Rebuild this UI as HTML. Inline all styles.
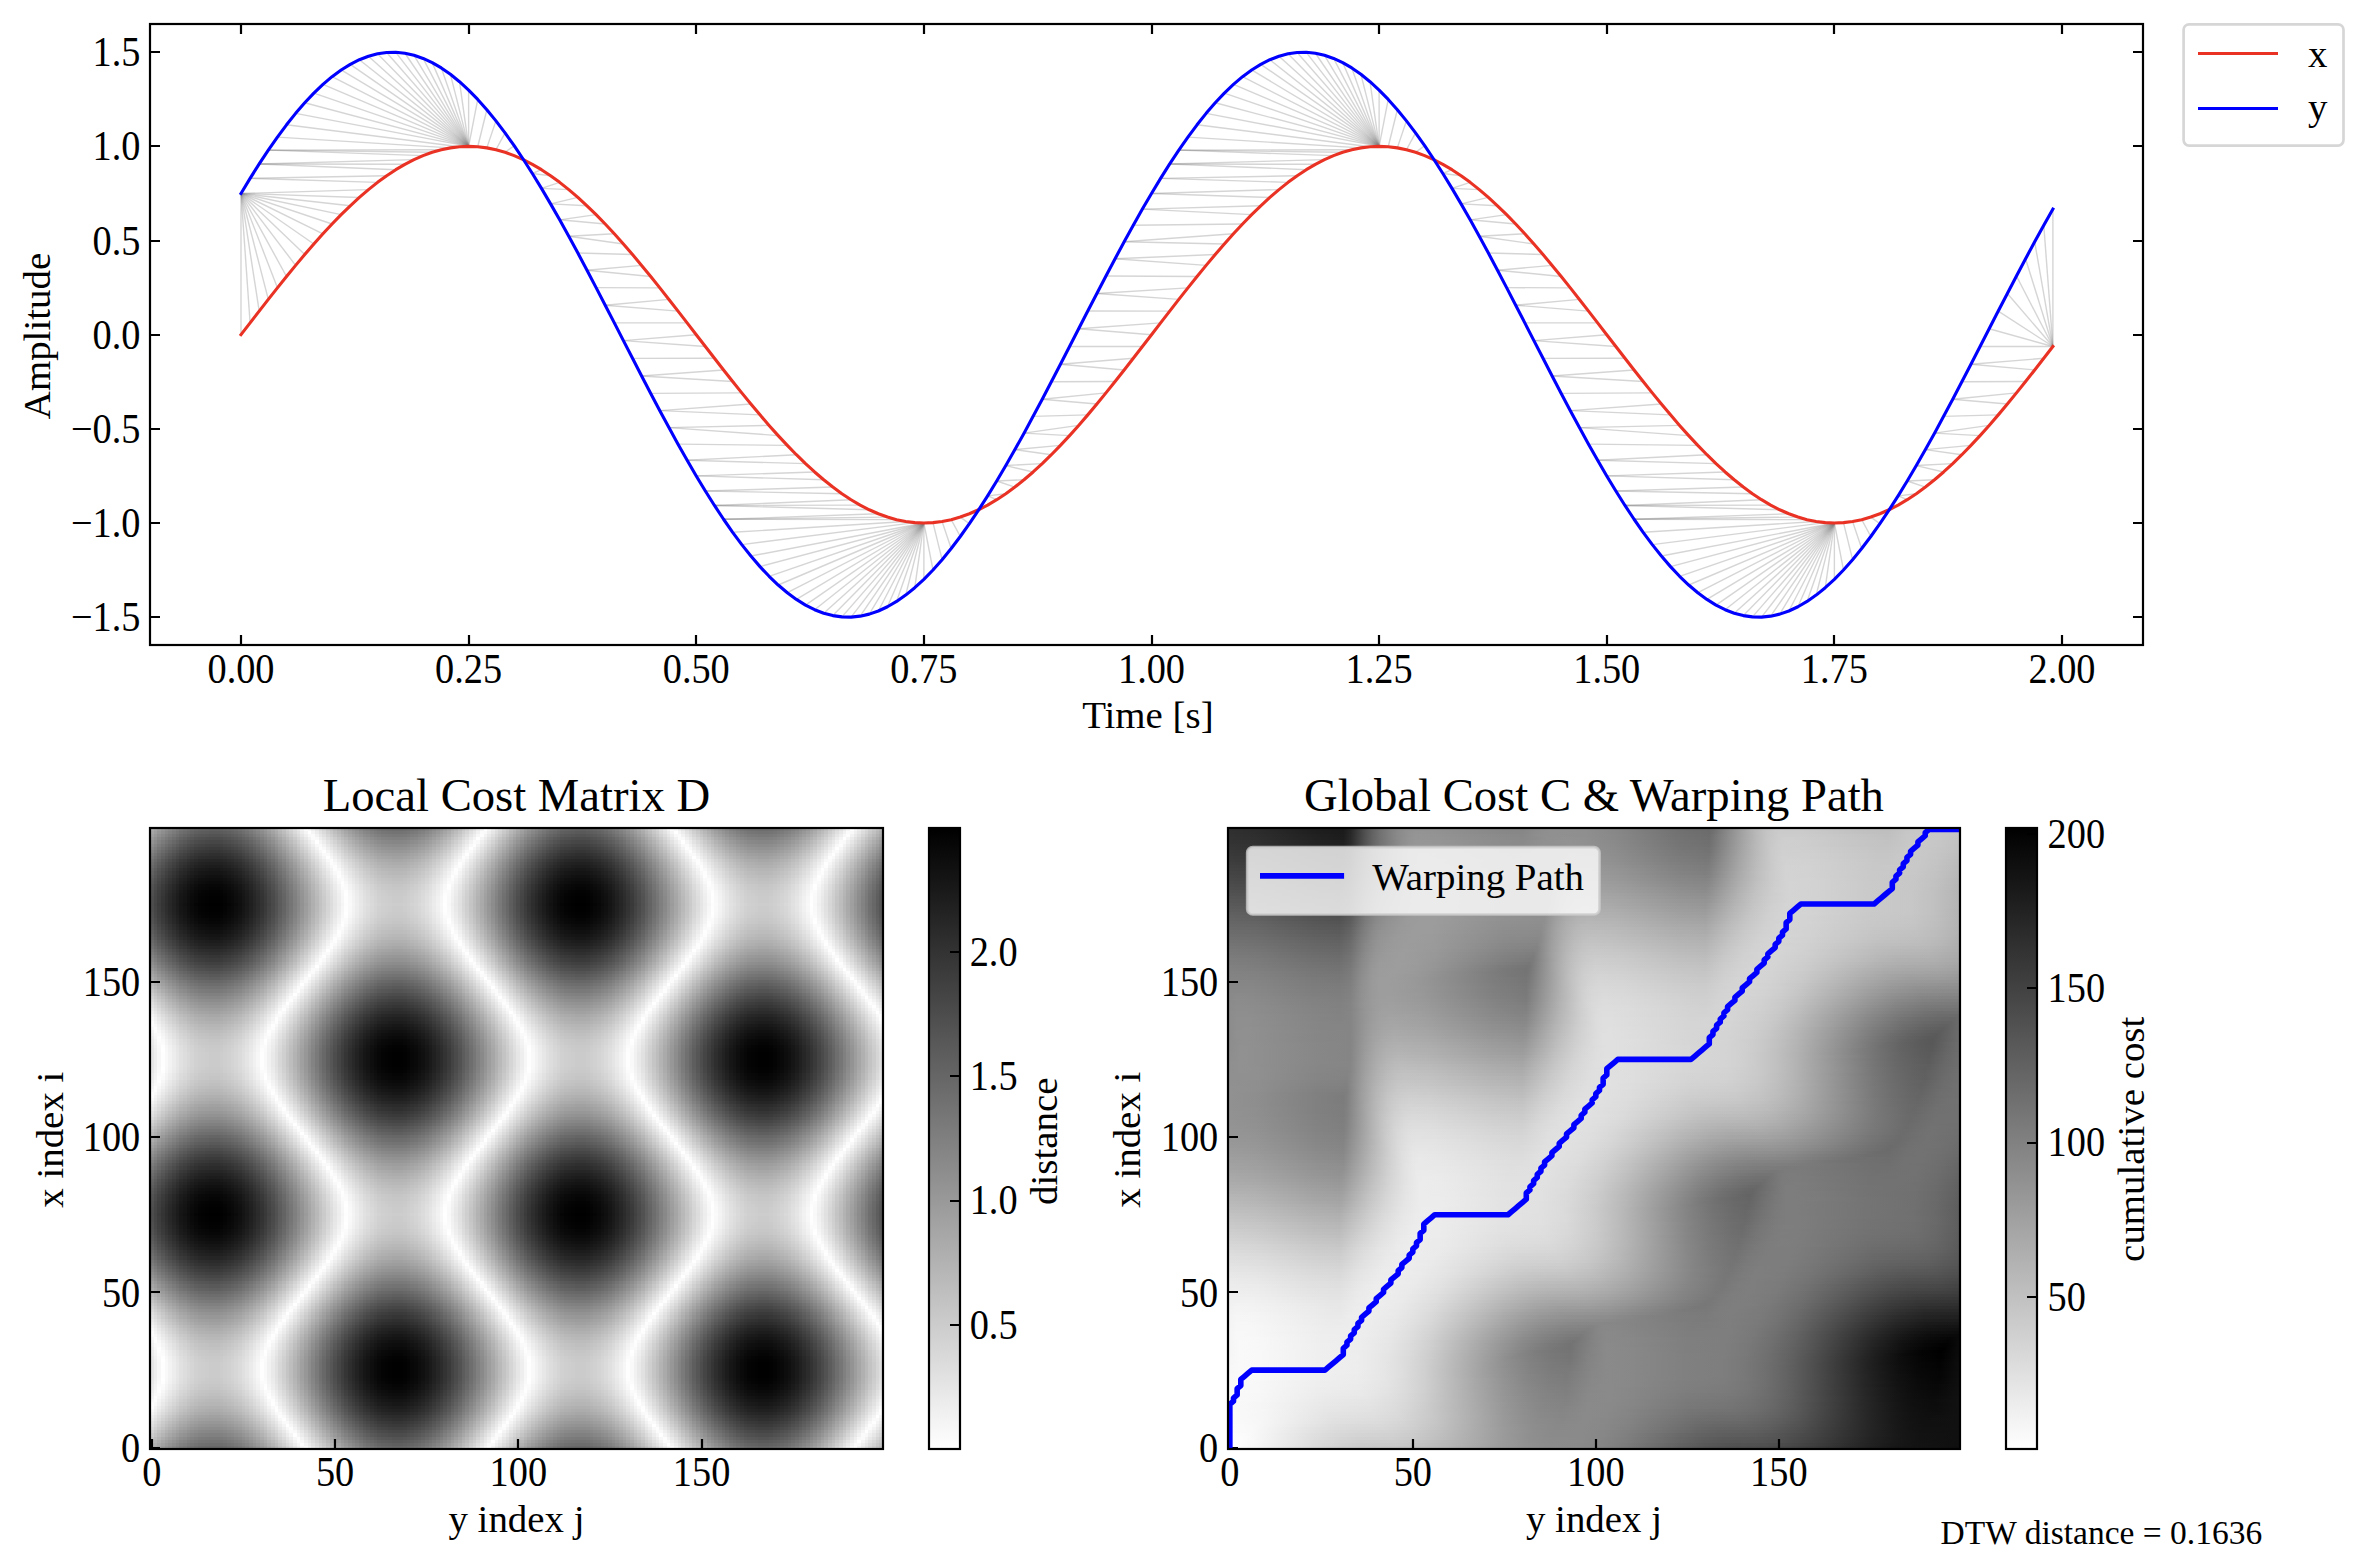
<!DOCTYPE html>
<html><head><meta charset="utf-8"><title>DTW</title>
<style>
html,body{margin:0;padding:0;background:#fff;overflow:hidden}
#fig{position:relative;width:2370px;height:1566px;overflow:hidden;background:#fff}
.h{position:absolute;overflow:hidden}
.h i{display:block;height:3px;width:100%}
.h i.b{height:4px}
.h i.c{height:2px}
.l{position:absolute;left:0;top:0;width:100%;height:100%}
svg text{white-space:pre}
</style></head><body><div id="fig">
<div class="h" style="left:150px;top:828px;width:733px;height:621px;isolation:isolate;filter:brightness(1.2002) invert(1)"><div class="l" style="background:linear-gradient(90deg,#bfbfbf 0% 0.5%,#c6c6c6 0.5% 1%,#cdcdcd 1% 1.5%,#d3d3d3 1.5% 2%,#d9d9d9 2% 2.5%,#dedede 2.5% 3%,#e3e3e3 3% 3.5%,#e8e8e8 3.5% 4%,#ededed 4% 4.5%,#f0f0f0 4.5% 5%,#f4f4f4 5% 5.5%,#f7f7f7 5.5% 6%,#fafafa 6% 6.5%,#fcfcfc 6.5% 7%,#fdfdfd 7% 7.5%,#fefefe 7.5% 8%,#fff 8% 8.5%,#fff 8.5% 9%,#fff 9% 9.5%,#fefefe 9.5% 10%,#fcfcfc 10% 10.5%,#fafafa 10.5% 11%,#f8f8f8 11% 11.5%,#f5f5f5 11.5% 12%,#f2f2f2 12% 12.5%,#eee 12.5% 13%,#eaeaea 13% 13.5%,#e5e5e5 13.5% 14%,#e0e0e0 14% 14.5%,#dbdbdb 14.5% 15%,#d5d5d5 15% 15.5%,#cfcfcf 15.5% 16%,#c8c8c8 16% 16.5%,#c2c2c2 16.5% 17%,#bbb 17% 17.5%,#b3b3b3 17.5% 18%,#acacac 18% 18.5%,#a4a4a4 18.5% 19%,#9d9d9d 19% 19.5%,#959595 19.5% 20%,#8d8d8d 20% 20.5%,#858585 20.5% 21%,#7d7d7d 21% 21.5%,#757575 21.5% 22%,#6d6d6d 22% 22.5%,#656565 22.5% 23%,#5d5d5d 23% 23.5%,#565656 23.5% 24%,#4e4e4e 24% 24.5%,#474747 24.5% 25%,#404040 25% 25.5%,#393939 25.5% 26%,#323232 26% 26.5%,#2c2c2c 26.5% 27%,#262626 27% 27.5%,#212121 27.5% 28%,#1c1c1c 28% 28.5%,#171717 28.5% 29%,#121212 29% 29.5%,#0f0f0f 29.5% 30%,#0b0b0b 30% 30.5%,#080808 30.5% 31%,#050505 31% 31.5%,#030303 31.5% 32%,#020202 32% 32.5%,#010101 32.5% 33%,#000 33% 33.5%,#000 33.5% 34%,#000 34% 34.5%,#010101 34.5% 35%,#030303 35% 35.5%,#050505 35.5% 36%,#070707 36% 36.5%,#0a0a0a 36.5% 37%,#0d0d0d 37% 37.5%,#111 37.5% 38%,#151515 38% 38.5%,#1a1a1a 38.5% 39%,#1f1f1f 39% 39.5%,#242424 39.5% 40%,#2a2a2a 40% 40.5%,#303030 40.5% 41%,#373737 41% 41.5%,#3d3d3d 41.5% 42%,#444 42% 42.5%,#4c4c4c 42.5% 43%,#535353 43% 43.5%,#5b5b5b 43.5% 44%,#626262 44% 44.5%,#6a6a6a 44.5% 45%,#727272 45% 45.5%,#7a7a7a 45.5% 46%,#828282 46% 46.5%,#8a8a8a 46.5% 47%,#929292 47% 47.5%,#9a9a9a 47.5% 48%,#a2a2a2 48% 48.5%,#a9a9a9 48.5% 49%,#b1b1b1 49% 49.5%,#b8b8b8 49.5% 50%,#bfbfbf 50% 50.5%,#c6c6c6 50.5% 51%,#cdcdcd 51% 51.5%,#d3d3d3 51.5% 52%,#d9d9d9 52% 52.5%,#dedede 52.5% 53%,#e3e3e3 53% 53.5%,#e8e8e8 53.5% 54%,#ededed 54% 54.5%,#f0f0f0 54.5% 55%,#f4f4f4 55% 55.5%,#f7f7f7 55.5% 56%,#fafafa 56% 56.5%,#fcfcfc 56.5% 57%,#fdfdfd 57% 57.5%,#fefefe 57.5% 58%,#fff 58% 58.5%,#fff 58.5% 59%,#fff 59% 59.5%,#fefefe 59.5% 60%,#fcfcfc 60% 60.5%,#fafafa 60.5% 61%,#f8f8f8 61% 61.5%,#f5f5f5 61.5% 62%,#f2f2f2 62% 62.5%,#eee 62.5% 63%,#eaeaea 63% 63.5%,#e5e5e5 63.5% 64%,#e0e0e0 64% 64.5%,#dbdbdb 64.5% 65%,#d5d5d5 65% 65.5%,#cfcfcf 65.5% 66%,#c8c8c8 66% 66.5%,#c2c2c2 66.5% 67%,#bbb 67% 67.5%,#b3b3b3 67.5% 68%,#acacac 68% 68.5%,#a4a4a4 68.5% 69%,#9d9d9d 69% 69.5%,#959595 69.5% 70%,#8d8d8d 70% 70.5%,#858585 70.5% 71%,#7d7d7d 71% 71.5%,#757575 71.5% 72%,#6d6d6d 72% 72.5%,#656565 72.5% 73%,#5d5d5d 73% 73.5%,#565656 73.5% 74%,#4e4e4e 74% 74.5%,#474747 74.5% 75%,#404040 75% 75.5%,#393939 75.5% 76%,#323232 76% 76.5%,#2c2c2c 76.5% 77%,#262626 77% 77.5%,#212121 77.5% 78%,#1c1c1c 78% 78.5%,#171717 78.5% 79%,#121212 79% 79.5%,#0f0f0f 79.5% 80%,#0b0b0b 80% 80.5%,#080808 80.5% 81%,#050505 81% 81.5%,#030303 81.5% 82%,#020202 82% 82.5%,#010101 82.5% 83%,#000 83% 83.5%,#000 83.5% 84%,#000 84% 84.5%,#010101 84.5% 85%,#030303 85% 85.5%,#050505 85.5% 86%,#070707 86% 86.5%,#0a0a0a 86.5% 87%,#0d0d0d 87% 87.5%,#111 87.5% 88%,#151515 88% 88.5%,#1a1a1a 88.5% 89%,#1f1f1f 89% 89.5%,#242424 89.5% 90%,#2a2a2a 90% 90.5%,#303030 90.5% 91%,#373737 91% 91.5%,#3d3d3d 91.5% 92%,#444 92% 92.5%,#4c4c4c 92.5% 93%,#535353 93% 93.5%,#5b5b5b 93.5% 94%,#626262 94% 94.5%,#6a6a6a 94.5% 95%,#727272 95% 95.5%,#7a7a7a 95.5% 96%,#828282 96% 96.5%,#8a8a8a 96.5% 97%,#929292 97% 97.5%,#9a9a9a 97.5% 98%,#a2a2a2 98% 98.5%,#a9a9a9 98.5% 99%,#b1b1b1 99% 99.5%,#b8b8b8 99.5% 100%)"></div><div class="l" style="mix-blend-mode:difference;background:linear-gradient(0deg,#808080 0% 0.5%,#858585 0.5% 1%,#8a8a8a 1% 1.5%,#8f8f8f 1.5% 2%,#959595 2% 2.5%,#9a9a9a 2.5% 3%,#9f9f9f 3% 3.5%,#a4a4a4 3.5% 4%,#a8a8a8 4% 4.5%,#adadad 4.5% 5%,#b1b1b1 5% 5.5%,#b6b6b6 5.5% 6%,#bababa 6% 6.5%,#bdbdbd 6.5% 7%,#c1c1c1 7% 7.5%,#c4c4c4 7.5% 8%,#c7c7c7 8% 8.5%,#cacaca 8.5% 9%,#ccc 9% 9.5%,#cfcfcf 9.5% 10%,#d0d0d0 10% 10.5%,#d2d2d2 10.5% 11%,#d3d3d3 11% 11.5%,#d4d4d4 11.5% 12%,#d4d4d4 12% 12.5%,#d4d4d4 12.5% 13%,#d4d4d4 13% 13.5%,#d4d4d4 13.5% 14%,#d3d3d3 14% 14.5%,#d2d2d2 14.5% 15%,#d0d0d0 15% 15.5%,#cfcfcf 15.5% 16%,#ccc 16% 16.5%,#cacaca 16.5% 17%,#c7c7c7 17% 17.5%,#c4c4c4 17.5% 18%,#c1c1c1 18% 18.5%,#bdbdbd 18.5% 19%,#bababa 19% 19.5%,#b6b6b6 19.5% 20%,#b1b1b1 20% 20.5%,#adadad 20.5% 21%,#a8a8a8 21% 21.5%,#a4a4a4 21.5% 22%,#9f9f9f 22% 22.5%,#9a9a9a 22.5% 23%,#959595 23% 23.5%,#8f8f8f 23.5% 24%,#8a8a8a 24% 24.5%,#858585 24.5% 25%,#808080 25% 25.5%,#7a7a7a 25.5% 26%,#757575 26% 26.5%,#707070 26.5% 27%,#6a6a6a 27% 27.5%,#656565 27.5% 28%,#606060 28% 28.5%,#5b5b5b 28.5% 29%,#575757 29% 29.5%,#525252 29.5% 30%,#4e4e4e 30% 30.5%,#494949 30.5% 31%,#454545 31% 31.5%,#424242 31.5% 32%,#3e3e3e 32% 32.5%,#3b3b3b 32.5% 33%,#383838 33% 33.5%,#353535 33.5% 34%,#333 34% 34.5%,#303030 34.5% 35%,#2f2f2f 35% 35.5%,#2d2d2d 35.5% 36%,#2c2c2c 36% 36.5%,#2b2b2b 36.5% 37%,#2b2b2b 37% 37.5%,#2a2a2a 37.5% 38%,#2b2b2b 38% 38.5%,#2b2b2b 38.5% 39%,#2c2c2c 39% 39.5%,#2d2d2d 39.5% 40%,#2f2f2f 40% 40.5%,#303030 40.5% 41%,#333 41% 41.5%,#353535 41.5% 42%,#383838 42% 42.5%,#3b3b3b 42.5% 43%,#3e3e3e 43% 43.5%,#424242 43.5% 44%,#454545 44% 44.5%,#494949 44.5% 45%,#4e4e4e 45% 45.5%,#525252 45.5% 46%,#575757 46% 46.5%,#5b5b5b 46.5% 47%,#606060 47% 47.5%,#656565 47.5% 48%,#6a6a6a 48% 48.5%,#707070 48.5% 49%,#757575 49% 49.5%,#7a7a7a 49.5% 50%,#7f7f7f 50% 50.5%,#858585 50.5% 51%,#8a8a8a 51% 51.5%,#8f8f8f 51.5% 52%,#959595 52% 52.5%,#9a9a9a 52.5% 53%,#9f9f9f 53% 53.5%,#a4a4a4 53.5% 54%,#a8a8a8 54% 54.5%,#adadad 54.5% 55%,#b1b1b1 55% 55.5%,#b6b6b6 55.5% 56%,#bababa 56% 56.5%,#bdbdbd 56.5% 57%,#c1c1c1 57% 57.5%,#c4c4c4 57.5% 58%,#c7c7c7 58% 58.5%,#cacaca 58.5% 59%,#ccc 59% 59.5%,#cfcfcf 59.5% 60%,#d0d0d0 60% 60.5%,#d2d2d2 60.5% 61%,#d3d3d3 61% 61.5%,#d4d4d4 61.5% 62%,#d4d4d4 62% 62.5%,#d4d4d4 62.5% 63%,#d4d4d4 63% 63.5%,#d4d4d4 63.5% 64%,#d3d3d3 64% 64.5%,#d2d2d2 64.5% 65%,#d0d0d0 65% 65.5%,#cfcfcf 65.5% 66%,#ccc 66% 66.5%,#cacaca 66.5% 67%,#c7c7c7 67% 67.5%,#c4c4c4 67.5% 68%,#c1c1c1 68% 68.5%,#bdbdbd 68.5% 69%,#bababa 69% 69.5%,#b6b6b6 69.5% 70%,#b1b1b1 70% 70.5%,#adadad 70.5% 71%,#a8a8a8 71% 71.5%,#a4a4a4 71.5% 72%,#9f9f9f 72% 72.5%,#9a9a9a 72.5% 73%,#959595 73% 73.5%,#8f8f8f 73.5% 74%,#8a8a8a 74% 74.5%,#858585 74.5% 75%,#808080 75% 75.5%,#7a7a7a 75.5% 76%,#757575 76% 76.5%,#707070 76.5% 77%,#6a6a6a 77% 77.5%,#656565 77.5% 78%,#606060 78% 78.5%,#5b5b5b 78.5% 79%,#575757 79% 79.5%,#525252 79.5% 80%,#4e4e4e 80% 80.5%,#494949 80.5% 81%,#454545 81% 81.5%,#424242 81.5% 82%,#3e3e3e 82% 82.5%,#3b3b3b 82.5% 83%,#383838 83% 83.5%,#353535 83.5% 84%,#333 84% 84.5%,#303030 84.5% 85%,#2f2f2f 85% 85.5%,#2d2d2d 85.5% 86%,#2c2c2c 86% 86.5%,#2b2b2b 86.5% 87%,#2b2b2b 87% 87.5%,#2a2a2a 87.5% 88%,#2b2b2b 88% 88.5%,#2b2b2b 88.5% 89%,#2c2c2c 89% 89.5%,#2d2d2d 89.5% 90%,#2f2f2f 90% 90.5%,#303030 90.5% 91%,#333 91% 91.5%,#353535 91.5% 92%,#383838 92% 92.5%,#3b3b3b 92.5% 93%,#3e3e3e 93% 93.5%,#424242 93.5% 94%,#454545 94% 94.5%,#494949 94.5% 95%,#4e4e4e 95% 95.5%,#525252 95.5% 96%,#575757 96% 96.5%,#5b5b5b 96.5% 97%,#606060 97% 97.5%,#656565 97.5% 98%,#6a6a6a 98% 98.5%,#707070 98.5% 99%,#757575 99% 99.5%,#7a7a7a 99.5% 100%)"></div></div>
<div class="h" style="left:1228px;top:828px;width:732px;height:621px"><i style="background:linear-gradient(90deg,#2f2f2f 0.25%,#2c2c2c 3.75%,#1d1d1d 12.25%,#1a1a1a 15.75%,#262626 16.75%,#505050 18.75%,#626262 19.75%,#707070 20.75%,#818181 22.25%,#898989 23.25%,#8f8f8f 24.25%,#929292 25.25%,#929292 28.25%,#888 36.75%,#868686 39.75%,#868686 40.25%,#8c8c8c 42.25%,#909090 44.25%,#909090 46.25%,#8f8f8f 48.75%,#888 52.75%,#6f6f6f 62.25%,#6b6b6b 65.75%,#6f6f6f 66.25%,#9c9c9c 69.75%,#b4b4b4 71.75%,#c1c1c1 73.25%,#c9c9c9 74.75%,#cbcbcb 75.75%,#cacaca 78.25%,#c0c0c0 86.25%,#bebebe 89.25%,#bebebe 90.25%,#c5c5c5 92.75%,#c8c8c8 94.75%,#c8c8c8 97.25%,#c4c4c4 99.75%)"></i><i style="background:linear-gradient(90deg,#303030 0.25%,#2d2d2d 3.75%,#1e1e1e 12.25%,#1b1b1b 15.75%,#272727 16.75%,#515151 18.75%,#626262 19.75%,#717171 20.75%,#818181 22.25%,#8a8a8a 23.25%,#929292 24.75%,#949494 25.75%,#929292 28.75%,#898989 36.25%,#878787 39.25%,#878787 40.25%,#8d8d8d 42.25%,#909090 44.25%,#8f8f8f 48.75%,#878787 53.25%,#717171 61.75%,#6c6c6c 65.75%,#707070 66.25%,#a3a3a3 70.25%,#b9b9b9 72.25%,#c5c5c5 73.75%,#cbcbcb 75.25%,#cbcbcb 78.25%,#c1c1c1 86.25%,#bfbfbf 89.25%,#bfbfbf 90.25%,#c6c6c6 92.75%,#c8c8c8 94.75%,#c7c7c7 97.25%,#c4c4c4 99.75%)"></i><i style="background:linear-gradient(90deg,#313131 0.25%,#2e2e2e 3.75%,#202020 12.25%,#1c1c1c 15.75%,#282828 16.75%,#515151 18.75%,#636363 19.75%,#717171 20.75%,#818181 22.25%,#8a8a8a 23.25%,#929292 24.75%,#959595 25.75%,#939393 28.75%,#8b8b8b 36.25%,#898989 39.25%,#888 40.25%,#8e8e8e 42.25%,#909090 44.25%,#8f8f8f 48.75%,#888 53.25%,#737373 61.25%,#6d6d6d 65.75%,#a3a3a3 70.25%,#b9b9b9 72.25%,#c5c5c5 73.75%,#ccc 75.25%,#ccc 78.25%,#c1c1c1 88.75%,#c0c0c0 90.25%,#c7c7c7 92.75%,#c8c8c8 94.75%,#c7c7c7 97.25%,#c3c3c3 99.75%)"></i><i style="background:linear-gradient(90deg,#323232 0.25%,#2f2f2f 3.75%,#212121 12.25%,#1d1d1d 15.75%,#292929 16.75%,#525252 18.75%,#636363 19.75%,#717171 20.75%,#818181 22.25%,#8a8a8a 23.25%,#939393 24.75%,#959595 25.75%,#949494 28.75%,#8c8c8c 36.25%,#8a8a8a 39.25%,#898989 40.25%,#909090 43.75%,#919191 46.25%,#909090 48.75%,#888 53.25%,#737373 61.75%,#6e6e6e 65.75%,#a4a4a4 70.25%,#b9b9b9 72.25%,#c6c6c6 73.75%,#ccc 75.25%,#cecece 76.25%,#cdcdcd 78.25%,#c2c2c2 88.75%,#c1c1c1 90.25%,#c7c7c7 92.75%,#c9c9c9 94.75%,#c7c7c7 97.25%,#c2c2c2 99.75%)"></i><i class="b" style="background:linear-gradient(90deg,#333 0.25%,#313131 3.75%,#222 12.25%,#1f1f1f 15.75%,#2a2a2a 16.75%,#535353 18.75%,#646464 19.75%,#727272 20.75%,#8a8a8a 23.25%,#939393 24.75%,#969696 25.75%,#959595 28.75%,#8d8d8d 36.25%,#8b8b8b 39.25%,#8a8a8a 40.25%,#8f8f8f 42.25%,#909090 43.75%,#929292 46.75%,#909090 48.75%,#8a8a8a 52.75%,#747474 61.75%,#6f6f6f 65.75%,#9e9e9e 69.75%,#b9b9b9 72.25%,#c6c6c6 73.75%,#cdcdcd 75.25%,#cfcfcf 76.25%,#cecece 78.25%,#c5c5c5 86.25%,#c3c3c3 89.25%,#c2c2c2 90.25%,#c8c8c8 93.25%,#c8c8c8 95.25%,#c6c6c6 97.25%,#c1c1c1 99.75%)"></i><i style="background:linear-gradient(90deg,#353535 0.25%,#323232 3.75%,#232323 12.25%,#202020 15.75%,#2c2c2c 16.75%,#545454 18.75%,#656565 19.75%,#727272 20.75%,#818181 22.25%,#8e8e8e 23.75%,#949494 24.75%,#979797 25.75%,#969696 29.25%,#8e8e8e 35.75%,#8b8b8b 39.25%,#8b8b8b 40.25%,#909090 42.75%,#909090 45.25%,#929292 46.25%,#909090 49.25%,#8b8b8b 52.75%,#757575 61.75%,#707070 65.75%,#9f9f9f 69.75%,#b5b5b5 71.75%,#c6c6c6 73.75%,#cecece 75.25%,#cfcfcf 76.25%,#cecece 78.25%,#c5c5c5 86.25%,#c3c3c3 89.25%,#c3c3c3 90.25%,#c8c8c8 93.25%,#c8c8c8 95.25%,#c6c6c6 97.25%,#c0c0c0 99.75%)"></i><i style="background:linear-gradient(90deg,#363636 0.25%,#333 3.75%,#252525 12.25%,#222 15.75%,#2d2d2d 16.75%,#555 18.75%,#656565 19.75%,#737373 20.75%,#828282 22.25%,#8e8e8e 23.75%,#949494 24.75%,#979797 25.75%,#969696 29.25%,#8f8f8f 35.75%,#8c8c8c 39.25%,#8c8c8c 40.25%,#909090 42.75%,#909090 45.25%,#939393 46.75%,#919191 49.25%,#8c8c8c 52.75%,#757575 62.25%,#727272 65.75%,#a0a0a0 69.75%,#bababa 72.25%,#cacaca 74.25%,#cfcfcf 75.75%,#cecece 79.25%,#c4c4c4 88.75%,#c4c4c4 90.25%,#c8c8c8 92.75%,#c8c8c8 94.75%,#c5c5c5 97.25%,#c0c0c0 99.75%)"></i><i style="background:linear-gradient(90deg,#383838 0.25%,#353535 3.75%,#262626 12.25%,#232323 15.75%,#2f2f2f 16.75%,#565656 18.75%,#666 19.75%,#737373 20.75%,#828282 22.25%,#8e8e8e 23.75%,#949494 24.75%,#989898 25.75%,#979797 29.25%,#8f8f8f 35.75%,#8d8d8d 39.25%,#8d8d8d 40.25%,#909090 42.75%,#919191 45.25%,#939393 46.75%,#939393 48.75%,#8d8d8d 52.75%,#787878 61.75%,#737373 65.75%,#a1a1a1 69.75%,#bababa 72.25%,#cacaca 74.25%,#d0d0d0 75.75%,#cfcfcf 79.25%,#c5c5c5 88.75%,#c5c5c5 90.25%,#c8c8c8 92.75%,#c8c8c8 94.75%,#c5c5c5 97.25%,#bfbfbf 99.75%)"></i><i style="background:linear-gradient(90deg,#393939 0.25%,#363636 3.75%,#282828 12.25%,#252525 15.75%,#303030 16.75%,#575757 18.75%,#676767 19.75%,#747474 20.75%,#878787 22.75%,#929292 24.25%,#979797 25.25%,#999 26.25%,#989898 29.25%,#909090 36.25%,#8e8e8e 39.25%,#919191 42.75%,#909090 44.75%,#949494 46.75%,#939393 49.25%,#8d8d8d 53.25%,#7a7a7a 61.25%,#757575 65.25%,#757575 65.75%,#a2a2a2 69.75%,#bababa 72.25%,#cacaca 74.25%,#d0d0d0 75.75%,#d0d0d0 79.25%,#c6c6c6 88.75%,#c6c6c6 90.25%,#c9c9c9 92.75%,#c8c8c8 94.75%,#c4c4c4 97.25%,#bebebe 99.75%)"></i><i style="background:linear-gradient(90deg,#3b3b3b 0.25%,#373737 4.25%,#292929 12.75%,#272727 15.75%,#323232 16.75%,#585858 18.75%,#686868 19.75%,#757575 20.75%,#878787 22.75%,#929292 24.25%,#979797 25.25%,#9a9a9a 26.25%,#989898 29.25%,#8e8e8e 39.25%,#919191 42.75%,#909090 44.75%,#959595 46.75%,#949494 49.75%,#8e8e8e 53.25%,#7c7c7c 61.25%,#767676 65.25%,#777 65.75%,#a3a3a3 69.75%,#bbb 72.25%,#cacaca 74.25%,#d1d1d1 75.75%,#d0d0d0 79.25%,#c6c6c6 88.75%,#c6c6c6 90.25%,#c9c9c9 92.25%,#c8c8c8 94.25%,#c5c5c5 96.75%,#bdbdbd 99.75%)"></i><i style="background:linear-gradient(90deg,#3c3c3c 0.25%,#393939 4.25%,#2a2a2a 13.25%,#282828 15.25%,#292929 15.75%,#343434 16.75%,#5a5a5a 18.75%,#696969 19.75%,#757575 20.75%,#878787 22.75%,#929292 24.25%,#979797 25.25%,#9a9a9a 26.25%,#999 29.25%,#8f8f8f 39.25%,#919191 42.25%,#909090 44.75%,#949494 45.75%,#969696 46.75%,#959595 49.25%,#8f8f8f 53.25%,#7d7d7d 61.25%,#787878 65.25%,#797979 65.75%,#a4a4a4 69.75%,#bbb 72.25%,#cacaca 74.25%,#d1d1d1 75.75%,#d2d2d2 76.75%,#d1d1d1 79.25%,#c7c7c7 88.75%,#c7c7c7 90.25%,#c9c9c9 92.25%,#c8c8c8 94.25%,#c4c4c4 96.75%,#bcbcbc 99.75%)"></i><i style="background:linear-gradient(90deg,#3e3e3e 0.25%,#3b3b3b 4.25%,#2c2c2c 13.25%,#2a2a2a 15.25%,#2b2b2b 15.75%,#363636 16.75%,#5b5b5b 18.75%,#6a6a6a 19.75%,#767676 20.75%,#848484 22.25%,#8f8f8f 23.75%,#979797 25.25%,#9a9a9a 26.25%,#999 29.25%,#919191 36.75%,#8f8f8f 39.75%,#919191 42.25%,#909090 44.75%,#959595 45.75%,#979797 46.75%,#969696 49.25%,#919191 52.75%,#7e7e7e 61.75%,#7a7a7a 65.25%,#7b7b7b 65.75%,#a5a5a5 69.75%,#bcbcbc 72.25%,#cdcdcd 74.75%,#d2d2d2 76.25%,#d1d1d1 79.75%,#c8c8c8 88.25%,#c7c7c7 90.25%,#c9c9c9 92.25%,#c8c8c8 94.25%,#c4c4c4 96.75%,#bbb 99.75%)"></i><i style="background:linear-gradient(90deg,#404040 0.25%,#3d3d3d 4.25%,#2d2d2d 13.25%,#2c2c2c 15.25%,#2d2d2d 15.75%,#373737 16.75%,#5c5c5c 18.75%,#6c6c6c 19.75%,#777 20.75%,#848484 22.25%,#8f8f8f 23.75%,#989898 25.25%,#9b9b9b 26.25%,#9a9a9a 29.25%,#919191 36.75%,#8f8f8f 39.75%,#919191 42.25%,#909090 44.25%,#989898 46.75%,#989898 49.25%,#939393 52.75%,#808080 61.75%,#7c7c7c 65.25%,#7d7d7d 65.75%,#a6a6a6 69.75%,#bcbcbc 72.25%,#cdcdcd 74.75%,#d3d3d3 76.25%,#d2d2d2 79.25%,#c8c8c8 88.25%,#c9c9c9 92.25%,#c8c8c8 94.25%,#c3c3c3 96.75%,#bababa 99.75%)"></i><i style="background:linear-gradient(90deg,#424242 0.25%,#3f3f3f 4.25%,#2f2f2f 13.25%,#2e2e2e 15.25%,#2f2f2f 15.75%,#393939 16.75%,#5e5e5e 18.75%,#6d6d6d 19.75%,#787878 20.75%,#858585 22.25%,#8f8f8f 23.75%,#989898 25.25%,#9b9b9b 26.25%,#9a9a9a 29.25%,#919191 37.75%,#919191 42.25%,#8f8f8f 44.25%,#969696 45.75%,#999 46.75%,#999 49.25%,#939393 53.75%,#818181 61.75%,#7d7d7d 65.25%,#7f7f7f 65.75%,#a7a7a7 69.75%,#bdbdbd 72.25%,#cdcdcd 74.75%,#d3d3d3 76.25%,#d2d2d2 79.25%,#c8c8c8 88.25%,#c8c8c8 93.75%,#c3c3c3 96.75%,#bababa 99.75%)"></i><i class="b" style="background:linear-gradient(90deg,#444 0.25%,#414141 4.25%,#333 11.75%,#303030 15.25%,#313131 15.75%,#3b3b3b 16.75%,#5f5f5f 18.75%,#6e6e6e 19.75%,#797979 20.75%,#909090 23.75%,#989898 25.25%,#9b9b9b 26.25%,#9a9a9a 29.25%,#919191 37.75%,#919191 42.25%,#8f8f8f 44.25%,#979797 45.75%,#9a9a9a 46.75%,#9a9a9a 49.25%,#959595 53.25%,#838383 61.75%,#7f7f7f 65.25%,#818181 65.75%,#a9a9a9 69.75%,#bebebe 72.25%,#cbcbcb 74.25%,#d3d3d3 76.25%,#d2d2d2 79.25%,#c9c9c9 87.75%,#c8c8c8 93.75%,#c2c2c2 96.75%,#b9b9b9 99.75%)"></i><i style="background:linear-gradient(90deg,#464646 0.25%,#434343 3.75%,#353535 11.75%,#323232 15.25%,#333 15.75%,#3d3d3d 16.75%,#616161 18.75%,#6f6f6f 19.75%,#7a7a7a 20.75%,#909090 23.75%,#9b9b9b 26.25%,#9a9a9a 29.25%,#919191 37.75%,#8f8f8f 44.25%,#989898 45.75%,#9b9b9b 46.75%,#9c9c9c 49.25%,#979797 53.25%,#868686 61.25%,#828282 65.25%,#838383 65.75%,#aaa 69.75%,#bebebe 72.25%,#cbcbcb 74.25%,#d3d3d3 76.25%,#d2d2d2 79.25%,#c9c9c9 87.75%,#c7c7c7 93.75%,#c2c2c2 96.75%,#b8b8b8 99.75%)"></i><i style="background:linear-gradient(90deg,#484848 0.25%,#454545 3.75%,#373737 11.75%,#343434 15.25%,#363636 15.75%,#3f3f3f 16.75%,#636363 18.75%,#717171 19.75%,#7c7c7c 20.75%,#919191 23.75%,#9a9a9a 25.75%,#9c9c9c 26.75%,#9a9a9a 30.25%,#919191 37.75%,#8f8f8f 43.75%,#909090 44.25%,#999 45.75%,#9d9d9d 46.75%,#9d9d9d 49.25%,#989898 53.25%,#888 61.25%,#848484 65.25%,#868686 65.75%,#a7a7a7 69.25%,#bbb 71.75%,#cbcbcb 74.25%,#d3d3d3 76.25%,#d3d3d3 79.25%,#c9c9c9 87.75%,#c7c7c7 93.75%,#c1c1c1 96.75%,#b7b7b7 99.75%)"></i><i style="background:linear-gradient(90deg,#4a4a4a 0.25%,#474747 3.75%,#393939 11.75%,#363636 15.25%,#383838 15.75%,#414141 16.75%,#646464 18.75%,#727272 19.75%,#7d7d7d 20.75%,#919191 23.75%,#989898 25.25%,#9c9c9c 26.75%,#9a9a9a 30.25%,#929292 37.25%,#8f8f8f 43.75%,#909090 44.25%,#9a9a9a 45.75%,#9e9e9e 46.75%,#9f9f9f 47.75%,#9f9f9f 49.25%,#9a9a9a 53.25%,#898989 61.75%,#868686 65.25%,#888 65.75%,#adadad 69.75%,#c0c0c0 72.25%,#cecece 74.75%,#d4d4d4 76.75%,#d2d2d2 80.25%,#cacaca 87.25%,#c7c7c7 93.75%,#c1c1c1 96.75%,#b7b7b7 99.75%)"></i><i style="background:linear-gradient(90deg,#4c4c4c 0.25%,#494949 3.75%,#3b3b3b 12.25%,#383838 15.25%,#3a3a3a 15.75%,#444 16.75%,#666 18.75%,#747474 19.75%,#7e7e7e 20.75%,#929292 23.75%,#989898 25.25%,#9c9c9c 26.75%,#9a9a9a 30.25%,#929292 37.25%,#8f8f8f 43.75%,#9b9b9b 45.75%,#9f9f9f 46.75%,#a1a1a1 47.75%,#a1a1a1 49.25%,#9b9b9b 53.75%,#8b8b8b 61.75%,#888 65.25%,#8a8a8a 65.75%,#aeaeae 69.75%,#c1c1c1 72.25%,#cecece 74.75%,#d4d4d4 76.75%,#d2d2d2 80.25%,#cacaca 87.25%,#c7c7c7 93.75%,#c1c1c1 96.75%,#b6b6b6 99.75%)"></i><i style="background:linear-gradient(90deg,#4e4e4e 0.25%,#4b4b4b 3.75%,#3d3d3d 12.25%,#3a3a3a 15.25%,#3d3d3d 15.75%,#464646 16.75%,#686868 18.75%,#757575 19.75%,#7f7f7f 20.75%,#929292 23.75%,#989898 25.25%,#9c9c9c 26.75%,#9a9a9a 30.25%,#929292 37.25%,#8f8f8f 43.75%,#999 45.25%,#a0a0a0 46.75%,#a2a2a2 47.75%,#a2a2a2 49.25%,#9d9d9d 53.75%,#8d8d8d 62.25%,#8a8a8a 65.25%,#8d8d8d 65.75%,#b0b0b0 69.75%,#c2c2c2 72.25%,#cfcfcf 74.75%,#d4d4d4 76.75%,#d2d2d2 80.25%,#cacaca 87.25%,#c7c7c7 93.75%,#c0c0c0 96.75%,#b6b6b6 99.75%)"></i><i style="background:linear-gradient(90deg,#505050 0.25%,#4e4e4e 3.75%,#404040 11.75%,#3d3d3d 15.25%,#3f3f3f 15.75%,#484848 16.75%,#696969 18.75%,#777 19.75%,#818181 20.75%,#939393 23.75%,#999 25.25%,#9c9c9c 26.75%,#9a9a9a 30.25%,#929292 37.25%,#8f8f8f 43.75%,#9a9a9a 45.25%,#a0a0a0 46.25%,#a3a3a3 47.25%,#a4a4a4 48.75%,#a0a0a0 52.75%,#909090 61.75%,#8c8c8c 65.25%,#8f8f8f 65.75%,#b1b1b1 69.75%,#c3c3c3 72.25%,#cfcfcf 74.75%,#d4d4d4 76.75%,#d2d2d2 80.25%,#cacaca 87.25%,#c7c7c7 93.25%,#c1c1c1 96.25%,#b5b5b5 99.75%)"></i><i style="background:linear-gradient(90deg,#525252 0.25%,#505050 3.75%,#424242 11.75%,#3f3f3f 15.25%,#414141 15.75%,#4a4a4a 16.75%,#6b6b6b 18.75%,#787878 19.75%,#828282 20.75%,#939393 23.75%,#999 25.25%,#9c9c9c 26.75%,#9a9a9a 30.25%,#929292 37.25%,#8f8f8f 43.75%,#9b9b9b 45.25%,#a3a3a3 46.75%,#a6a6a6 47.75%,#a6a6a6 49.25%,#a2a2a2 53.25%,#929292 61.75%,#8f8f8f 65.25%,#919191 65.75%,#b3b3b3 69.75%,#c1c1c1 71.75%,#cdcdcd 74.25%,#d4d4d4 76.75%,#d2d2d2 80.25%,#cacaca 87.25%,#c7c7c7 93.25%,#c1c1c1 96.25%,#b5b5b5 99.75%)"></i><i style="background:linear-gradient(90deg,#555 0.25%,#525252 3.75%,#454545 11.25%,#414141 15.25%,#444 15.75%,#4c4c4c 16.75%,#6d6d6d 18.75%,#7a7a7a 19.75%,#838383 20.75%,#949494 23.75%,#999 25.25%,#9c9c9c 26.75%,#9a9a9a 30.25%,#929292 37.25%,#8f8f8f 43.25%,#909090 43.75%,#9c9c9c 45.25%,#a5a5a5 46.75%,#a7a7a7 47.75%,#a8a8a8 49.25%,#a4a4a4 53.25%,#959595 61.25%,#919191 65.25%,#949494 65.75%,#b4b4b4 69.75%,#c2c2c2 71.75%,#cecece 74.25%,#d4d4d4 76.75%,#d2d2d2 80.25%,#cacaca 87.25%,#c7c7c7 93.25%,#c1c1c1 96.25%,#b5b5b5 99.75%)"></i><i class="b" style="background:linear-gradient(90deg,#575757 0.25%,#545454 3.75%,#474747 11.25%,#444 15.25%,#4f4f4f 16.75%,#6f6f6f 18.75%,#7b7b7b 19.75%,#858585 20.75%,#959595 23.75%,#9a9a9a 25.25%,#9c9c9c 26.75%,#9a9a9a 30.25%,#929292 37.25%,#8f8f8f 43.25%,#909090 43.75%,#9d9d9d 45.25%,#a6a6a6 46.75%,#a9a9a9 47.75%,#aaa 49.25%,#a6a6a6 53.25%,#979797 61.75%,#949494 65.25%,#969696 65.75%,#b2b2b2 69.25%,#c3c3c3 71.75%,#cecece 74.25%,#d4d4d4 76.75%,#d2d2d2 80.25%,#cacaca 87.25%,#c7c7c7 93.25%,#c1c1c1 96.25%,#b5b5b5 99.75%)"></i><i style="background:linear-gradient(90deg,#595959 0.25%,#565656 3.75%,#4a4a4a 11.25%,#464646 15.25%,#515151 16.75%,#717171 18.75%,#7d7d7d 19.75%,#868686 20.75%,#959595 23.75%,#9c9c9c 26.25%,#9b9b9b 29.25%,#929292 37.25%,#8f8f8f 43.25%,#919191 43.75%,#9a9a9a 44.75%,#a5a5a5 46.25%,#ababab 47.75%,#acacac 48.75%,#a9a9a9 52.25%,#9a9a9a 61.25%,#969696 65.25%,#b4b4b4 69.25%,#c4c4c4 71.75%,#cfcfcf 74.25%,#d4d4d4 76.25%,#d3d3d3 79.25%,#cacaca 87.25%,#c7c7c7 93.25%,#c1c1c1 96.25%,#b5b5b5 99.75%)"></i><i style="background:linear-gradient(90deg,#5b5b5b 0.25%,#595959 3.75%,#4c4c4c 11.25%,#484848 15.25%,#535353 16.75%,#727272 18.75%,#838383 20.25%,#8a8a8a 21.25%,#929292 22.75%,#9a9a9a 25.25%,#9c9c9c 26.75%,#9b9b9b 28.75%,#929292 37.25%,#8f8f8f 43.25%,#929292 43.75%,#9b9b9b 44.75%,#a6a6a6 46.25%,#acacac 47.75%,#adadad 48.75%,#ababab 52.25%,#9c9c9c 61.25%,#989898 65.25%,#b6b6b6 69.25%,#c5c5c5 71.75%,#d0d0d0 74.25%,#d4d4d4 76.25%,#d3d3d3 79.25%,#cacaca 87.25%,#c7c7c7 93.25%,#c1c1c1 96.25%,#b5b5b5 99.75%)"></i><i style="background:linear-gradient(90deg,#5d5d5d 0.25%,#5b5b5b 3.75%,#4e4e4e 11.75%,#4b4b4b 15.25%,#555 16.75%,#747474 18.75%,#858585 20.25%,#909090 22.25%,#999 24.75%,#9c9c9c 26.25%,#9c9c9c 28.25%,#929292 37.25%,#8f8f8f 43.25%,#a1a1a1 45.25%,#a8a8a8 46.25%,#aeaeae 47.75%,#afafaf 48.75%,#adadad 52.75%,#9e9e9e 61.25%,#9b9b9b 65.25%,#b7b7b7 69.25%,#c6c6c6 71.75%,#d0d0d0 74.25%,#d4d4d4 76.25%,#d3d3d3 79.25%,#cacaca 87.25%,#c7c7c7 93.25%,#c1c1c1 96.25%,#b4b4b4 99.75%)"></i><i style="background:linear-gradient(90deg,#606060 0.25%,#5c5c5c 4.25%,#4f4f4f 12.25%,#4d4d4d 15.25%,#585858 16.75%,#767676 18.75%,#868686 20.25%,#919191 22.25%,#9a9a9a 24.75%,#9c9c9c 26.25%,#9c9c9c 28.25%,#929292 37.25%,#8f8f8f 43.25%,#9d9d9d 44.75%,#a9a9a9 46.25%,#b0b0b0 47.75%,#b1b1b1 48.75%,#afafaf 52.75%,#a0a0a0 61.75%,#9d9d9d 65.25%,#b9b9b9 69.25%,#c7c7c7 71.75%,#d1d1d1 74.25%,#d4d4d4 76.25%,#d3d3d3 79.75%,#c9c9c9 87.75%,#c7c7c7 93.25%,#c1c1c1 96.25%,#b4b4b4 99.75%)"></i><i style="background:linear-gradient(90deg,#626262 0.25%,#5f5f5f 4.25%,#525252 11.75%,#505050 15.25%,#5a5a5a 16.75%,#787878 18.75%,#888 20.25%,#929292 22.25%,#9a9a9a 24.75%,#9c9c9c 26.25%,#9c9c9c 28.25%,#919191 37.25%,#8e8e8e 43.25%,#9e9e9e 44.75%,#aaa 46.25%,#b1b1b1 47.75%,#b3b3b3 49.25%,#b0b0b0 53.25%,#a2a2a2 61.75%,#a0a0a0 65.25%,#b7b7b7 68.75%,#c6c6c6 71.25%,#d0d0d0 73.75%,#d4d4d4 75.75%,#d3d3d3 78.75%,#c9c9c9 87.25%,#c6c6c6 93.25%,#c0c0c0 96.25%,#b4b4b4 99.75%)"></i><i style="background:linear-gradient(90deg,#646464 0.25%,#616161 3.75%,#545454 11.75%,#525252 15.25%,#5c5c5c 16.75%,#7a7a7a 18.75%,#898989 20.25%,#919191 21.75%,#9a9a9a 24.25%,#9c9c9c 26.25%,#9c9c9c 28.25%,#919191 37.75%,#8f8f8f 43.25%,#9f9f9f 44.75%,#ababab 46.25%,#b3b3b3 47.75%,#b5b5b5 49.25%,#b3b3b3 52.75%,#a5a5a5 61.25%,#a2a2a2 65.25%,#b9b9b9 68.75%,#c7c7c7 71.25%,#d0d0d0 73.75%,#d4d4d4 75.75%,#d3d3d3 78.75%,#c9c9c9 87.25%,#c5c5c5 93.75%,#bfbfbf 96.75%,#b4b4b4 99.75%)"></i><i style="background:linear-gradient(90deg,#666 0.25%,#646464 3.75%,#575757 11.75%,#545454 15.25%,#5e5e5e 16.75%,#7b7b7b 18.75%,#8a8a8a 20.25%,#929292 21.75%,#9a9a9a 24.25%,#9c9c9c 26.25%,#9c9c9c 28.25%,#909090 37.25%,#8e8e8e 42.75%,#8f8f8f 43.25%,#a0a0a0 44.75%,#adadad 46.25%,#b4b4b4 47.75%,#b7b7b7 49.25%,#b5b5b5 52.75%,#a7a7a7 61.25%,#a4a4a4 65.25%,#bbb 68.75%,#c8c8c8 71.25%,#d1d1d1 73.75%,#d4d4d4 75.75%,#d3d3d3 79.25%,#c8c8c8 87.75%,#c5c5c5 93.75%,#bebebe 96.75%,#b4b4b4 99.75%)"></i><i style="background:linear-gradient(90deg,#686868 0.25%,#666 3.75%,#595959 11.75%,#575757 15.25%,#606060 16.75%,#7d7d7d 18.75%,#8c8c8c 20.25%,#939393 21.75%,#999 23.75%,#9c9c9c 25.75%,#9c9c9c 27.75%,#8f8f8f 37.75%,#8d8d8d 42.75%,#909090 43.25%,#a1a1a1 44.75%,#aaa 45.75%,#b1b1b1 46.75%,#b8b8b8 48.25%,#b9b9b9 49.25%,#b7b7b7 52.25%,#aaa 60.75%,#a7a7a7 65.25%,#bababa 68.25%,#c7c7c7 70.75%,#d0d0d0 73.25%,#d4d4d4 75.25%,#d3d3d3 78.75%,#c8c8c8 87.25%,#c4c4c4 93.75%,#bebebe 96.75%,#b4b4b4 99.75%)"></i><i style="background:linear-gradient(90deg,#6a6a6a 0.25%,#686868 3.75%,#5b5b5b 11.75%,#595959 15.25%,#636363 16.75%,#7f7f7f 18.75%,#8d8d8d 20.25%,#949494 21.75%,#9a9a9a 23.75%,#9c9c9c 25.75%,#9c9c9c 27.75%,#8e8e8e 37.75%,#8c8c8c 42.75%,#909090 43.25%,#a2a2a2 44.75%,#afafaf 46.25%,#b8b8b8 47.75%,#bababa 48.75%,#b9b9b9 52.75%,#acacac 61.25%,#a9a9a9 65.25%,#bcbcbc 68.25%,#c8c8c8 70.75%,#d1d1d1 73.25%,#d4d4d4 75.25%,#d2d2d2 79.25%,#c6c6c6 88.25%,#c3c3c3 93.75%,#bdbdbd 96.75%,#b3b3b3 99.75%)"></i><i class="b" style="background:linear-gradient(90deg,#6c6c6c 0.25%,#6a6a6a 3.75%,#5e5e5e 11.75%,#5b5b5b 15.25%,#656565 16.75%,#7a7a7a 18.25%,#8b8b8b 19.75%,#929292 20.75%,#999 23.25%,#9c9c9c 25.25%,#9c9c9c 27.75%,#8d8d8d 37.75%,#8b8b8b 42.75%,#a3a3a3 44.75%,#acacac 45.75%,#b7b7b7 47.25%,#bcbcbc 48.75%,#bdbdbd 50.25%,#bbb 52.75%,#aeaeae 61.25%,#ababab 65.25%,#bdbdbd 68.25%,#cacaca 70.75%,#d1d1d1 73.25%,#d4d4d4 75.25%,#d2d2d2 79.25%,#c5c5c5 88.25%,#c1c1c1 94.25%,#bcbcbc 96.75%,#b3b3b3 99.75%)"></i><i style="background:linear-gradient(90deg,#6e6e6e 0.25%,#6c6c6c 3.75%,#606060 11.75%,#5e5e5e 15.25%,#676767 16.75%,#7c7c7c 18.25%,#8c8c8c 19.75%,#939393 20.75%,#9a9a9a 23.25%,#9c9c9c 25.25%,#9b9b9b 27.75%,#8c8c8c 37.75%,#8a8a8a 42.75%,#9e9e9e 44.25%,#adadad 45.75%,#b8b8b8 47.25%,#bebebe 48.75%,#bfbfbf 50.25%,#bdbdbd 52.75%,#b0b0b0 61.25%,#aeaeae 65.25%,#bfbfbf 68.25%,#cbcbcb 70.75%,#d1d1d1 72.75%,#d4d4d4 74.75%,#d4d4d4 76.75%,#d2d2d2 79.25%,#c4c4c4 88.25%,#c0c0c0 94.25%,#bcbcbc 96.75%,#b2b2b2 99.75%)"></i><i style="background:linear-gradient(90deg,#707070 0.25%,#6e6e6e 3.75%,#626262 12.25%,#606060 15.25%,#696969 16.75%,#7e7e7e 18.25%,#8d8d8d 19.75%,#949494 20.75%,#9a9a9a 22.75%,#9c9c9c 25.25%,#9b9b9b 27.75%,#8b8b8b 37.75%,#888 42.25%,#8a8a8a 42.75%,#a4a4a4 44.75%,#b2b2b2 46.25%,#bcbcbc 47.75%,#bfbfbf 48.75%,#c1c1c1 49.75%,#bfbfbf 52.75%,#b2b2b2 61.75%,#b0b0b0 65.25%,#c1c1c1 68.25%,#cacaca 70.25%,#d2d2d2 72.75%,#d4d4d4 74.75%,#d1d1d1 79.25%,#c3c3c3 88.25%,#bebebe 94.75%,#b9b9b9 97.25%,#b1b1b1 99.75%)"></i><i style="background:linear-gradient(90deg,#727272 0.25%,#707070 3.75%,#646464 12.25%,#626262 15.25%,#6b6b6b 16.75%,#7f7f7f 18.25%,#8f8f8f 19.75%,#959595 20.75%,#9a9a9a 22.75%,#9c9c9c 24.75%,#9b9b9b 27.75%,#8a8a8a 37.75%,#878787 42.25%,#8a8a8a 42.75%,#9f9f9f 44.25%,#afafaf 45.75%,#bbb 47.25%,#c1c1c1 48.75%,#c2c2c2 49.75%,#c1c1c1 52.25%,#b4b4b4 61.75%,#b2b2b2 65.25%,#c2c2c2 68.25%,#cbcbcb 70.25%,#d1d1d1 72.25%,#d4d4d4 74.25%,#d4d4d4 76.25%,#d2d2d2 78.75%,#c1c1c1 88.75%,#bdbdbd 94.75%,#b8b8b8 97.25%,#b0b0b0 99.75%)"></i><i style="background:linear-gradient(90deg,#747474 0.25%,#717171 4.25%,#666 12.25%,#646464 15.25%,#6d6d6d 16.75%,#878787 18.75%,#939393 20.25%,#999 21.75%,#9c9c9c 24.25%,#9a9a9a 28.25%,#888 37.75%,#858585 42.25%,#9f9f9f 44.25%,#b0b0b0 45.75%,#bcbcbc 47.25%,#c3c3c3 48.75%,#c4c4c4 49.75%,#c3c3c3 52.25%,#b6b6b6 61.75%,#b4b4b4 65.25%,#c4c4c4 68.25%,#ccc 70.25%,#d2d2d2 72.25%,#d4d4d4 74.25%,#d1d1d1 78.75%,#bfbfbf 88.75%,#bbb 95.25%,#b7b7b7 97.25%,#afafaf 99.75%)"></i><i style="background:linear-gradient(90deg,#767676 0.25%,#737373 4.25%,#686868 11.75%,#666 15.25%,#6e6e6e 16.75%,#888 18.75%,#949494 20.25%,#999 21.75%,#9c9c9c 24.25%,#9a9a9a 28.25%,#878787 37.75%,#838383 42.25%,#a0a0a0 44.25%,#b1b1b1 45.75%,#bdbdbd 47.25%,#c4c4c4 48.75%,#c6c6c6 49.75%,#c5c5c5 52.25%,#b8b8b8 61.75%,#b6b6b6 65.25%,#c3c3c3 67.75%,#ccc 69.75%,#d1d1d1 71.75%,#d4d4d4 73.75%,#d4d4d4 76.25%,#d1d1d1 78.75%,#bdbdbd 88.75%,#b8b8b8 95.75%,#aeaeae 99.75%)"></i><i style="background:linear-gradient(90deg,#787878 0.25%,#757575 4.25%,#6a6a6a 11.75%,#686868 15.25%,#707070 16.75%,#898989 18.75%,#959595 20.25%,#9a9a9a 21.75%,#9d9d9d 24.25%,#999 28.25%,#858585 37.75%,#818181 41.75%,#838383 42.25%,#a0a0a0 44.25%,#b6b6b6 46.25%,#c1c1c1 47.75%,#c7c7c7 49.25%,#c8c8c8 50.75%,#c6c6c6 53.25%,#bababa 61.75%,#b8b8b8 65.25%,#c5c5c5 67.75%,#cdcdcd 69.75%,#d2d2d2 71.75%,#d4d4d4 73.75%,#d4d4d4 75.75%,#d1d1d1 78.25%,#bdbdbd 87.75%,#b9b9b9 90.75%,#b6b6b6 95.75%,#adadad 99.75%)"></i><i style="background:linear-gradient(90deg,#797979 0.25%,#777 4.25%,#6c6c6c 11.75%,#6a6a6a 15.25%,#727272 16.75%,#8b8b8b 18.75%,#969696 20.25%,#9b9b9b 21.75%,#9d9d9d 23.75%,#989898 28.25%,#838383 37.75%,#7e7e7e 41.75%,#838383 42.25%,#9a9a9a 43.75%,#a7a7a7 44.75%,#b7b7b7 46.25%,#bfbfbf 47.25%,#c5c5c5 48.25%,#c8c8c8 49.25%,#c9c9c9 50.25%,#c7c7c7 54.25%,#bcbcbc 61.75%,#bababa 65.25%,#c8c8c8 68.25%,#d1d1d1 70.75%,#d4d4d4 72.75%,#d4d4d4 75.25%,#cfcfcf 79.25%,#bababa 88.75%,#b7b7b7 91.25%,#b4b4b4 95.75%,#ababab 99.75%)"></i><i style="background:linear-gradient(90deg,#7b7b7b 0.25%,#797979 3.75%,#6e6e6e 11.75%,#6c6c6c 15.25%,#747474 16.75%,#8c8c8c 18.75%,#979797 20.25%,#9b9b9b 21.75%,#9d9d9d 23.75%,#989898 28.25%,#818181 37.75%,#7c7c7c 41.75%,#a1a1a1 44.25%,#b8b8b8 46.25%,#c0c0c0 47.25%,#c6c6c6 48.25%,#cacaca 49.25%,#cbcbcb 50.25%,#c9c9c9 53.75%,#bebebe 61.75%,#bcbcbc 65.25%,#c8c8c8 67.75%,#d0d0d0 70.25%,#d4d4d4 72.75%,#d4d4d4 74.75%,#cecece 79.25%,#b8b8b8 88.75%,#b4b4b4 91.25%,#b2b2b2 95.75%,#aaa 99.75%)"></i><i class="b" style="background:linear-gradient(90deg,#7d7d7d 0.25%,#7b7b7b 3.75%,#707070 11.75%,#6e6e6e 15.25%,#757575 16.75%,#888 18.25%,#959595 19.75%,#9a9a9a 20.75%,#9d9d9d 23.25%,#9b9b9b 25.75%,#979797 28.25%,#818181 37.25%,#7a7a7a 41.25%,#7c7c7c 41.75%,#a7a7a7 44.75%,#b3b3b3 45.75%,#bdbdbd 46.75%,#c4c4c4 47.75%,#c9c9c9 48.75%,#cdcdcd 50.25%,#cbcbcb 53.75%,#c0c0c0 61.75%,#bebebe 65.25%,#c9c9c9 67.75%,#d1d1d1 70.25%,#d4d4d4 72.75%,#d4d4d4 74.75%,#cecece 78.75%,#b5b5b5 89.25%,#b1b1b1 91.75%,#afafaf 96.25%,#a8a8a8 99.75%)"></i><i style="background:linear-gradient(90deg,#7e7e7e 0.25%,#7c7c7c 3.75%,#727272 11.75%,#707070 15.25%,#777 16.75%,#898989 18.25%,#969696 19.75%,#9b9b9b 20.75%,#9d9d9d 23.25%,#9b9b9b 25.75%,#969696 28.25%,#7f7f7f 37.25%,#777 41.25%,#7d7d7d 41.75%,#a8a8a8 44.75%,#b9b9b9 46.25%,#c2c2c2 47.25%,#c8c8c8 48.25%,#ccc 49.25%,#cecece 50.25%,#ccc 53.75%,#c2c2c2 61.75%,#c0c0c0 65.25%,#cbcbcb 67.75%,#d2d2d2 70.25%,#d4d4d4 72.25%,#d4d4d4 74.75%,#cdcdcd 78.75%,#b2b2b2 89.25%,#afafaf 91.75%,#acacac 96.25%,#a6a6a6 99.75%)"></i><i style="background:linear-gradient(90deg,#808080 0.25%,#7e7e7e 3.25%,#747474 11.25%,#727272 15.25%,#787878 16.75%,#8a8a8a 18.25%,#979797 19.75%,#9b9b9b 20.75%,#9d9d9d 23.25%,#9a9a9a 25.75%,#969696 28.25%,#7c7c7c 37.25%,#757575 40.75%,#767676 41.25%,#a8a8a8 44.75%,#b4b4b4 45.75%,#bebebe 46.75%,#c6c6c6 47.75%,#ccc 48.75%,#d0d0d0 50.25%,#cecece 53.25%,#c4c4c4 61.25%,#c2c2c2 65.25%,#ccc 67.75%,#d1d1d1 69.75%,#d4d4d4 71.75%,#d4d4d4 74.25%,#ccc 78.75%,#b6b6b6 86.75%,#afafaf 89.75%,#ababab 92.25%,#a9a9a9 96.75%,#a3a3a3 99.75%)"></i><i style="background:linear-gradient(90deg,#818181 0.25%,#7f7f7f 3.75%,#767676 11.25%,#737373 15.25%,#7a7a7a 16.75%,#8b8b8b 18.25%,#989898 19.75%,#9c9c9c 20.75%,#9d9d9d 22.75%,#9b9b9b 25.25%,#969696 27.75%,#797979 37.75%,#747474 40.75%,#777 41.25%,#a8a8a8 44.75%,#b4b4b4 45.75%,#bfbfbf 46.75%,#c7c7c7 47.75%,#cdcdcd 48.75%,#d1d1d1 50.25%,#cfcfcf 53.75%,#c6c6c6 61.25%,#c3c3c3 65.25%,#cdcdcd 67.75%,#d2d2d2 69.75%,#d5d5d5 71.75%,#d4d4d4 74.25%,#ccc 78.75%,#b3b3b3 86.75%,#acacac 89.75%,#a8a8a8 92.75%,#a6a6a6 96.75%,#a1a1a1 99.75%)"></i><i style="background:linear-gradient(90deg,#828282 0.25%,#818181 3.75%,#777 11.75%,#757575 15.25%,#7b7b7b 16.75%,#8c8c8c 18.25%,#989898 19.75%,#9c9c9c 20.75%,#9d9d9d 22.75%,#9b9b9b 24.75%,#969696 27.25%,#7c7c7c 36.25%,#747474 40.75%,#787878 41.25%,#aeaeae 45.25%,#bfbfbf 46.75%,#c8c8c8 47.75%,#cecece 48.75%,#d1d1d1 49.75%,#d2d2d2 50.75%,#d0d0d0 54.25%,#c7c7c7 61.25%,#c5c5c5 64.75%,#c5c5c5 65.25%,#cecece 67.75%,#d3d3d3 69.75%,#d5d5d5 71.75%,#d3d3d3 74.25%,#cacaca 78.75%,#b1b1b1 86.75%,#a9a9a9 89.75%,#a5a5a5 92.75%,#a2a2a2 97.25%,#9e9e9e 99.75%)"></i><i style="background:linear-gradient(90deg,#838383 0.25%,#828282 3.75%,#787878 11.75%,#777 15.25%,#7c7c7c 16.75%,#8d8d8d 18.25%,#999 19.75%,#9c9c9c 20.75%,#9d9d9d 22.25%,#989898 26.25%,#7e7e7e 35.75%,#777 38.75%,#757575 40.75%,#797979 41.25%,#aeaeae 45.25%,#c0c0c0 46.75%,#c8c8c8 47.75%,#cfcfcf 48.75%,#d2d2d2 49.75%,#d4d4d4 50.75%,#d2d2d2 53.75%,#c9c9c9 61.25%,#c6c6c6 64.75%,#c6c6c6 65.25%,#cfcfcf 67.75%,#d3d3d3 69.75%,#d5d5d5 71.75%,#d3d3d3 74.25%,#c9c9c9 78.75%,#afafaf 86.75%,#a5a5a5 90.25%,#a1a1a1 92.75%,#9f9f9f 97.25%,#9b9b9b 99.75%)"></i><i style="background:linear-gradient(90deg,#848484 0.25%,#838383 3.75%,#7a7a7a 11.75%,#787878 15.25%,#7d7d7d 16.75%,#8e8e8e 18.25%,#999 19.75%,#9d9d9d 20.75%,#9d9d9d 21.75%,#9b9b9b 23.75%,#979797 26.25%,#7d7d7d 36.25%,#767676 40.75%,#7a7a7a 41.25%,#aeaeae 45.25%,#c0c0c0 46.75%,#c9c9c9 47.75%,#cfcfcf 48.75%,#d3d3d3 49.75%,#d5d5d5 50.75%,#d3d3d3 53.75%,#cacaca 61.25%,#c8c8c8 64.75%,#c8c8c8 65.25%,#d0d0d0 67.75%,#d4d4d4 69.75%,#d5d5d5 71.75%,#d3d3d3 73.75%,#cacaca 78.25%,#acacac 86.75%,#a3a3a3 90.25%,#9d9d9d 93.25%,#9c9c9c 97.25%,#989898 99.75%)"></i><i style="background:linear-gradient(90deg,#868686 0.25%,#858585 3.25%,#7b7b7b 11.75%,#797979 15.25%,#7e7e7e 16.75%,#8f8f8f 18.25%,#9a9a9a 19.75%,#9d9d9d 20.75%,#9d9d9d 21.75%,#9b9b9b 24.25%,#969696 26.75%,#7d7d7d 36.25%,#767676 40.75%,#7b7b7b 41.25%,#b5b5b5 45.75%,#c5c5c5 47.25%,#cdcdcd 48.25%,#d2d2d2 49.25%,#d6d6d6 50.75%,#d5d5d5 53.75%,#cbcbcb 61.25%,#c9c9c9 64.25%,#c9c9c9 65.25%,#d1d1d1 67.75%,#d4d4d4 69.75%,#d5d5d5 71.75%,#d3d3d3 73.75%,#c9c9c9 78.25%,#aaa 86.75%,#9f9f9f 90.25%,#9a9a9a 93.25%,#979797 97.75%,#959595 99.75%)"></i><i style="background:linear-gradient(90deg,#868686 0.25%,#868686 3.25%,#7c7c7c 11.75%,#7b7b7b 15.25%,#7f7f7f 16.75%,#8f8f8f 18.25%,#9a9a9a 19.75%,#9d9d9d 20.75%,#9d9d9d 21.75%,#9b9b9b 24.25%,#969696 26.75%,#7d7d7d 36.75%,#777 40.75%,#7c7c7c 41.25%,#b5b5b5 45.75%,#c5c5c5 47.25%,#cdcdcd 48.25%,#d3d3d3 49.25%,#d7d7d7 50.75%,#d6d6d6 53.75%,#cdcdcd 61.25%,#cbcbcb 64.25%,#cbcbcb 65.25%,#d2d2d2 67.75%,#d4d4d4 69.75%,#d4d4d4 71.75%,#d2d2d2 73.75%,#c7c7c7 78.25%,#a6a6a6 87.25%,#9b9b9b 90.75%,#969696 93.75%,#919191 99.75%)"></i><i style="background:linear-gradient(90deg,#878787 0.25%,#878787 3.25%,#7d7d7d 11.75%,#7c7c7c 15.25%,#808080 16.75%,#909090 18.25%,#9a9a9a 19.75%,#9d9d9d 20.75%,#9d9d9d 21.75%,#9b9b9b 24.25%,#979797 26.75%,#7e7e7e 36.75%,#787878 40.75%,#7d7d7d 41.25%,#afafaf 45.25%,#c5c5c5 47.25%,#cecece 48.25%,#d4d4d4 49.25%,#d7d7d7 50.25%,#d8d8d8 51.25%,#d7d7d7 53.75%,#cecece 61.25%,#ccc 64.25%,#ccc 65.25%,#d1d1d1 67.25%,#d4d4d4 69.25%,#d5d5d5 71.25%,#d3d3d3 73.25%,#cecece 75.75%,#c6c6c6 78.25%,#a3a3a3 87.25%,#989898 90.75%,#919191 94.25%,#8e8e8e 99.75%)"></i><i class="b" style="background:linear-gradient(90deg,#888 0.25%,#888 3.25%,#7e7e7e 11.75%,#7d7d7d 15.25%,#818181 16.75%,#909090 18.25%,#9a9a9a 19.75%,#9d9d9d 20.75%,#9d9d9d 22.25%,#979797 26.75%,#7f7f7f 36.25%,#797979 40.75%,#b5b5b5 45.75%,#cacaca 47.75%,#d2d2d2 48.75%,#d7d7d7 49.75%,#d9d9d9 51.25%,#d8d8d8 53.75%,#cfcfcf 61.25%,#cdcdcd 64.25%,#cdcdcd 65.25%,#d2d2d2 67.25%,#d5d5d5 69.25%,#d4d4d4 71.25%,#d2d2d2 73.25%,#cdcdcd 75.75%,#c5c5c5 78.25%,#a0a0a0 87.25%,#959595 90.75%,#8e8e8e 94.25%,#8a8a8a 99.75%)"></i><i style="background:linear-gradient(90deg,#898989 0.25%,#8a8a8a 1.25%,#898989 3.25%,#7f7f7f 11.75%,#7e7e7e 15.25%,#828282 16.75%,#919191 18.25%,#9a9a9a 19.75%,#9d9d9d 20.75%,#9d9d9d 22.25%,#999 26.25%,#808080 36.25%,#7a7a7a 40.75%,#b0b0b0 45.25%,#cacaca 47.75%,#d2d2d2 48.75%,#d7d7d7 49.75%,#dadada 51.25%,#d9d9d9 53.75%,#cecece 63.75%,#cecece 65.25%,#d3d3d3 67.25%,#d5d5d5 69.25%,#d4d4d4 71.25%,#d2d2d2 73.25%,#ccc 75.75%,#c4c4c4 78.25%,#9e9e9e 87.25%,#919191 90.75%,#898989 94.75%,#868686 99.75%)"></i><i style="background:linear-gradient(90deg,#898989 0.25%,#8b8b8b 1.25%,#8a8a8a 3.25%,#818181 11.25%,#7f7f7f 15.25%,#828282 16.75%,#919191 18.25%,#9a9a9a 19.75%,#9d9d9d 20.75%,#9e9e9e 22.25%,#989898 26.75%,#818181 36.25%,#7b7b7b 40.75%,#b0b0b0 45.25%,#cacaca 47.75%,#d2d2d2 48.75%,#d8d8d8 49.75%,#dbdbdb 51.25%,#d9d9d9 54.75%,#cfcfcf 63.75%,#cfcfcf 65.25%,#d3d3d3 67.25%,#d5d5d5 69.25%,#d1d1d1 73.25%,#cbcbcb 75.75%,#c2c2c2 78.25%,#9b9b9b 87.25%,#8e8e8e 90.75%,#858585 94.75%,#828282 99.75%)"></i><i style="background:linear-gradient(90deg,#8a8a8a 0.25%,#8c8c8c 1.25%,#8b8b8b 3.25%,#828282 11.25%,#808080 15.25%,#838383 16.75%,#919191 18.25%,#9b9b9b 19.75%,#9e9e9e 20.75%,#9e9e9e 22.25%,#999 26.75%,#838383 36.25%,#7c7c7c 40.75%,#b1b1b1 45.25%,#cacaca 47.75%,#d3d3d3 48.75%,#d8d8d8 49.75%,#dcdcdc 51.25%,#dadada 54.75%,#d0d0d0 63.75%,#d0d0d0 65.25%,#d3d3d3 66.75%,#d5d5d5 68.75%,#d1d1d1 72.75%,#cbcbcb 75.25%,#c3c3c3 77.75%,#989898 87.25%,#898989 91.25%,#818181 95.25%,#7e7e7e 99.75%)"></i><i style="background:linear-gradient(90deg,#8b8b8b 0.25%,#8c8c8c 1.25%,#8b8b8b 3.75%,#828282 11.75%,#818181 15.25%,#848484 16.75%,#929292 18.25%,#9b9b9b 19.75%,#9e9e9e 20.75%,#9f9f9f 22.25%,#9a9a9a 26.75%,#838383 36.75%,#7e7e7e 40.75%,#b2b2b2 45.25%,#cbcbcb 47.75%,#d3d3d3 48.75%,#d9d9d9 49.75%,#dcdcdc 51.25%,#dadada 54.75%,#d1d1d1 63.25%,#d0d0d0 65.25%,#d3d3d3 66.75%,#d5d5d5 68.75%,#d1d1d1 72.75%,#cacaca 75.25%,#c2c2c2 77.75%,#969696 87.25%,#868686 91.25%,#7d7d7d 95.25%,#7a7a7a 99.75%)"></i><i style="background:linear-gradient(90deg,#8b8b8b 0.25%,#8d8d8d 1.25%,#8c8c8c 3.75%,#838383 11.75%,#818181 15.25%,#848484 16.75%,#929292 18.25%,#9b9b9b 19.75%,#9e9e9e 20.75%,#a0a0a0 22.25%,#9b9b9b 26.75%,#848484 36.75%,#808080 40.75%,#b2b2b2 45.25%,#cbcbcb 47.75%,#d3d3d3 48.75%,#d9d9d9 49.75%,#dcdcdc 50.75%,#ddd 51.75%,#dbdbdb 54.75%,#d2d2d2 63.25%,#d1d1d1 65.25%,#d4d4d4 66.75%,#d5d5d5 68.75%,#d0d0d0 72.75%,#cacaca 75.25%,#c0c0c0 77.75%,#939393 87.25%,#838383 91.25%,#797979 95.25%,#777 99.75%)"></i><i style="background:linear-gradient(90deg,#8b8b8b 0.25%,#8d8d8d 1.25%,#8d8d8d 3.25%,#848484 11.75%,#828282 15.25%,#848484 16.75%,#959595 18.75%,#9d9d9d 20.25%,#a0a0a0 21.25%,#a0a0a0 22.75%,#9b9b9b 27.25%,#868686 36.75%,#828282 39.25%,#818181 40.75%,#aeaeae 44.75%,#cbcbcb 47.75%,#d9d9d9 49.75%,#ddd 50.75%,#ddd 51.75%,#dcdcdc 54.75%,#d3d3d3 62.75%,#d2d2d2 65.25%,#d4d4d4 66.75%,#d5d5d5 68.75%,#d0d0d0 72.75%,#c9c9c9 75.25%,#bfbfbf 77.75%,#909090 87.25%,#808080 91.25%,#767676 95.25%,#737373 99.75%)"></i><i style="background:linear-gradient(90deg,#8c8c8c 0.25%,#8e8e8e 1.25%,#8d8d8d 3.25%,#848484 11.75%,#828282 15.25%,#858585 16.75%,#969696 18.75%,#9e9e9e 20.25%,#a1a1a1 21.25%,#a1a1a1 22.25%,#9e9e9e 26.25%,#888 36.25%,#838383 39.25%,#838383 40.75%,#b4b4b4 45.25%,#cfcfcf 48.25%,#d6d6d6 49.25%,#dbdbdb 50.25%,#dedede 51.25%,#dedede 52.25%,#d3d3d3 63.25%,#d2d2d2 65.25%,#d5d5d5 67.25%,#d4d4d4 69.25%,#cfcfcf 72.75%,#c8c8c8 75.25%,#bebebe 77.75%,#8e8e8e 87.25%,#7d7d7d 91.25%,#727272 95.25%,#6f6f6f 97.25%,#6f6f6f 99.75%)"></i><i style="background:linear-gradient(90deg,#8c8c8c 0.25%,#8e8e8e 1.25%,#8e8e8e 3.25%,#858585 11.75%,#838383 15.25%,#858585 16.75%,#929292 18.25%,#9c9c9c 19.75%,#a0a0a0 20.75%,#a2a2a2 22.25%,#a1a1a1 24.75%,#9d9d9d 27.25%,#8a8a8a 35.75%,#848484 40.25%,#858585 40.75%,#b5b5b5 45.25%,#cfcfcf 48.25%,#dcdcdc 50.25%,#dedede 51.25%,#dedede 52.25%,#d3d3d3 63.25%,#d3d3d3 65.25%,#d5d5d5 67.25%,#d4d4d4 69.25%,#cecece 72.75%,#c7c7c7 75.25%,#bcbcbc 77.75%,#8b8b8b 87.25%,#7a7a7a 91.25%,#6f6f6f 95.25%,#6c6c6c 97.25%,#6b6b6b 99.75%)"></i><i class="b" style="background:linear-gradient(90deg,#8c8c8c 0.25%,#8f8f8f 1.25%,#8f8f8f 2.75%,#848484 12.75%,#838383 15.25%,#858585 16.75%,#969696 18.75%,#9c9c9c 19.75%,#a1a1a1 20.75%,#a4a4a4 22.25%,#a0a0a0 26.75%,#8b8b8b 36.25%,#868686 40.25%,#878787 40.75%,#b6b6b6 45.25%,#d0d0d0 48.25%,#dcdcdc 50.25%,#dfdfdf 51.25%,#dfdfdf 52.25%,#d4d4d4 63.25%,#d5d5d5 68.75%,#cfcfcf 72.25%,#c8c8c8 74.75%,#bbb 77.75%,#868686 87.75%,#757575 91.75%,#6d6d6d 94.25%,#696969 96.75%,#676767 99.25%,#6a6a6a 99.75%)"></i><i style="background:linear-gradient(90deg,#8c8c8c 0.25%,#8f8f8f 1.25%,#8f8f8f 2.75%,#858585 12.75%,#848484 15.25%,#858585 16.75%,#969696 18.75%,#9d9d9d 19.75%,#a2a2a2 20.75%,#a5a5a5 22.25%,#a1a1a1 26.75%,#8d8d8d 36.25%,#888 40.25%,#898989 40.75%,#b2b2b2 44.75%,#ccc 47.75%,#dcdcdc 50.25%,#dfdfdf 51.25%,#dfdfdf 52.25%,#d5d5d5 62.75%,#d4d4d4 68.75%,#cecece 72.25%,#c7c7c7 74.75%,#bababa 77.75%,#848484 87.75%,#727272 91.75%,#696969 94.75%,#646464 97.75%,#646464 98.75%,#6a6a6a 99.75%)"></i><i style="background:linear-gradient(90deg,#8c8c8c 0.25%,#8f8f8f 1.25%,#8f8f8f 2.75%,#858585 12.75%,#858585 16.75%,#979797 18.75%,#9e9e9e 19.75%,#a4a4a4 21.25%,#a6a6a6 22.75%,#a2a2a2 26.75%,#8f8f8f 36.25%,#8a8a8a 40.25%,#8b8b8b 40.75%,#b4b4b4 44.75%,#cdcdcd 47.75%,#dcdcdc 50.25%,#dfdfdf 51.25%,#dfdfdf 52.25%,#d5d5d5 62.75%,#d5d5d5 68.25%,#cfcfcf 71.75%,#c8c8c8 74.25%,#bbb 77.25%,#acacac 80.25%,#828282 87.75%,#6e6e6e 92.25%,#656565 95.25%,#616161 97.75%,#616161 98.25%,#6a6a6a 99.75%)"></i><i style="background:linear-gradient(90deg,#8c8c8c 0.25%,#8f8f8f 1.25%,#909090 2.75%,#858585 12.75%,#858585 16.75%,#979797 18.75%,#9e9e9e 19.75%,#a5a5a5 21.25%,#a7a7a7 22.75%,#a4a4a4 26.75%,#909090 36.25%,#8c8c8c 40.25%,#8e8e8e 40.75%,#b5b5b5 44.75%,#cecece 47.75%,#d7d7d7 49.25%,#dedede 50.75%,#e0e0e0 52.25%,#d5d5d5 62.75%,#d4d4d4 68.25%,#cfcfcf 71.75%,#c7c7c7 74.25%,#bababa 77.25%,#7d7d7d 88.25%,#6a6a6a 92.75%,#626262 95.25%,#5e5e5e 97.75%,#6a6a6a 99.75%)"></i><i style="background:linear-gradient(90deg,#8c8c8c 0.25%,#909090 1.25%,#909090 2.75%,#868686 12.75%,#858585 16.75%,#989898 18.75%,#9f9f9f 19.75%,#a6a6a6 21.25%,#a9a9a9 22.75%,#a5a5a5 27.25%,#929292 36.25%,#8e8e8e 40.25%,#909090 40.75%,#b6b6b6 44.75%,#cecece 47.75%,#d7d7d7 49.25%,#dedede 50.75%,#e0e0e0 52.25%,#d6d6d6 62.75%,#d4d4d4 68.25%,#cecece 71.75%,#c6c6c6 74.25%,#b9b9b9 77.25%,#7b7b7b 88.25%,#676767 92.75%,#606060 95.25%,#5c5c5c 97.25%,#6b6b6b 99.75%)"></i><i style="background:linear-gradient(90deg,#8c8c8c 0.25%,#909090 1.25%,#909090 2.75%,#868686 12.25%,#858585 16.75%,#989898 18.75%,#a0a0a0 19.75%,#a7a7a7 21.25%,#aaa 22.75%,#a6a6a6 27.25%,#959595 35.75%,#909090 40.25%,#929292 40.75%,#b8b8b8 44.75%,#cfcfcf 47.75%,#dcdcdc 50.25%,#e0e0e0 51.25%,#e0e0e0 52.25%,#d6d6d6 62.75%,#d4d4d4 68.25%,#cfcfcf 71.25%,#c6c6c6 74.25%,#b8b8b8 77.25%,#7a7a7a 88.25%,#6d6d6d 90.75%,#636363 93.25%,#5a5a5a 96.75%,#6b6b6b 99.75%)"></i><i style="background:linear-gradient(90deg,#8c8c8c 0.25%,#909090 1.25%,#909090 2.75%,#868686 12.25%,#858585 16.75%,#999 18.75%,#a1a1a1 19.75%,#a8a8a8 21.25%,#acacac 22.75%,#a8a8a8 27.25%,#979797 35.75%,#929292 40.25%,#949494 40.75%,#bdbdbd 45.25%,#d0d0d0 47.75%,#dcdcdc 50.25%,#e0e0e0 51.25%,#e0e0e0 52.25%,#d6d6d6 62.75%,#d4d4d4 67.75%,#cfcfcf 71.25%,#c5c5c5 74.25%,#b8b8b8 77.25%,#787878 88.25%,#6b6b6b 90.75%,#616161 93.25%,#5a5a5a 95.75%,#5a5a5a 96.75%,#636363 98.25%,#6b6b6b 99.75%)"></i><i style="background:linear-gradient(90deg,#8d8d8d 0.25%,#909090 1.75%,#909090 2.75%,#868686 12.25%,#858585 16.75%,#999 18.75%,#a1a1a1 19.75%,#aaa 21.25%,#adadad 22.75%,#aaa 27.25%,#999 36.25%,#949494 40.25%,#979797 40.75%,#bfbfbf 45.25%,#d0d0d0 47.75%,#ddd 50.25%,#e0e0e0 51.25%,#e0e0e0 52.25%,#dedede 55.75%,#d6d6d6 62.25%,#d4d4d4 68.25%,#cbcbcb 72.25%,#c2c2c2 74.75%,#b4b4b4 77.75%,#7f7f7f 86.75%,#6f6f6f 89.75%,#636363 92.25%,#5b5b5b 94.75%,#585858 96.25%,#6b6b6b 99.75%)"></i><i style="background:linear-gradient(90deg,#8d8d8d 0.25%,#909090 1.75%,#909090 2.75%,#878787 12.25%,#858585 16.75%,#9a9a9a 18.75%,#a6a6a6 20.25%,#adadad 21.75%,#afafaf 23.25%,#acacac 27.25%,#9b9b9b 36.25%,#979797 40.25%,#999 40.75%,#bcbcbc 44.75%,#cecece 47.25%,#d6d6d6 48.75%,#ddd 50.25%,#e0e0e0 51.25%,#e0e0e0 52.25%,#dedede 55.25%,#d6d6d6 62.25%,#d4d4d4 67.75%,#d0d0d0 70.25%,#cbcbcb 72.25%,#c2c2c2 74.75%,#b4b4b4 77.75%,#7e7e7e 86.75%,#6d6d6d 89.75%,#626262 92.25%,#5c5c5c 94.25%,#585858 96.25%,#656565 98.25%,#6c6c6c 99.75%)"></i><i style="background:linear-gradient(90deg,#8d8d8d 0.25%,#919191 1.75%,#909090 3.25%,#878787 12.25%,#858585 16.75%,#9b9b9b 18.75%,#a7a7a7 20.25%,#aeaeae 21.75%,#b1b1b1 23.25%,#adadad 27.75%,#9c9c9c 36.75%,#999 40.25%,#9b9b9b 40.75%,#c1c1c1 45.25%,#d2d2d2 47.75%,#d9d9d9 49.25%,#dedede 50.75%,#e0e0e0 51.75%,#e0e0e0 52.75%,#d7d7d7 62.25%,#d4d4d4 67.75%,#d0d0d0 70.25%,#cbcbcb 72.25%,#c2c2c2 74.75%,#b3b3b3 77.75%,#6f6f6f 89.25%,#646464 91.75%,#5c5c5c 94.25%,#595959 96.25%,#656565 98.25%,#6c6c6c 99.75%)"></i><i class="b" style="background:linear-gradient(90deg,#8d8d8d 0.25%,#919191 1.75%,#909090 3.25%,#878787 12.25%,#858585 16.75%,#9b9b9b 18.75%,#a8a8a8 20.25%,#b0b0b0 21.75%,#b2b2b2 23.25%,#afafaf 27.75%,#9f9f9f 36.25%,#9b9b9b 40.25%,#9e9e9e 40.75%,#bfbfbf 44.75%,#d3d3d3 47.75%,#dadada 49.25%,#dfdfdf 50.75%,#e0e0e0 51.75%,#e0e0e0 52.75%,#d7d7d7 62.25%,#d4d4d4 67.75%,#d0d0d0 70.25%,#cbcbcb 72.25%,#c1c1c1 74.75%,#b3b3b3 77.75%,#7f7f7f 86.25%,#727272 88.75%,#646464 91.75%,#5d5d5d 94.25%,#5a5a5a 95.75%,#5a5a5a 96.25%,#666 98.25%,#6c6c6c 99.75%)"></i><i style="background:linear-gradient(90deg,#8e8e8e 0.25%,#919191 1.75%,#909090 3.25%,#878787 12.25%,#858585 16.75%,#9c9c9c 18.75%,#a9a9a9 20.25%,#b1b1b1 21.75%,#b4b4b4 23.25%,#b1b1b1 27.25%,#a1a1a1 36.25%,#9d9d9d 40.25%,#a0a0a0 40.75%,#c1c1c1 44.75%,#d4d4d4 47.75%,#dedede 50.25%,#e0e0e0 51.75%,#e0e0e0 52.75%,#d7d7d7 62.25%,#d4d4d4 67.75%,#d0d0d0 70.25%,#cacaca 72.25%,#c1c1c1 74.75%,#b2b2b2 77.75%,#828282 85.75%,#727272 88.75%,#656565 91.75%,#5d5d5d 94.25%,#5b5b5b 95.75%,#5c5c5c 96.25%,#676767 98.25%,#6d6d6d 99.75%)"></i><i style="background:linear-gradient(90deg,#8e8e8e 0.25%,#919191 1.75%,#909090 3.25%,#878787 12.25%,#858585 16.75%,#9d9d9d 18.75%,#aaa 20.25%,#b2b2b2 21.75%,#b6b6b6 23.25%,#b3b3b3 27.25%,#a4a4a4 35.75%,#a0a0a0 40.25%,#a3a3a3 40.75%,#c2c2c2 44.75%,#d2d2d2 47.25%,#d9d9d9 48.75%,#dedede 50.25%,#e0e0e0 51.75%,#e0e0e0 52.75%,#d7d7d7 62.25%,#d4d4d4 67.75%,#d0d0d0 70.25%,#cacaca 72.25%,#c1c1c1 74.75%,#b2b2b2 77.75%,#757575 88.25%,#676767 91.25%,#5f5f5f 93.75%,#5b5b5b 95.75%,#686868 98.25%,#6d6d6d 99.75%)"></i><i style="background:linear-gradient(90deg,#8e8e8e 0.25%,#919191 1.75%,#909090 3.25%,#878787 12.25%,#858585 16.75%,#9d9d9d 18.75%,#ababab 20.25%,#b4b4b4 21.75%,#b8b8b8 23.25%,#b5b5b5 27.25%,#a6a6a6 36.25%,#a2a2a2 40.25%,#c4c4c4 44.75%,#d3d3d3 47.25%,#dadada 48.75%,#dedede 50.25%,#e1e1e1 51.75%,#e0e0e0 52.75%,#d7d7d7 62.25%,#d4d4d4 67.75%,#d0d0d0 70.25%,#cacaca 72.25%,#c1c1c1 74.75%,#b5b5b5 77.25%,#828282 85.75%,#727272 88.75%,#676767 91.25%,#606060 93.75%,#5c5c5c 95.75%,#666 97.75%,#6e6e6e 99.75%)"></i><i style="background:linear-gradient(90deg,#8f8f8f 0.25%,#919191 1.75%,#909090 3.25%,#878787 12.25%,#868686 16.75%,#9e9e9e 18.75%,#acacac 20.25%,#b5b5b5 21.75%,#b9b9b9 22.75%,#bababa 23.75%,#b7b7b7 27.25%,#a8a8a8 36.25%,#a5a5a5 40.25%,#c5c5c5 44.75%,#d4d4d4 47.25%,#dadada 48.75%,#dfdfdf 50.25%,#e0e0e0 52.75%,#d7d7d7 62.25%,#d4d4d4 67.75%,#d0d0d0 70.25%,#cacaca 72.25%,#c1c1c1 74.75%,#b5b5b5 77.25%,#838383 85.75%,#737373 88.75%,#686868 91.25%,#606060 93.75%,#5c5c5c 95.75%,#676767 97.75%,#6e6e6e 99.75%)"></i><i style="background:linear-gradient(90deg,#8f8f8f 0.25%,#919191 1.75%,#909090 3.25%,#868686 12.75%,#868686 16.75%,#9f9f9f 18.75%,#adadad 20.25%,#b7b7b7 21.75%,#bababa 22.75%,#bcbcbc 23.75%,#b9b9b9 27.75%,#ababab 36.25%,#a7a7a7 40.25%,#c7c7c7 44.75%,#d5d5d5 47.25%,#dbdbdb 48.75%,#dfdfdf 50.25%,#e0e0e0 52.75%,#d6d6d6 62.25%,#d4d4d4 67.75%,#d0d0d0 70.25%,#cacaca 72.25%,#c1c1c1 74.75%,#b5b5b5 77.25%,#757575 88.25%,#686868 91.25%,#616161 93.75%,#5e5e5e 95.75%,#686868 97.75%,#6e6e6e 99.75%)"></i><i style="background:linear-gradient(90deg,#8f8f8f 0.25%,#919191 1.75%,#909090 3.75%,#868686 12.25%,#858585 16.25%,#868686 16.75%,#9f9f9f 18.75%,#b2b2b2 20.75%,#bababa 22.25%,#bebebe 23.75%,#bbb 27.75%,#acacac 36.75%,#aaa 40.25%,#c5c5c5 44.25%,#d6d6d6 47.25%,#dedede 49.75%,#e0e0e0 52.25%,#dedede 55.25%,#d6d6d6 62.25%,#d3d3d3 67.75%,#cfcfcf 70.25%,#cacaca 72.25%,#c1c1c1 74.75%,#b5b5b5 77.25%,#767676 88.25%,#696969 91.25%,#616161 93.75%,#5e5e5e 95.25%,#5f5f5f 95.75%,#696969 97.75%,#6f6f6f 99.75%)"></i><i style="background:linear-gradient(90deg,#8f8f8f 0.25%,#919191 1.75%,#909090 3.75%,#868686 12.25%,#848484 16.25%,#868686 16.75%,#a0a0a0 18.75%,#afafaf 20.25%,#b9b9b9 21.75%,#bebebe 22.75%,#c0c0c0 24.25%,#bebebe 27.25%,#aeaeae 36.75%,#acacac 40.25%,#c7c7c7 44.25%,#d5d5d5 46.75%,#dfdfdf 49.75%,#e0e0e0 52.25%,#dedede 55.25%,#d6d6d6 62.25%,#d3d3d3 68.25%,#cacaca 72.25%,#c1c1c1 74.75%,#b5b5b5 77.25%,#767676 88.25%,#696969 91.25%,#626262 93.75%,#5f5f5f 95.25%,#696969 97.75%,#6f6f6f 99.75%)"></i><i style="background:linear-gradient(90deg,#909090 0.25%,#909090 3.75%,#858585 12.25%,#848484 16.25%,#878787 16.75%,#a1a1a1 18.75%,#b0b0b0 20.25%,#bbb 21.75%,#c1c1c1 23.25%,#c2c2c2 24.25%,#c0c0c0 27.25%,#b1b1b1 36.25%,#aeaeae 40.25%,#c9c9c9 44.25%,#d6d6d6 46.75%,#dfdfdf 49.75%,#e0e0e0 52.25%,#dedede 55.25%,#d5d5d5 62.25%,#d2d2d2 68.25%,#cacaca 72.25%,#c0c0c0 74.75%,#b5b5b5 77.25%,#868686 85.25%,#767676 88.25%,#6a6a6a 91.25%,#626262 93.75%,#606060 95.25%,#6a6a6a 97.75%,#707070 99.75%)"></i><i class="b" style="background:linear-gradient(90deg,#909090 0.25%,#909090 3.75%,#858585 12.25%,#838383 16.25%,#878787 16.75%,#a2a2a2 18.75%,#b1b1b1 20.25%,#bcbcbc 21.75%,#c2c2c2 23.25%,#c3c3c3 24.25%,#c2c2c2 27.25%,#b4b4b4 36.25%,#b1b1b1 40.25%,#cacaca 44.25%,#d7d7d7 46.75%,#dfdfdf 49.75%,#e0e0e0 52.25%,#dedede 55.25%,#d4d4d4 62.75%,#d2d2d2 68.25%,#c9c9c9 72.25%,#c0c0c0 74.75%,#b5b5b5 77.25%,#878787 85.25%,#777 88.25%,#6c6c6c 90.75%,#646464 93.25%,#606060 95.25%,#6b6b6b 97.75%,#707070 99.75%)"></i><i style="background:linear-gradient(90deg,#909090 0.25%,#8f8f8f 3.75%,#848484 12.25%,#828282 16.25%,#878787 16.75%,#a2a2a2 18.75%,#b2b2b2 20.25%,#bebebe 21.75%,#c4c4c4 23.25%,#c5c5c5 24.25%,#c4c4c4 27.25%,#b7b7b7 35.75%,#b3b3b3 40.25%,#c9c9c9 43.75%,#d8d8d8 46.75%,#dfdfdf 49.25%,#e1e1e1 51.75%,#dedede 55.25%,#d4d4d4 62.75%,#d1d1d1 68.25%,#c9c9c9 72.25%,#c0c0c0 74.75%,#b4b4b4 77.25%,#848484 85.75%,#777 88.25%,#6c6c6c 90.75%,#656565 93.25%,#626262 95.25%,#6c6c6c 97.75%,#707070 99.75%)"></i><i style="background:linear-gradient(90deg,#909090 0.25%,#8f8f8f 3.75%,#838383 12.25%,#818181 16.25%,#a3a3a3 18.75%,#b3b3b3 20.25%,#bfbfbf 21.75%,#c6c6c6 23.25%,#c7c7c7 24.25%,#c6c6c6 26.75%,#b8b8b8 36.25%,#b5b5b5 40.25%,#cbcbcb 43.75%,#d9d9d9 46.75%,#dfdfdf 49.25%,#e1e1e1 51.75%,#ddd 55.25%,#d3d3d3 62.75%,#cfcfcf 68.75%,#c8c8c8 72.25%,#bfbfbf 74.75%,#b2b2b2 77.75%,#878787 85.25%,#777 88.25%,#6d6d6d 90.75%,#656565 93.25%,#626262 94.75%,#636363 95.25%,#6d6d6d 97.75%,#717171 99.75%)"></i><i style="background:linear-gradient(90deg,#919191 0.25%,#8f8f8f 3.75%,#828282 12.25%,#808080 16.25%,#9d9d9d 18.25%,#afafaf 19.75%,#b9b9b9 20.75%,#c0c0c0 21.75%,#c7c7c7 23.25%,#c9c9c9 24.75%,#c8c8c8 27.25%,#bbb 36.25%,#b8b8b8 40.25%,#ccc 43.75%,#d8d8d8 46.25%,#dfdfdf 48.75%,#e1e1e1 51.25%,#dedede 54.75%,#d2d2d2 62.75%,#cecece 68.75%,#c7c7c7 72.25%,#bfbfbf 74.75%,#b1b1b1 77.75%,#848484 85.75%,#787878 88.25%,#6d6d6d 90.75%,#666 93.25%,#636363 94.75%,#6d6d6d 97.75%,#717171 99.75%)"></i><i style="background:linear-gradient(90deg,#919191 0.25%,#8f8f8f 3.75%,#818181 12.25%,#7f7f7f 15.75%,#7f7f7f 16.25%,#9d9d9d 18.25%,#b5b5b5 20.25%,#c1c1c1 21.75%,#c9c9c9 23.25%,#cbcbcb 24.75%,#cacaca 27.25%,#bdbdbd 36.25%,#bababa 40.25%,#cecece 43.75%,#d9d9d9 46.25%,#dfdfdf 48.75%,#e1e1e1 51.25%,#ddd 54.75%,#d0d0d0 63.25%,#cdcdcd 69.25%,#c5c5c5 72.75%,#bcbcbc 75.25%,#b1b1b1 77.75%,#787878 88.25%,#6e6e6e 90.75%,#666 93.25%,#646464 94.75%,#6d6d6d 97.25%,#717171 99.75%)"></i><i style="background:linear-gradient(90deg,#919191 0.25%,#8e8e8e 3.75%,#808080 12.25%,#7d7d7d 15.75%,#7f7f7f 16.25%,#9e9e9e 18.25%,#b6b6b6 20.25%,#c3c3c3 21.75%,#c8c8c8 22.75%,#ccc 23.75%,#cdcdcd 24.75%,#cbcbcb 27.75%,#bebebe 36.75%,#bcbcbc 40.25%,#cdcdcd 43.25%,#d8d8d8 45.75%,#dfdfdf 48.25%,#e1e1e1 50.75%,#ddd 54.75%,#cfcfcf 63.25%,#cbcbcb 69.25%,#c4c4c4 72.75%,#bcbcbc 75.25%,#b1b1b1 77.75%,#787878 88.25%,#6e6e6e 90.75%,#676767 93.25%,#656565 94.75%,#6e6e6e 97.25%,#717171 99.75%)"></i><i style="background:linear-gradient(90deg,#919191 0.25%,#8e8e8e 3.75%,#808080 12.25%,#7c7c7c 15.75%,#808080 16.25%,#9e9e9e 18.25%,#b6b6b6 20.25%,#c4c4c4 21.75%,#cacaca 22.75%,#cdcdcd 23.75%,#cfcfcf 24.75%,#cecece 27.25%,#c1c1c1 36.75%,#bebebe 40.25%,#cfcfcf 43.25%,#d9d9d9 45.75%,#dfdfdf 48.25%,#e1e1e1 50.75%,#ddd 54.75%,#cecece 62.75%,#cacaca 69.25%,#c3c3c3 72.75%,#bbb 75.25%,#b0b0b0 77.75%,#787878 88.25%,#6e6e6e 90.75%,#686868 92.75%,#656565 94.25%,#6e6e6e 97.25%,#717171 99.75%)"></i><i style="background:linear-gradient(90deg,#919191 0.25%,#8e8e8e 3.75%,#808080 12.25%,#7c7c7c 15.75%,#808080 16.25%,#9e9e9e 18.25%,#b7b7b7 20.25%,#c5c5c5 21.75%,#cbcbcb 22.75%,#cfcfcf 23.75%,#d1d1d1 24.75%,#d0d0d0 27.25%,#c3c3c3 36.75%,#c1c1c1 40.25%,#d0d0d0 43.25%,#dadada 45.75%,#e0e0e0 48.25%,#e1e1e1 50.25%,#ddd 54.25%,#ccc 63.25%,#c8c8c8 69.75%,#c1c1c1 73.25%,#b8b8b8 75.75%,#adadad 78.25%,#797979 88.25%,#6f6f6f 90.75%,#686868 93.25%,#666 94.25%,#6f6f6f 97.25%,#727272 99.75%)"></i><i style="background:linear-gradient(90deg,#919191 0.25%,#8e8e8e 3.75%,#808080 12.25%,#7c7c7c 15.75%,#808080 16.25%,#a5a5a5 18.75%,#b8b8b8 20.25%,#c6c6c6 21.75%,#ccc 22.75%,#d0d0d0 23.75%,#d2d2d2 24.75%,#d1d1d1 27.25%,#c5c5c5 36.75%,#c3c3c3 40.25%,#d2d2d2 43.25%,#dbdbdb 45.75%,#e0e0e0 47.75%,#e1e1e1 50.25%,#dcdcdc 54.25%,#cacaca 63.25%,#c6c6c6 69.75%,#bfbfbf 73.25%,#b7b7b7 75.75%,#acacac 78.25%,#828282 86.25%,#777 88.75%,#6d6d6d 91.25%,#686868 93.25%,#676767 94.25%,#6f6f6f 97.25%,#727272 99.75%)"></i><i style="background:linear-gradient(90deg,#919191 0.25%,#8e8e8e 3.75%,#808080 12.25%,#7d7d7d 15.75%,#808080 16.25%,#a6a6a6 18.75%,#b8b8b8 20.25%,#c7c7c7 21.75%,#cdcdcd 22.75%,#d2d2d2 23.75%,#d4d4d4 24.75%,#d3d3d3 27.25%,#c7c7c7 36.75%,#c5c5c5 40.25%,#d1d1d1 42.75%,#dbdbdb 45.25%,#e0e0e0 47.75%,#e1e1e1 49.75%,#dcdcdc 54.25%,#c8c8c8 63.75%,#c3c3c3 70.25%,#bcbcbc 73.75%,#b4b4b4 76.25%,#a9a9a9 78.75%,#797979 88.25%,#6f6f6f 90.75%,#6a6a6a 92.75%,#686868 94.25%,#707070 97.25%,#717171 99.75%)"></i><i class="b" style="background:linear-gradient(90deg,#919191 0.25%,#8f8f8f 3.75%,#808080 12.25%,#7d7d7d 15.75%,#818181 16.25%,#a6a6a6 18.75%,#bebebe 20.75%,#cbcbcb 22.25%,#d3d3d3 23.75%,#d6d6d6 25.25%,#d5d5d5 27.75%,#c9c9c9 36.25%,#c7c7c7 40.25%,#d3d3d3 42.75%,#dcdcdc 45.25%,#e0e0e0 47.25%,#e1e1e1 49.25%,#dcdcdc 53.75%,#c6c6c6 63.75%,#c3c3c3 66.25%,#c1c1c1 70.25%,#bbb 73.75%,#b2b2b2 76.25%,#a8a8a8 78.75%,#777 88.75%,#6a6a6a 92.75%,#686868 93.75%,#707070 96.75%,#717171 99.75%)"></i><i style="background:linear-gradient(90deg,#929292 0.25%,#8f8f8f 3.75%,#808080 12.25%,#7d7d7d 15.75%,#818181 16.25%,#adadad 19.25%,#bfbfbf 20.75%,#c8c8c8 21.75%,#d0d0d0 22.75%,#d6d6d6 24.25%,#d7d7d7 25.25%,#d6d6d6 27.75%,#cbcbcb 36.25%,#c9c9c9 40.25%,#d4d4d4 42.75%,#dcdcdc 45.25%,#e0e0e0 47.25%,#e1e1e1 49.25%,#dbdbdb 53.75%,#c4c4c4 63.75%,#c1c1c1 66.25%,#bebebe 70.75%,#b7b7b7 74.25%,#a7a7a7 78.75%,#777 88.75%,#6a6a6a 92.75%,#696969 93.75%,#707070 96.75%,#717171 99.75%)"></i><i style="background:linear-gradient(90deg,#929292 0.25%,#8f8f8f 3.75%,#818181 12.25%,#7d7d7d 15.75%,#818181 16.25%,#adadad 19.25%,#c0c0c0 20.75%,#c9c9c9 21.75%,#d1d1d1 22.75%,#d7d7d7 24.25%,#d9d9d9 25.25%,#d8d8d8 27.75%,#cdcdcd 36.25%,#cbcbcb 40.25%,#d6d6d6 42.75%,#dcdcdc 44.75%,#e0e0e0 46.75%,#e1e1e1 48.75%,#dfdfdf 51.25%,#dbdbdb 53.75%,#c1c1c1 64.25%,#bebebe 66.75%,#bcbcbc 70.75%,#b5b5b5 74.25%,#a5a5a5 78.75%,#777 88.75%,#6b6b6b 92.75%,#6a6a6a 93.75%,#6f6f6f 95.75%,#717171 97.25%,#717171 99.75%)"></i><i style="background:linear-gradient(90deg,#929292 0.25%,#909090 3.75%,#818181 12.25%,#7e7e7e 15.75%,#828282 16.25%,#adadad 19.25%,#c0c0c0 20.75%,#cacaca 21.75%,#d2d2d2 22.75%,#d9d9d9 24.25%,#dadada 25.25%,#d9d9d9 27.75%,#cfcfcf 36.25%,#ccc 40.25%,#d7d7d7 42.75%,#ddd 44.75%,#e0e0e0 46.75%,#e1e1e1 48.75%,#dedede 51.25%,#dadada 53.75%,#bfbfbf 64.25%,#bbb 66.75%,#b9b9b9 71.25%,#b2b2b2 74.75%,#a2a2a2 79.25%,#797979 88.25%,#6c6c6c 92.25%,#6a6a6a 93.25%,#717171 96.75%,#717171 99.75%)"></i><i style="background:linear-gradient(90deg,#939393 0.25%,#909090 3.75%,#828282 12.25%,#7e7e7e 15.75%,#838383 16.25%,#b4b4b4 19.75%,#c0c0c0 20.75%,#cbcbcb 21.75%,#d2d2d2 22.75%,#dadada 24.25%,#dcdcdc 25.25%,#dbdbdb 27.75%,#d0d0d0 36.25%,#cecece 40.25%,#d6d6d6 42.25%,#ddd 44.25%,#e0e0e0 46.25%,#e1e1e1 48.25%,#dfdfdf 50.75%,#dadada 53.25%,#c2c2c2 61.75%,#bbb 64.75%,#b8b8b8 67.25%,#b5b5b5 71.75%,#b0b0b0 74.75%,#a0a0a0 79.25%,#797979 88.25%,#6c6c6c 92.25%,#6a6a6a 93.25%,#6f6f6f 95.25%,#717171 96.75%,#717171 99.75%)"></i><i style="background:linear-gradient(90deg,#939393 0.25%,#919191 3.75%,#828282 12.25%,#7f7f7f 15.75%,#838383 16.25%,#b4b4b4 19.75%,#c6c6c6 21.25%,#d3d3d3 22.75%,#dbdbdb 24.25%,#ddd 25.25%,#ddd 27.25%,#d1d1d1 36.75%,#d0d0d0 40.25%,#d8d8d8 42.25%,#ddd 44.25%,#e0e0e0 45.75%,#e1e1e1 47.75%,#dfdfdf 50.25%,#d9d9d9 53.25%,#c0c0c0 61.75%,#b8b8b8 64.75%,#b4b4b4 67.75%,#b2b2b2 72.25%,#acacac 75.25%,#9e9e9e 79.25%,#787878 88.25%,#6b6b6b 92.75%,#717171 96.25%,#707070 99.75%)"></i><i style="background:linear-gradient(90deg,#949494 0.25%,#919191 3.75%,#838383 12.25%,#7f7f7f 15.75%,#848484 16.25%,#b4b4b4 19.75%,#c6c6c6 21.25%,#d4d4d4 22.75%,#dcdcdc 24.25%,#dedede 25.25%,#dedede 27.25%,#d3d3d3 36.75%,#d1d1d1 40.25%,#d9d9d9 42.25%,#dedede 44.25%,#e0e0e0 45.75%,#e1e1e1 47.75%,#dedede 50.25%,#d8d8d8 53.25%,#bebebe 61.75%,#b5b5b5 65.25%,#b1b1b1 67.75%,#afafaf 72.25%,#a8a8a8 75.75%,#9a9a9a 79.75%,#787878 88.25%,#6c6c6c 92.25%,#6b6b6b 92.75%,#727272 96.25%,#707070 99.75%)"></i><i style="background:linear-gradient(90deg,#959595 0.25%,#929292 3.75%,#838383 12.25%,#808080 15.75%,#858585 16.25%,#b4b4b4 19.75%,#c7c7c7 21.25%,#d5d5d5 22.75%,#dbdbdb 23.75%,#dfdfdf 24.75%,#e0e0e0 25.75%,#dfdfdf 28.25%,#d5d5d5 36.25%,#d3d3d3 39.75%,#d3d3d3 40.25%,#dadada 42.25%,#dfdfdf 44.25%,#e1e1e1 47.25%,#dfdfdf 49.75%,#d8d8d8 52.75%,#bbb 61.75%,#b2b2b2 65.25%,#adadad 68.25%,#ababab 72.75%,#a5a5a5 75.75%,#989898 79.75%,#797979 87.75%,#6d6d6d 91.75%,#6c6c6c 92.75%,#707070 94.75%,#727272 96.25%,#6f6f6f 99.75%)"></i><i style="background:linear-gradient(90deg,#959595 0.25%,#939393 3.75%,#848484 12.25%,#818181 15.75%,#868686 16.25%,#c1c1c1 20.75%,#ccc 21.75%,#d9d9d9 23.25%,#e0e0e0 24.75%,#e1e1e1 25.75%,#e0e0e0 28.25%,#d6d6d6 36.25%,#d4d4d4 39.75%,#d4d4d4 40.25%,#dfdfdf 43.75%,#e1e1e1 46.75%,#dedede 49.75%,#d7d7d7 52.75%,#b7b7b7 62.25%,#aeaeae 65.75%,#a9a9a9 68.75%,#a7a7a7 73.25%,#a1a1a1 76.25%,#969696 79.75%,#787878 87.75%,#6e6e6e 91.25%,#6c6c6c 92.25%,#707070 94.25%,#727272 96.25%,#6f6f6f 99.75%)"></i><i class="b" style="background:linear-gradient(90deg,#969696 0.25%,#949494 3.75%,#858585 12.25%,#828282 15.75%,#878787 16.25%,#b5b5b5 19.75%,#cdcdcd 21.75%,#d9d9d9 23.25%,#e1e1e1 24.75%,#e2e2e2 25.75%,#e1e1e1 28.25%,#d8d8d8 36.25%,#d6d6d6 39.75%,#d6d6d6 40.25%,#dfdfdf 43.75%,#e1e1e1 46.75%,#dedede 49.75%,#d6d6d6 52.75%,#b5b5b5 62.25%,#ababab 65.75%,#a6a6a6 68.75%,#a3a3a3 73.75%,#9d9d9d 76.75%,#929292 80.25%,#767676 87.75%,#6d6d6d 91.25%,#6c6c6c 91.75%,#727272 95.75%,#6e6e6e 99.75%)"></i><i style="background:linear-gradient(90deg,#979797 0.25%,#959595 3.75%,#868686 12.25%,#838383 15.75%,#cdcdcd 21.75%,#dadada 23.25%,#e1e1e1 24.75%,#e3e3e3 25.75%,#e3e3e3 28.25%,#d8d8d8 36.75%,#d7d7d7 39.75%,#d7d7d7 40.25%,#e0e0e0 43.75%,#e1e1e1 46.25%,#dedede 49.25%,#d7d7d7 52.25%,#cdcdcd 55.25%,#b2b2b2 62.25%,#a7a7a7 65.75%,#a2a2a2 68.75%,#9e9e9e 74.25%,#989898 77.25%,#8f8f8f 80.25%,#777 87.25%,#6d6d6d 90.75%,#6c6c6c 91.75%,#707070 93.75%,#727272 95.75%,#6e6e6e 99.75%)"></i><i style="background:linear-gradient(90deg,#989898 0.25%,#969696 3.75%,#878787 12.25%,#848484 15.75%,#cdcdcd 21.75%,#dadada 23.25%,#e2e2e2 24.75%,#e4e4e4 25.75%,#e4e4e4 27.75%,#dadada 36.75%,#d8d8d8 39.75%,#d8d8d8 40.25%,#dfdfdf 43.25%,#e1e1e1 46.25%,#ddd 49.25%,#d6d6d6 52.25%,#cbcbcb 55.25%,#afafaf 62.25%,#a4a4a4 65.75%,#9e9e9e 68.75%,#9b9b9b 73.75%,#969696 76.75%,#8d8d8d 80.25%,#757575 87.25%,#6d6d6d 90.25%,#6c6c6c 91.25%,#707070 93.25%,#727272 95.25%,#717171 97.25%,#6d6d6d 99.75%)"></i><i style="background:linear-gradient(90deg,#999 0.25%,#979797 3.75%,#888 12.25%,#858585 15.75%,#b6b6b6 19.75%,#cdcdcd 21.75%,#dbdbdb 23.25%,#e3e3e3 24.75%,#e5e5e5 25.75%,#e5e5e5 27.75%,#dbdbdb 36.75%,#d9d9d9 39.75%,#e0e0e0 43.25%,#e1e1e1 45.75%,#dedede 48.75%,#d5d5d5 52.25%,#cacaca 55.25%,#ababab 62.75%,#9d9d9d 67.25%,#999 69.75%,#979797 74.25%,#939393 76.75%,#8a8a8a 80.25%,#737373 87.25%,#6c6c6c 90.25%,#6b6b6b 90.75%,#717171 93.25%,#727272 95.25%,#717171 97.25%,#6c6c6c 99.75%)"></i><i style="background:linear-gradient(90deg,#9b9b9b 0.25%,#989898 3.75%,#898989 12.25%,#868686 15.75%,#b6b6b6 19.75%,#d2d2d2 22.25%,#dedede 23.75%,#e5e5e5 25.25%,#e6e6e6 26.25%,#e5e5e5 28.25%,#dcdcdc 36.25%,#dadada 39.25%,#dadada 40.25%,#e0e0e0 43.25%,#e1e1e1 45.75%,#ddd 48.75%,#d5d5d5 51.75%,#cacaca 54.75%,#a6a6a6 63.25%,#999 67.75%,#959595 70.25%,#939393 74.75%,#8f8f8f 77.25%,#878787 80.25%,#737373 86.75%,#6c6c6c 89.75%,#6b6b6b 90.25%,#717171 92.75%,#727272 94.75%,#707070 97.25%,#6c6c6c 99.75%)"></i><i style="background:linear-gradient(90deg,#9c9c9c 0.25%,#999 3.75%,#8b8b8b 12.25%,#878787 15.75%,#b7b7b7 19.75%,#d2d2d2 22.25%,#dfdfdf 23.75%,#e6e6e6 25.25%,#e7e7e7 26.25%,#e6e6e6 28.25%,#ddd 36.25%,#dbdbdb 39.25%,#dbdbdb 40.25%,#e1e1e1 43.25%,#e1e1e1 45.25%,#ddd 48.25%,#d4d4d4 51.75%,#c9c9c9 54.75%,#a3a3a3 63.25%,#959595 67.75%,#919191 70.25%,#8f8f8f 74.25%,#8b8b8b 77.25%,#6c6c6c 88.75%,#6c6c6c 90.25%,#717171 92.75%,#727272 94.75%,#707070 97.25%,#6b6b6b 99.75%)"></i><i style="background:linear-gradient(90deg,#9d9d9d 0.25%,#9b9b9b 3.75%,#8c8c8c 12.25%,#898989 15.75%,#b8b8b8 19.75%,#cdcdcd 21.75%,#dfdfdf 23.75%,#e6e6e6 25.25%,#e8e8e8 26.25%,#e7e7e7 28.25%,#dedede 36.25%,#dcdcdc 39.25%,#dcdcdc 40.25%,#e1e1e1 42.75%,#e1e1e1 44.75%,#ddd 48.25%,#d3d3d3 51.75%,#c7c7c7 54.75%,#a0a0a0 63.25%,#979797 65.75%,#919191 68.25%,#8d8d8d 70.75%,#8b8b8b 74.75%,#878787 77.25%,#6e6e6e 87.25%,#6d6d6d 90.25%,#717171 92.75%,#727272 94.75%,#6f6f6f 97.25%,#6a6a6a 99.75%)"></i><i style="background:linear-gradient(90deg,#9f9f9f 0.25%,#9c9c9c 3.75%,#8d8d8d 12.25%,#8a8a8a 15.75%,#b9b9b9 19.75%,#cecece 21.75%,#dfdfdf 23.75%,#e7e7e7 25.25%,#e9e9e9 26.25%,#e7e7e7 28.75%,#dfdfdf 35.75%,#ddd 39.25%,#ddd 40.25%,#e1e1e1 42.75%,#e1e1e1 44.75%,#dcdcdc 48.25%,#d2d2d2 51.75%,#c5c5c5 54.75%,#9e9e9e 63.25%,#949494 65.75%,#8d8d8d 68.25%,#898989 70.75%,#878787 74.75%,#848484 77.25%,#717171 85.25%,#6e6e6e 90.25%,#727272 92.75%,#727272 94.75%,#6f6f6f 97.25%,#696969 99.75%)"></i><i style="background:linear-gradient(90deg,#a0a0a0 0.25%,#9e9e9e 3.75%,#8f8f8f 12.25%,#8c8c8c 15.75%,#b9b9b9 19.75%,#cecece 21.75%,#dfdfdf 23.75%,#e7e7e7 25.25%,#e9e9e9 26.25%,#e8e8e8 28.75%,#dedede 39.25%,#dedede 40.25%,#e1e1e1 42.75%,#e1e1e1 44.25%,#ddd 47.75%,#d2d2d2 51.25%,#c4c4c4 54.75%,#999 63.75%,#8f8f8f 66.25%,#888 68.75%,#848484 71.25%,#818181 76.75%,#757575 82.25%,#717171 85.75%,#6e6e6e 90.25%,#727272 92.25%,#727272 94.75%,#6e6e6e 97.25%,#686868 99.75%)"></i><i style="background:linear-gradient(90deg,#a2a2a2 0.25%,#9f9f9f 3.75%,#919191 12.25%,#8e8e8e 15.75%,#bababa 19.75%,#cecece 21.75%,#e3e3e3 24.25%,#e9e9e9 25.75%,#e8e8e8 29.25%,#dedede 38.75%,#e1e1e1 44.25%,#dcdcdc 47.75%,#d1d1d1 51.25%,#c2c2c2 54.75%,#969696 63.75%,#8a8a8a 66.75%,#848484 69.25%,#808080 71.75%,#7e7e7e 76.25%,#707070 87.75%,#6f6f6f 90.25%,#727272 92.25%,#717171 94.75%,#6e6e6e 97.25%,#676767 99.75%)"></i><i class="b" style="background:linear-gradient(90deg,#a3a3a3 0.25%,#a0a0a0 4.25%,#919191 12.75%,#909090 15.75%,#b6b6b6 19.25%,#cfcfcf 21.75%,#e3e3e3 24.25%,#e9e9e9 25.75%,#e9e9e9 29.25%,#dfdfdf 38.75%,#e1e1e1 43.75%,#dcdcdc 47.25%,#d0d0d0 51.25%,#c1c1c1 54.75%,#939393 63.75%,#878787 66.75%,#808080 69.25%,#7c7c7c 72.25%,#7a7a7a 78.75%,#707070 88.25%,#707070 90.25%,#727272 92.25%,#727272 94.25%,#6e6e6e 96.75%,#666 99.75%)"></i><i style="background:linear-gradient(90deg,#a5a5a5 0.25%,#a2a2a2 4.25%,#959595 11.75%,#919191 15.25%,#929292 15.75%,#bcbcbc 19.75%,#d4d4d4 22.25%,#e3e3e3 24.25%,#eaeaea 25.75%,#ebebeb 26.75%,#e9e9e9 29.25%,#e0e0e0 38.75%,#e1e1e1 43.75%,#dcdcdc 47.25%,#d1d1d1 50.75%,#c2c2c2 54.25%,#8e8e8e 64.25%,#838383 67.25%,#7c7c7c 69.75%,#797979 71.75%,#777 74.25%,#777 74.75%,#7b7b7b 76.25%,#7b7b7b 78.25%,#707070 88.75%,#727272 93.75%,#6e6e6e 96.75%,#666 99.75%)"></i><i style="background:linear-gradient(90deg,#a7a7a7 0.25%,#a4a4a4 4.25%,#969696 11.75%,#929292 15.25%,#949494 15.75%,#bdbdbd 19.75%,#d4d4d4 22.25%,#e3e3e3 24.25%,#eaeaea 25.75%,#ebebeb 26.75%,#eaeaea 29.25%,#e0e0e0 38.25%,#e1e1e1 43.75%,#dbdbdb 47.25%,#d0d0d0 50.75%,#c0c0c0 54.25%,#8c8c8c 64.25%,#808080 67.25%,#797979 69.75%,#747474 72.25%,#747474 74.25%,#7b7b7b 75.75%,#7c7c7c 77.25%,#717171 88.25%,#727272 93.75%,#6d6d6d 96.75%,#656565 99.75%)"></i><i style="background:linear-gradient(90deg,#a9a9a9 0.25%,#a5a5a5 4.25%,#989898 11.75%,#949494 15.25%,#969696 15.75%,#bababa 19.25%,#d1d1d1 21.75%,#e0e0e0 23.75%,#eaeaea 25.75%,#ececec 26.75%,#ebebeb 28.75%,#e1e1e1 38.25%,#e1e1e1 43.25%,#dcdcdc 46.75%,#cfcfcf 50.75%,#bfbfbf 54.25%,#898989 64.25%,#7d7d7d 67.25%,#747474 70.25%,#717171 72.25%,#717171 73.75%,#7b7b7b 75.75%,#7c7c7c 76.75%,#7c7c7c 78.25%,#727272 87.75%,#717171 90.25%,#727272 92.25%,#717171 94.25%,#6d6d6d 96.75%,#646464 99.75%)"></i><i style="background:linear-gradient(90deg,#aaa 0.25%,#a7a7a7 4.25%,#9a9a9a 11.75%,#969696 15.25%,#989898 15.75%,#bbb 19.25%,#d2d2d2 21.75%,#e0e0e0 23.75%,#eaeaea 25.75%,#ececec 26.75%,#ebebeb 28.75%,#e1e1e1 38.25%,#e1e1e1 43.25%,#dbdbdb 46.75%,#cecece 50.75%,#bebebe 54.25%,#878787 64.25%,#7a7a7a 67.25%,#717171 70.25%,#6e6e6e 73.25%,#7b7b7b 75.75%,#7c7c7c 77.75%,#727272 87.75%,#727272 92.25%,#717171 94.25%,#6c6c6c 96.75%,#636363 99.75%)"></i><i style="background:linear-gradient(90deg,#acacac 0.25%,#a9a9a9 4.25%,#9c9c9c 11.75%,#989898 15.25%,#9a9a9a 15.75%,#c1c1c1 19.75%,#d6d6d6 22.25%,#e3e3e3 24.25%,#ececec 26.25%,#ebebeb 29.25%,#e2e2e2 37.75%,#e1e1e1 43.25%,#dbdbdb 46.75%,#cdcdcd 50.75%,#bcbcbc 54.25%,#858585 64.25%,#787878 67.25%,#6f6f6f 70.25%,#6b6b6b 72.75%,#747474 74.25%,#7b7b7b 75.75%,#7d7d7d 77.75%,#727272 87.75%,#727272 92.25%,#707070 94.25%,#6c6c6c 96.75%,#626262 99.75%)"></i><i style="background:linear-gradient(90deg,#aeaeae 0.25%,#acacac 3.75%,#9e9e9e 11.75%,#9a9a9a 15.25%,#9c9c9c 15.75%,#c3c3c3 19.75%,#d7d7d7 22.25%,#e4e4e4 24.25%,#ececec 26.25%,#ebebeb 29.25%,#e2e2e2 37.75%,#e1e1e1 42.75%,#dcdcdc 46.25%,#cfcfcf 50.25%,#bbb 54.25%,#838383 64.25%,#747474 67.75%,#6b6b6b 70.75%,#686868 72.25%,#797979 75.25%,#7d7d7d 76.25%,#7d7d7d 77.25%,#737373 87.75%,#717171 93.75%,#6b6b6b 96.75%,#616161 99.75%)"></i><i style="background:linear-gradient(90deg,#b0b0b0 0.25%,#aeaeae 3.75%,#a0a0a0 11.75%,#9c9c9c 15.25%,#9e9e9e 15.75%,#bfbfbf 19.25%,#d4d4d4 21.75%,#e4e4e4 24.25%,#ececec 26.25%,#ebebeb 29.25%,#e2e2e2 37.75%,#e1e1e1 42.75%,#dbdbdb 46.25%,#cecece 50.25%,#bababa 54.25%,#818181 64.25%,#717171 67.75%,#686868 70.75%,#666 71.75%,#797979 75.25%,#7d7d7d 76.25%,#7d7d7d 77.25%,#737373 87.25%,#717171 93.75%,#6b6b6b 96.75%,#616161 99.75%)"></i><i style="background:linear-gradient(90deg,#b2b2b2 0.25%,#b0b0b0 3.75%,#a2a2a2 11.75%,#9f9f9f 15.25%,#a1a1a1 15.75%,#c1c1c1 19.25%,#d5d5d5 21.75%,#e4e4e4 24.25%,#ececec 26.25%,#ebebeb 29.75%,#e2e2e2 37.75%,#e1e1e1 42.75%,#dbdbdb 46.25%,#cdcdcd 50.25%,#b9b9b9 54.25%,#7f7f7f 64.25%,#6f6f6f 67.75%,#666 70.75%,#666 71.75%,#707070 73.25%,#777 74.75%,#7d7d7d 76.25%,#7d7d7d 77.25%,#7b7b7b 80.75%,#737373 87.25%,#707070 93.75%,#6a6a6a 96.75%,#606060 99.75%)"></i><i style="background:linear-gradient(90deg,#b5b5b5 0.25%,#b2b2b2 3.75%,#a3a3a3 12.25%,#a1a1a1 15.25%,#a3a3a3 15.75%,#c3c3c3 19.25%,#d6d6d6 21.75%,#e5e5e5 24.25%,#ececec 26.25%,#ebebeb 29.75%,#e2e2e2 37.75%,#e1e1e1 42.75%,#d9d9d9 46.75%,#cacaca 50.75%,#b8b8b8 54.25%,#7e7e7e 64.25%,#707070 67.25%,#666 70.25%,#646464 71.25%,#787878 74.75%,#7d7d7d 76.25%,#7d7d7d 77.25%,#7b7b7b 80.75%,#737373 87.25%,#707070 93.75%,#6a6a6a 96.75%,#606060 99.75%)"></i><i class="b" style="background:linear-gradient(90deg,#b7b7b7 0.25%,#b4b4b4 3.75%,#a5a5a5 12.25%,#a3a3a3 15.25%,#a5a5a5 15.75%,#c4c4c4 19.25%,#d7d7d7 21.75%,#e5e5e5 24.25%,#ececec 26.25%,#ececec 29.25%,#e3e3e3 37.25%,#e1e1e1 42.75%,#d9d9d9 46.75%,#cacaca 50.75%,#b8b8b8 54.25%,#7c7c7c 64.25%,#6e6e6e 67.25%,#686868 69.25%,#656565 71.25%,#717171 73.25%,#787878 74.75%,#7d7d7d 76.25%,#7d7d7d 77.25%,#7c7c7c 80.25%,#747474 87.25%,#707070 93.75%,#6a6a6a 96.75%,#5f5f5f 99.75%)"></i><i style="background:linear-gradient(90deg,#b9b9b9 0.25%,#b6b6b6 3.75%,#a8a8a8 11.75%,#a5a5a5 15.25%,#a8a8a8 15.75%,#c6c6c6 19.25%,#d8d8d8 21.75%,#e6e6e6 24.25%,#ececec 26.25%,#ececec 29.25%,#e3e3e3 37.25%,#e1e1e1 42.25%,#dadada 46.25%,#ccc 50.25%,#b7b7b7 54.25%,#7b7b7b 64.25%,#707070 66.75%,#696969 69.25%,#666 71.25%,#727272 73.25%,#787878 74.75%,#7d7d7d 76.25%,#7d7d7d 77.75%,#747474 87.25%,#707070 93.75%,#696969 96.75%,#5f5f5f 99.75%)"></i><i style="background:linear-gradient(90deg,#bbb 0.25%,#b8b8b8 3.75%,#ababab 11.75%,#a7a7a7 15.25%,#aaa 15.75%,#cbcbcb 19.75%,#d9d9d9 21.75%,#e6e6e6 24.25%,#ececec 26.25%,#ececec 29.25%,#e3e3e3 37.25%,#e1e1e1 42.25%,#dadada 46.25%,#cbcbcb 50.25%,#b7b7b7 54.25%,#808080 63.25%,#737373 66.25%,#696969 69.25%,#666 70.75%,#676767 71.25%,#727272 73.25%,#797979 74.75%,#7d7d7d 76.25%,#7d7d7d 77.75%,#747474 87.25%,#707070 93.75%,#696969 96.75%,#5e5e5e 99.75%)"></i><i style="background:linear-gradient(90deg,#bdbdbd 0.25%,#bbb 3.75%,#aeaeae 11.25%,#aaa 15.25%,#adadad 15.75%,#c9c9c9 19.25%,#d7d7d7 21.25%,#e5e5e5 23.75%,#ebebeb 25.75%,#ededed 26.75%,#ececec 28.75%,#e3e3e3 37.25%,#e1e1e1 42.25%,#dbdbdb 45.75%,#cdcdcd 49.75%,#b9b9b9 53.75%,#919191 60.25%,#818181 63.25%,#737373 66.25%,#6a6a6a 69.25%,#676767 70.75%,#686868 71.25%,#737373 73.25%,#797979 74.75%,#7d7d7d 76.25%,#7d7d7d 77.75%,#747474 87.25%,#707070 93.75%,#696969 96.75%,#5e5e5e 99.75%)"></i><i style="background:linear-gradient(90deg,#bfbfbf 0.25%,#bdbdbd 3.75%,#b0b0b0 11.25%,#acacac 15.25%,#afafaf 15.75%,#cbcbcb 19.25%,#d8d8d8 21.25%,#e5e5e5 23.75%,#ebebeb 25.75%,#ededed 26.75%,#ececec 28.75%,#e3e3e3 37.25%,#e1e1e1 42.25%,#dbdbdb 45.75%,#cdcdcd 49.75%,#b9b9b9 53.75%,#929292 60.25%,#818181 63.25%,#737373 66.25%,#6a6a6a 69.25%,#686868 70.75%,#747474 73.25%,#7a7a7a 74.75%,#7d7d7d 76.25%,#7d7d7d 77.75%,#747474 87.25%,#707070 93.25%,#6a6a6a 96.25%,#5e5e5e 99.75%)"></i><i style="background:linear-gradient(90deg,#c2c2c2 0.25%,#bfbfbf 3.75%,#b2b2b2 11.25%,#afafaf 15.25%,#cdcdcd 19.25%,#dadada 21.25%,#e6e6e6 23.75%,#ececec 25.75%,#ededed 26.75%,#ececec 28.75%,#e3e3e3 37.25%,#e0e0e0 42.75%,#dadada 46.25%,#cbcbcb 50.25%,#b9b9b9 53.75%,#929292 60.25%,#818181 63.25%,#747474 66.25%,#6b6b6b 69.25%,#686868 70.75%,#727272 72.75%,#7a7a7a 74.75%,#7d7d7d 76.25%,#7d7d7d 77.75%,#747474 87.25%,#707070 93.25%,#6a6a6a 96.25%,#5e5e5e 99.75%)"></i><i style="background:linear-gradient(90deg,#c4c4c4 0.25%,#c1c1c1 3.75%,#b5b5b5 11.25%,#b1b1b1 15.25%,#cecece 19.25%,#dbdbdb 21.25%,#e7e7e7 23.75%,#ececec 25.75%,#ececec 28.75%,#e3e3e3 37.25%,#e0e0e0 42.75%,#dadada 46.25%,#cbcbcb 50.25%,#b9b9b9 53.75%,#929292 60.25%,#818181 63.25%,#747474 66.25%,#6c6c6c 68.75%,#696969 70.75%,#737373 72.75%,#7a7a7a 74.75%,#7d7d7d 76.25%,#7d7d7d 78.25%,#747474 87.25%,#707070 93.75%,#696969 96.75%,#5e5e5e 99.75%)"></i><i style="background:linear-gradient(90deg,#c6c6c6 0.25%,#c3c3c3 3.75%,#b6b6b6 11.75%,#b3b3b3 15.25%,#d0d0d0 19.25%,#dcdcdc 21.25%,#e7e7e7 23.75%,#ececec 25.75%,#ececec 28.75%,#e3e3e3 37.25%,#e0e0e0 42.75%,#dadada 46.25%,#cbcbcb 50.25%,#bcbcbc 53.25%,#8f8f8f 60.75%,#828282 63.25%,#757575 66.25%,#6d6d6d 68.75%,#6a6a6a 70.75%,#747474 72.75%,#7b7b7b 74.75%,#7d7d7d 76.25%,#7d7d7d 78.25%,#737373 87.25%,#707070 93.75%,#696969 96.75%,#5e5e5e 99.75%)"></i><i style="background:linear-gradient(90deg,#c8c8c8 0.25%,#c5c5c5 4.25%,#b8b8b8 12.25%,#b6b6b6 15.25%,#cecece 18.75%,#dbdbdb 20.75%,#e6e6e6 23.25%,#ebebeb 25.25%,#ededed 26.75%,#ececec 28.75%,#e3e3e3 37.25%,#e0e0e0 42.75%,#d9d9d9 46.25%,#cbcbcb 50.25%,#b9b9b9 53.75%,#858585 62.75%,#777 65.75%,#6e6e6e 68.75%,#6b6b6b 70.25%,#6b6b6b 70.75%,#757575 72.75%,#7b7b7b 74.75%,#7d7d7d 76.25%,#7d7d7d 78.25%,#737373 87.25%,#6f6f6f 93.75%,#696969 96.75%,#5e5e5e 99.75%)"></i><i class="b" style="background:linear-gradient(90deg,#cacaca 0.25%,#c7c7c7 4.25%,#bbb 11.75%,#b8b8b8 15.25%,#d0d0d0 18.75%,#dcdcdc 20.75%,#e7e7e7 23.25%,#ececec 25.25%,#ededed 26.75%,#ececec 28.75%,#e2e2e2 37.25%,#dfdfdf 42.75%,#d9d9d9 46.25%,#cbcbcb 50.25%,#bcbcbc 53.25%,#939393 60.25%,#828282 63.25%,#767676 66.25%,#6e6e6e 68.75%,#6b6b6b 70.25%,#767676 72.75%,#7c7c7c 74.75%,#7e7e7e 76.25%,#7d7d7d 78.25%,#737373 87.25%,#6f6f6f 93.75%,#686868 96.75%,#5e5e5e 99.75%)"></i><i style="background:linear-gradient(90deg,#cdcdcd 0.25%,#cacaca 3.75%,#bdbdbd 11.75%,#bbb 15.25%,#d2d2d2 18.75%,#ddd 20.75%,#e8e8e8 23.25%,#ececec 25.25%,#ececec 28.75%,#e2e2e2 37.25%,#dedede 43.25%,#d7d7d7 46.75%,#cbcbcb 50.25%,#b9b9b9 53.75%,#858585 62.75%,#787878 65.75%,#6f6f6f 68.75%,#6c6c6c 70.25%,#777 72.75%,#7b7b7b 74.25%,#7d7d7d 75.75%,#7d7d7d 77.75%,#727272 87.25%,#6f6f6f 93.75%,#686868 96.75%,#5e5e5e 99.75%)"></i><i style="background:linear-gradient(90deg,#cfcfcf 0.25%,#ccc 3.75%,#bfbfbf 11.75%,#bdbdbd 15.25%,#d1d1d1 18.25%,#dfdfdf 20.75%,#e8e8e8 23.25%,#ececec 25.25%,#ececec 28.75%,#e1e1e1 37.25%,#dedede 43.25%,#d7d7d7 46.75%,#cacaca 50.25%,#b9b9b9 53.75%,#868686 62.75%,#787878 65.75%,#6f6f6f 68.75%,#6d6d6d 70.25%,#767676 72.25%,#7b7b7b 74.25%,#7e7e7e 75.75%,#7d7d7d 77.75%,#727272 87.25%,#6e6e6e 93.75%,#686868 96.75%,#5d5d5d 99.75%)"></i><i style="background:linear-gradient(90deg,#d1d1d1 0.25%,#cecece 3.75%,#c2c2c2 11.75%,#bfbfbf 15.25%,#d3d3d3 18.25%,#e0e0e0 20.75%,#e9e9e9 23.25%,#ededed 25.25%,#ececec 28.75%,#e0e0e0 37.25%,#ddd 43.25%,#d6d6d6 46.75%,#cacaca 50.25%,#b9b9b9 53.75%,#939393 60.25%,#838383 63.25%,#797979 65.75%,#707070 68.75%,#6e6e6e 70.25%,#787878 72.75%,#7d7d7d 74.75%,#7d7d7d 77.75%,#717171 87.25%,#6d6d6d 94.25%,#676767 96.75%,#5d5d5d 99.75%)"></i><i style="background:linear-gradient(90deg,#d3d3d3 0.25%,#d0d0d0 3.75%,#c4c4c4 11.75%,#c2c2c2 15.25%,#d7d7d7 18.75%,#e3e3e3 21.25%,#ebebeb 23.75%,#ededed 25.75%,#eaeaea 29.75%,#dfdfdf 37.75%,#dcdcdc 43.75%,#d4d4d4 47.25%,#c8c8c8 50.75%,#b9b9b9 53.75%,#868686 62.75%,#7b7b7b 65.25%,#727272 68.25%,#6f6f6f 69.75%,#7b7b7b 73.75%,#7e7e7e 75.75%,#7d7d7d 77.75%,#707070 87.75%,#6c6c6c 94.25%,#676767 96.75%,#5d5d5d 99.75%)"></i><i style="background:linear-gradient(90deg,#d5d5d5 0.25%,#d2d2d2 3.75%,#c6c6c6 11.75%,#c4c4c4 15.25%,#d6d6d6 18.25%,#e2e2e2 20.75%,#eaeaea 23.25%,#ededed 25.75%,#eaeaea 29.75%,#dedede 38.25%,#dbdbdb 43.75%,#d4d4d4 47.25%,#c7c7c7 50.75%,#b6b6b6 54.25%,#868686 62.75%,#7a7a7a 65.75%,#727272 68.25%,#6f6f6f 69.75%,#787878 72.25%,#7c7c7c 73.75%,#7e7e7e 75.75%,#7d7d7d 77.75%,#6f6f6f 87.75%,#6b6b6b 94.25%,#666 96.75%,#5c5c5c 99.75%)"></i><i style="background:linear-gradient(90deg,#d7d7d7 0.25%,#d5d5d5 3.75%,#c9c9c9 11.75%,#c6c6c6 15.25%,#d8d8d8 18.25%,#e3e3e3 20.75%,#ebebeb 23.25%,#ededed 25.75%,#eaeaea 29.75%,#ddd 38.25%,#d9d9d9 44.25%,#d3d3d3 47.25%,#c7c7c7 50.75%,#b6b6b6 54.25%,#878787 62.75%,#7a7a7a 65.75%,#737373 68.25%,#707070 69.75%,#787878 71.75%,#7c7c7c 73.75%,#7e7e7e 75.25%,#7d7d7d 77.25%,#7a7a7a 80.25%,#6e6e6e 87.75%,#696969 94.75%,#646464 97.25%,#5b5b5b 99.75%)"></i><i style="background:linear-gradient(90deg,#d9d9d9 0.25%,#d6d6d6 3.75%,#cacaca 12.25%,#c9c9c9 15.25%,#dadada 18.25%,#e5e5e5 20.75%,#ebebeb 23.25%,#ededed 25.25%,#eaeaea 29.25%,#dbdbdb 38.25%,#d8d8d8 44.25%,#d2d2d2 47.25%,#c6c6c6 50.75%,#b5b5b5 54.25%,#878787 62.75%,#7a7a7a 65.75%,#737373 68.25%,#717171 69.75%,#7a7a7a 72.25%,#7d7d7d 74.25%,#7d7d7d 77.25%,#6c6c6c 88.25%,#686868 94.75%,#636363 97.25%,#5b5b5b 99.75%)"></i><i style="background:linear-gradient(90deg,#dbdbdb 0.25%,#d8d8d8 3.75%,#ccc 12.25%,#cbcbcb 15.25%,#dbdbdb 18.25%,#e6e6e6 20.75%,#ececec 23.25%,#ededed 25.25%,#eaeaea 29.25%,#dadada 38.25%,#d6d6d6 44.75%,#cfcfcf 47.75%,#c3c3c3 51.25%,#b2b2b2 54.75%,#878787 62.75%,#7b7b7b 65.75%,#747474 68.25%,#727272 69.25%,#737373 69.75%,#797979 71.75%,#7d7d7d 73.75%,#7d7d7d 77.25%,#6b6b6b 88.25%,#666 95.25%,#626262 97.25%,#5a5a5a 99.75%)"></i><i style="background:linear-gradient(90deg,#ddd 0.25%,#dadada 4.25%,#cecece 12.25%,#cdcdcd 15.25%,#dfdfdf 18.75%,#e9e9e9 21.75%,#ededed 24.75%,#ebebeb 28.25%,#d9d9d9 37.75%,#d6d6d6 40.25%,#d4d4d4 44.75%,#cdcdcd 48.25%,#c4c4c4 50.75%,#b9b9b9 53.25%,#858585 63.25%,#7b7b7b 65.75%,#747474 68.25%,#727272 69.25%,#7a7a7a 71.75%,#7d7d7d 73.75%,#7d7d7d 76.75%,#797979 79.75%,#696969 88.25%,#646464 95.25%,#606060 97.25%,#595959 99.75%)"></i><i class="b" style="background:linear-gradient(90deg,#dfdfdf 0.25%,#dcdcdc 4.25%,#d1d1d1 11.75%,#cfcfcf 15.25%,#e0e0e0 18.75%,#eaeaea 21.75%,#ededed 24.25%,#ebebeb 27.75%,#d8d8d8 37.75%,#d4d4d4 40.25%,#d2d2d2 45.25%,#cacaca 48.75%,#b9b9b9 53.25%,#8f8f8f 61.25%,#838383 63.75%,#7a7a7a 66.25%,#757575 68.25%,#737373 69.25%,#7a7a7a 71.25%,#7d7d7d 73.25%,#7d7d7d 76.75%,#787878 79.75%,#686868 88.25%,#626262 95.75%,#585858 99.75%)"></i><i style="background:linear-gradient(90deg,#e0e0e0 0.25%,#dedede 4.25%,#d3d3d3 11.75%,#d1d1d1 15.25%,#e2e2e2 18.75%,#ebebeb 21.75%,#ededed 24.25%,#eaeaea 27.75%,#d5d5d5 38.25%,#d2d2d2 40.75%,#d0d0d0 45.25%,#c9c9c9 48.75%,#c0c0c0 51.25%,#b5b5b5 53.75%,#838383 63.75%,#7a7a7a 66.25%,#757575 68.25%,#747474 69.25%,#7a7a7a 71.25%,#7d7d7d 72.75%,#7d7d7d 76.25%,#787878 79.75%,#666 88.25%,#636363 90.75%,#606060 95.75%,#565656 99.75%)"></i><i style="background:linear-gradient(90deg,#e2e2e2 0.25%,#dfdfdf 4.25%,#d5d5d5 11.75%,#d3d3d3 15.25%,#e1e1e1 18.25%,#eaeaea 21.25%,#ededed 23.75%,#ebebeb 27.25%,#d3d3d3 38.25%,#d0d0d0 40.75%,#cdcdcd 45.75%,#c5c5c5 49.25%,#b4b4b4 53.75%,#838383 63.75%,#7c7c7c 65.75%,#757575 68.25%,#747474 68.75%,#7a7a7a 70.75%,#7d7d7d 72.75%,#7d7d7d 76.25%,#777 79.75%,#646464 88.25%,#616161 90.75%,#5e5e5e 95.75%,#555 99.75%)"></i><i style="background:linear-gradient(90deg,#e4e4e4 0.25%,#e2e2e2 3.75%,#d7d7d7 11.75%,#d5d5d5 15.25%,#e2e2e2 18.25%,#ebebeb 21.25%,#ededed 23.75%,#eaeaea 27.25%,#d0d0d0 38.75%,#cdcdcd 41.25%,#cbcbcb 45.75%,#c4c4c4 49.25%,#b3b3b3 53.75%,#838383 63.75%,#777 67.75%,#757575 68.75%,#7b7b7b 70.75%,#7e7e7e 72.75%,#7c7c7c 76.25%,#767676 79.75%,#616161 88.75%,#5e5e5e 91.25%,#5b5b5b 95.75%,#535353 99.75%)"></i><i style="background:linear-gradient(90deg,#e5e5e5 0.25%,#e3e3e3 3.75%,#d9d9d9 11.75%,#d7d7d7 15.25%,#e4e4e4 18.25%,#ececec 21.25%,#ededed 23.75%,#eaeaea 26.75%,#e5e5e5 29.75%,#cecece 38.75%,#cacaca 41.75%,#c8c8c8 46.25%,#c0c0c0 49.75%,#b0b0b0 54.25%,#848484 63.75%,#777 67.75%,#767676 68.75%,#7b7b7b 70.75%,#7e7e7e 72.25%,#7d7d7d 75.75%,#777 79.25%,#5f5f5f 88.75%,#5b5b5b 91.75%,#585858 96.25%,#515151 99.75%)"></i><i style="background:linear-gradient(90deg,#e7e7e7 0.25%,#e5e5e5 3.75%,#dadada 11.75%,#d9d9d9 15.25%,#e5e5e5 18.25%,#ebebeb 20.75%,#ededed 23.25%,#ebebeb 26.25%,#e4e4e4 29.75%,#cbcbcb 39.25%,#c7c7c7 41.75%,#c5c5c5 46.25%,#bebebe 49.75%,#aeaeae 54.25%,#838383 63.75%,#777 67.75%,#767676 68.25%,#7b7b7b 70.25%,#7e7e7e 72.25%,#7c7c7c 75.75%,#767676 79.25%,#5c5c5c 89.25%,#585858 91.75%,#565656 96.25%,#4f4f4f 99.75%)"></i><i style="background:linear-gradient(90deg,#e8e8e8 0.25%,#e7e7e7 3.25%,#ddd 11.25%,#dadada 15.25%,#e6e6e6 18.25%,#ececec 20.75%,#ededed 23.25%,#eaeaea 26.25%,#e3e3e3 29.75%,#c8c8c8 39.25%,#c4c4c4 42.25%,#c2c2c2 46.75%,#bbb 50.25%,#adadad 54.25%,#858585 63.25%,#7c7c7c 65.75%,#777 67.75%,#777 68.25%,#7c7c7c 70.25%,#7e7e7e 71.75%,#7e7e7e 73.75%,#7c7c7c 75.75%,#757575 79.25%,#595959 89.25%,#555 92.25%,#525252 96.75%,#4d4d4d 99.75%)"></i><i style="background:linear-gradient(90deg,#eaeaea 0.25%,#e8e8e8 3.75%,#dedede 11.25%,#dcdcdc 14.75%,#dcdcdc 15.25%,#e8e8e8 18.75%,#ececec 20.75%,#ededed 22.75%,#eaeaea 25.75%,#e3e3e3 29.25%,#ccc 36.75%,#c5c5c5 39.75%,#c1c1c1 42.75%,#bebebe 47.25%,#b7b7b7 50.75%,#a9a9a9 54.75%,#858585 63.25%,#777 67.75%,#7e7e7e 71.75%,#7c7c7c 75.25%,#747474 79.25%,#5d5d5d 86.75%,#565656 89.75%,#515151 92.75%,#4f4f4f 96.75%,#4a4a4a 99.75%)"></i><i style="background:linear-gradient(90deg,#ebebeb 0.25%,#e9e9e9 3.75%,#e0e0e0 11.25%,#dedede 14.75%,#dedede 15.25%,#e8e8e8 18.25%,#ededed 20.75%,#ededed 23.25%,#eaeaea 25.75%,#e2e2e2 29.25%,#cacaca 36.75%,#c2c2c2 39.75%,#bdbdbd 42.75%,#bababa 47.75%,#b4b4b4 50.75%,#a7a7a7 54.75%,#848484 63.25%,#787878 67.25%,#777 67.75%,#7c7c7c 69.75%,#7e7e7e 71.75%,#7b7b7b 75.25%,#737373 79.25%,#5b5b5b 86.75%,#535353 89.75%,#4e4e4e 92.75%,#4c4c4c 97.25%,#474747 99.75%)"></i><i class="b" style="background:linear-gradient(90deg,#ececec 0.25%,#ebebeb 3.75%,#e1e1e1 11.25%,#dfdfdf 14.75%,#dfdfdf 15.25%,#e9e9e9 18.25%,#ededed 20.25%,#ededed 22.25%,#eaeaea 25.25%,#e1e1e1 29.25%,#c8c8c8 36.75%,#bfbfbf 39.75%,#bababa 42.75%,#b7b7b7 47.75%,#b0b0b0 51.25%,#a5a5a5 54.75%,#858585 62.75%,#797979 66.75%,#787878 67.75%,#7d7d7d 69.75%,#7e7e7e 71.75%,#7b7b7b 75.25%,#717171 79.25%,#585858 86.75%,#4f4f4f 90.25%,#4b4b4b 92.75%,#484848 97.25%,#444 99.75%)"></i><i style="background:linear-gradient(90deg,#ededed 0.25%,#ececec 3.75%,#e3e3e3 11.25%,#e1e1e1 14.75%,#e1e1e1 15.25%,#eaeaea 18.25%,#ededed 20.25%,#ededed 22.25%,#eaeaea 24.75%,#e1e1e1 28.75%,#c5c5c5 36.75%,#bbb 40.25%,#b6b6b6 43.25%,#b3b3b3 48.25%,#acacac 51.75%,#a1a1a1 55.25%,#848484 62.75%,#7a7a7a 66.25%,#787878 67.25%,#7c7c7c 69.25%,#7e7e7e 71.25%,#7b7b7b 74.75%,#727272 78.75%,#565656 86.75%,#4c4c4c 90.25%,#474747 93.25%,#454545 97.25%,#414141 99.75%)"></i><i style="background:linear-gradient(90deg,#eee 0.25%,#ededed 3.75%,#e4e4e4 11.25%,#e2e2e2 14.25%,#e2e2e2 15.25%,#eaeaea 17.75%,#ededed 20.25%,#ededed 22.25%,#eaeaea 24.75%,#e0e0e0 28.75%,#c3c3c3 36.75%,#b8b8b8 40.25%,#b2b2b2 43.75%,#afafaf 48.75%,#a8a8a8 52.25%,#9e9e9e 55.25%,#848484 62.25%,#7b7b7b 65.75%,#787878 66.75%,#7d7d7d 69.25%,#7e7e7e 71.25%,#7b7b7b 74.75%,#707070 78.75%,#535353 86.75%,#494949 90.25%,#434343 93.25%,#414141 97.75%,#3e3e3e 99.75%)"></i><i style="background:linear-gradient(90deg,#efefef 0.25%,#eee 3.75%,#e5e5e5 11.25%,#e3e3e3 14.25%,#e3e3e3 15.25%,#eaeaea 17.75%,#ededed 19.75%,#ededed 21.75%,#eaeaea 24.25%,#dedede 28.75%,#c0c0c0 36.75%,#b6b6b6 39.75%,#afafaf 43.25%,#acacac 48.25%,#a6a6a6 51.75%,#9c9c9c 55.25%,#838383 62.25%,#7b7b7b 65.25%,#797979 66.75%,#7d7d7d 68.75%,#7e7e7e 70.75%,#7a7a7a 74.75%,#6f6f6f 78.75%,#515151 86.75%,#464646 90.25%,#3f3f3f 93.75%,#3b3b3b 99.75%)"></i><i style="background:linear-gradient(90deg,#f0f0f0 0.25%,#f0f0f0 3.25%,#e7e7e7 11.25%,#e4e4e4 14.25%,#e4e4e4 15.25%,#ebebeb 17.75%,#ededed 19.75%,#ededed 21.75%,#eaeaea 24.25%,#dfdfdf 28.25%,#bcbcbc 37.25%,#afafaf 41.25%,#ababab 43.75%,#a8a8a8 48.75%,#a3a3a3 51.75%,#999 55.25%,#828282 62.25%,#797979 65.75%,#787878 66.25%,#7d7d7d 68.25%,#7e7e7e 70.25%,#7d7d7d 72.25%,#797979 74.75%,#6e6e6e 78.75%,#4c4c4c 87.25%,#414141 90.75%,#3b3b3b 94.25%,#373737 99.75%)"></i><i style="background:linear-gradient(90deg,#f1f1f1 0.25%,#f1f1f1 3.25%,#e8e8e8 11.25%,#e6e6e6 14.25%,#e6e6e6 15.25%,#ececec 17.75%,#eee 19.75%,#eaeaea 23.75%,#dedede 28.25%,#b7b7b7 37.75%,#ababab 41.75%,#a6a6a6 44.25%,#a4a4a4 48.75%,#9f9f9f 51.75%,#969696 55.25%,#808080 62.25%,#787878 65.25%,#787878 65.75%,#7c7c7c 67.75%,#7e7e7e 69.75%,#7d7d7d 71.75%,#7a7a7a 74.25%,#6d6d6d 78.75%,#4a4a4a 87.25%,#3e3e3e 90.75%,#373737 94.25%,#343434 99.75%)"></i><i style="background:linear-gradient(90deg,#f1f1f1 0.25%,#f3f3f3 1.25%,#f2f2f2 3.25%,#e7e7e7 13.75%,#e7e7e7 15.25%,#ebebeb 17.25%,#ededed 19.25%,#ededed 21.25%,#e9e9e9 23.75%,#dcdcdc 28.25%,#b4b4b4 37.75%,#a7a7a7 41.75%,#a2a2a2 44.75%,#a0a0a0 49.25%,#9b9b9b 52.25%,#939393 55.25%,#7f7f7f 61.75%,#787878 64.75%,#777 65.25%,#7c7c7c 67.25%,#7e7e7e 69.25%,#7e7e7e 71.25%,#7a7a7a 73.75%,#6d6d6d 78.25%,#474747 87.25%,#3b3b3b 90.75%,#333 94.75%,#303030 99.75%)"></i><i style="background:linear-gradient(90deg,#f2f2f2 0.25%,#f4f4f4 1.25%,#f3f3f3 3.25%,#e8e8e8 13.75%,#e7e7e7 15.25%,#ececec 17.25%,#eee 19.25%,#eaeaea 23.25%,#ddd 27.75%,#b2b2b2 37.75%,#a3a3a3 42.25%,#9d9d9d 45.25%,#9c9c9c 49.25%,#979797 52.25%,#787878 63.75%,#787878 65.25%,#7d7d7d 67.25%,#7e7e7e 69.25%,#7d7d7d 71.25%,#797979 73.75%,#6c6c6c 78.25%,#444 87.25%,#383838 90.75%,#2f2f2f 94.75%,#2c2c2c 99.75%)"></i><i style="background:linear-gradient(90deg,#f3f3f3 0.25%,#f4f4f4 1.25%,#f3f3f3 3.25%,#e9e9e9 13.75%,#e8e8e8 15.25%,#ececec 17.25%,#eee 19.25%,#e9e9e9 23.25%,#dcdcdc 27.75%,#afafaf 37.75%,#9f9f9f 42.25%,#9a9a9a 45.25%,#979797 49.75%,#949494 52.25%,#7a7a7a 62.25%,#797979 65.25%,#7d7d7d 67.25%,#7e7e7e 69.25%,#7a7a7a 73.25%,#737373 75.75%,#6a6a6a 78.25%,#424242 87.25%,#333 91.25%,#2a2a2a 95.25%,#282828 99.75%)"></i><i style="background:linear-gradient(90deg,#f3f3f3 0.25%,#f5f5f5 1.25%,#f4f4f4 3.75%,#e9e9e9 13.75%,#e9e9e9 15.25%,#ececec 16.75%,#eee 18.75%,#eaeaea 22.75%,#e3e3e3 25.25%,#dadada 27.75%,#acacac 37.75%,#a2a2a2 40.25%,#9b9b9b 42.75%,#959595 45.75%,#939393 49.75%,#909090 52.25%,#7d7d7d 60.75%,#7a7a7a 65.25%,#7d7d7d 66.75%,#7e7e7e 68.75%,#7a7a7a 72.75%,#747474 75.25%,#6b6b6b 77.75%,#3f3f3f 87.25%,#303030 91.25%,#262626 95.25%,#242424 99.75%)"></i><i class="b" style="background:linear-gradient(90deg,#f4f4f4 0.25%,#f6f6f6 1.25%,#f5f5f5 3.75%,#eaeaea 13.75%,#eaeaea 15.25%,#ededed 16.75%,#eee 18.75%,#e9e9e9 22.75%,#e2e2e2 25.25%,#d9d9d9 27.75%,#a9a9a9 37.75%,#9f9f9f 40.25%,#979797 42.75%,#919191 46.25%,#8d8d8d 51.75%,#818181 57.75%,#7d7d7d 61.25%,#7b7b7b 65.25%,#7d7d7d 66.75%,#7e7e7e 68.75%,#7a7a7a 72.75%,#737373 75.25%,#6a6a6a 77.75%,#3c3c3c 87.25%,#2c2c2c 91.25%,#232323 95.25%,#202020 99.75%)"></i><i style="background:linear-gradient(90deg,#f4f4f4 0.25%,#f6f6f6 1.25%,#f5f5f5 3.75%,#ebebeb 13.75%,#ededed 19.25%,#e8e8e8 22.75%,#e1e1e1 25.25%,#d8d8d8 27.75%,#a4a4a4 38.25%,#9a9a9a 40.75%,#929292 43.25%,#8d8d8d 46.25%,#8a8a8a 51.25%,#7c7c7c 62.25%,#7b7b7b 65.25%,#7e7e7e 68.25%,#7a7a7a 72.25%,#747474 74.75%,#686868 77.75%,#3a3a3a 87.25%,#292929 91.25%,#1f1f1f 95.25%,#1c1c1c 99.75%)"></i><i style="background:linear-gradient(90deg,#f4f4f4 0.25%,#f7f7f7 1.25%,#f6f6f6 3.25%,#ececec 12.75%,#ebebeb 15.25%,#eee 18.25%,#e9e9e9 22.25%,#e2e2e2 24.75%,#d9d9d9 27.25%,#a2a2a2 38.25%,#979797 40.75%,#8f8f8f 43.25%,#888 47.25%,#868686 53.75%,#7c7c7c 63.75%,#7e7e7e 68.75%,#7a7a7a 72.25%,#737373 74.75%,#676767 77.75%,#373737 87.25%,#262626 91.25%,#1b1b1b 95.25%,#191919 97.25%,#181818 99.75%)"></i><i style="background:linear-gradient(90deg,#f4f4f4 0.25%,#f7f7f7 1.25%,#f7f7f7 3.25%,#ececec 13.75%,#ededed 18.75%,#e7e7e7 22.75%,#dfdfdf 25.25%,#d3d3d3 28.25%,#a7a7a7 36.75%,#989898 39.75%,#8d8d8d 42.75%,#868686 45.75%,#838383 49.75%,#888 51.25%,#878787 53.25%,#7d7d7d 62.75%,#7c7c7c 65.25%,#7e7e7e 68.25%,#797979 72.25%,#727272 74.75%,#666 77.75%,#353535 87.25%,#232323 91.25%,#181818 95.25%,#151515 97.25%,#141414 99.75%)"></i><i style="background:linear-gradient(90deg,#f5f5f5 0.25%,#f7f7f7 1.25%,#f7f7f7 3.25%,#ededed 13.25%,#ededed 18.75%,#e8e8e8 22.25%,#e0e0e0 24.75%,#d4d4d4 27.75%,#a4a4a4 36.75%,#969696 39.75%,#8a8a8a 42.75%,#838383 45.75%,#808080 49.25%,#878787 50.75%,#888 52.75%,#7d7d7d 63.25%,#7e7e7e 68.75%,#787878 72.25%,#717171 74.75%,#656565 77.75%,#323232 87.25%,#202020 91.25%,#181818 93.75%,#141414 95.75%,#101010 99.75%)"></i><i style="background:linear-gradient(90deg,#f5f5f5 0.25%,#f8f8f8 1.25%,#f7f7f7 3.25%,#ededed 12.75%,#ededed 18.75%,#e7e7e7 22.25%,#dfdfdf 24.75%,#d3d3d3 27.75%,#a2a2a2 36.75%,#919191 40.25%,#868686 43.25%,#7f7f7f 46.25%,#7d7d7d 48.75%,#878787 50.75%,#898989 52.25%,#7e7e7e 62.75%,#7e7e7e 68.75%,#797979 71.75%,#707070 74.75%,#636363 77.75%,#303030 87.25%,#1e1e1e 91.25%,#151515 93.75%,#101010 95.75%,#0d0d0d 99.75%)"></i><i style="background:linear-gradient(90deg,#f5f5f5 0.25%,#f8f8f8 1.25%,#f7f7f7 3.75%,#eee 12.75%,#ededed 18.75%,#e7e7e7 22.25%,#dfdfdf 24.75%,#d2d2d2 27.75%,#a0a0a0 36.75%,#8f8f8f 40.25%,#838383 43.25%,#7c7c7c 46.25%,#7a7a7a 48.25%,#858585 50.25%,#898989 51.75%,#878787 54.75%,#7e7e7e 62.75%,#7e7e7e 68.25%,#797979 71.75%,#6f6f6f 74.75%,#626262 77.75%,#2e2e2e 87.25%,#1b1b1b 91.25%,#121212 93.75%,#0d0d0d 95.75%,#0a0a0a 98.25%,#0a0a0a 99.75%)"></i><i style="background:linear-gradient(90deg,#f5f5f5 0.25%,#f8f8f8 1.25%,#f8f8f8 3.75%,#eee 12.75%,#ededed 18.25%,#e6e6e6 22.25%,#dedede 24.75%,#d1d1d1 27.75%,#9e9e9e 36.75%,#8c8c8c 40.25%,#818181 43.25%,#797979 46.25%,#777 47.75%,#858585 50.25%,#898989 51.75%,#888 54.75%,#7f7f7f 62.75%,#7e7e7e 68.25%,#797979 71.25%,#707070 74.25%,#646464 77.25%,#545454 80.25%,#292929 87.75%,#171717 91.75%,#0e0e0e 94.25%,#090909 96.75%,#060606 98.75%,#0a0a0a 99.75%)"></i><i style="background:linear-gradient(90deg,#f5f5f5 0.25%,#f9f9f9 1.75%,#f8f8f8 3.75%,#eee 12.75%,#ededed 18.25%,#e6e6e6 22.25%,#ddd 24.75%,#cfcfcf 27.75%,#9c9c9c 36.75%,#8a8a8a 40.25%,#7d7d7d 43.75%,#757575 46.75%,#747474 47.25%,#838383 49.75%,#878787 50.75%,#898989 51.75%,#888 54.75%,#7f7f7f 62.75%,#7e7e7e 68.25%,#797979 71.25%,#707070 74.25%,#636363 77.25%,#535353 80.25%,#272727 87.75%,#121212 92.25%,#090909 95.25%,#040404 98.25%,#050505 98.75%,#0a0a0a 99.75%)"></i><i class="b" style="background:linear-gradient(90deg,#f5f5f5 0.25%,#f9f9f9 1.75%,#f8f8f8 3.75%,#efefef 12.25%,#ededed 18.25%,#e5e5e5 22.25%,#dcdcdc 24.75%,#cfcfcf 27.75%,#9a9a9a 36.75%,#888 40.25%,#7a7a7a 43.75%,#737373 46.75%,#838383 49.75%,#8a8a8a 51.75%,#878787 55.25%,#7f7f7f 62.75%,#7e7e7e 67.75%,#787878 71.25%,#6f6f6f 74.25%,#626262 77.25%,#525252 80.25%,#262626 87.75%,#101010 92.25%,#070707 95.25%,#020202 97.75%,#020202 98.25%,#0a0a0a 99.75%)"></i><i style="background:linear-gradient(90deg,#f5f5f5 0.25%,#f9f9f9 1.75%,#f8f8f8 3.75%,#efefef 12.25%,#ededed 18.25%,#e5e5e5 22.25%,#dcdcdc 24.75%,#cecece 27.75%,#999 36.75%,#898989 39.75%,#7e7e7e 42.25%,#767676 44.75%,#737373 46.75%,#848484 49.75%,#8a8a8a 51.75%,#888 55.25%,#7f7f7f 62.75%,#7e7e7e 67.75%,#797979 70.75%,#707070 73.75%,#636363 76.75%,#545454 79.75%,#212121 88.25%,#0d0d0d 92.75%,#050505 95.25%,#000 97.75%,#0b0b0b 99.75%)"></i><i style="background:linear-gradient(90deg,#f5f5f5 0.25%,#f9f9f9 1.75%,#f8f8f8 4.25%,#efefef 12.25%,#ececec 18.25%,#e6e6e6 21.75%,#dbdbdb 24.75%,#cdcdcd 27.75%,#989898 36.75%,#858585 40.25%,#7c7c7c 42.25%,#767676 44.75%,#747474 46.75%,#848484 49.75%,#8a8a8a 51.75%,#888 55.25%,#7f7f7f 62.75%,#7e7e7e 67.75%,#797979 70.75%,#707070 73.75%,#636363 76.75%,#535353 79.75%,#202020 88.25%,#0b0b0b 92.75%,#040404 94.75%,#000 97.25%,#010101 97.75%,#0b0b0b 99.75%)"></i><i style="background:linear-gradient(90deg,#f5f5f5 0.25%,#f9f9f9 1.75%,#f8f8f8 4.25%,#efefef 12.25%,#ededed 17.75%,#e5e5e5 21.75%,#dbdbdb 24.75%,#ccc 27.75%,#979797 36.75%,#868686 39.75%,#7e7e7e 41.75%,#787878 44.25%,#757575 46.75%,#828282 49.25%,#8a8a8a 51.75%,#888 55.25%,#808080 62.25%,#7e7e7e 67.75%,#797979 70.75%,#6f6f6f 73.75%,#606060 77.25%,#4f4f4f 80.25%,#222 87.75%,#0b0b0b 92.25%,#040404 94.75%,#010101 97.25%,#020202 97.75%,#0b0b0b 99.75%)"></i><i style="background:linear-gradient(90deg,#f6f6f6 0.25%,#f9f9f9 1.75%,#f8f8f8 4.25%,#efefef 12.25%,#ededed 17.75%,#e5e5e5 21.75%,#dadada 24.75%,#ccc 27.75%,#8a8a8a 38.75%,#7f7f7f 41.75%,#787878 44.25%,#757575 46.75%,#838383 49.25%,#8a8a8a 51.75%,#888 55.25%,#808080 62.25%,#7e7e7e 67.75%,#787878 70.75%,#6f6f6f 73.75%,#626262 76.75%,#515151 79.75%,#1e1e1e 88.25%,#0e0e0e 91.75%,#050505 94.75%,#010101 97.25%,#020202 97.75%,#0c0c0c 99.75%)"></i><i style="background:linear-gradient(90deg,#f6f6f6 0.25%,#f9f9f9 1.75%,#f8f8f8 4.25%,#efefef 12.25%,#ededed 17.75%,#e5e5e5 21.75%,#dadada 24.75%,#cbcbcb 27.75%,#909090 37.75%,#818181 41.25%,#797979 44.25%,#767676 46.75%,#838383 49.25%,#8a8a8a 51.75%,#888 55.25%,#808080 62.25%,#7e7e7e 67.25%,#787878 70.75%,#6f6f6f 73.75%,#616161 76.75%,#4e4e4e 80.25%,#262626 86.75%,#191919 89.25%,#0e0e0e 91.75%,#050505 94.75%,#020202 97.25%,#0c0c0c 99.75%)"></i><i style="background:linear-gradient(90deg,#f6f6f6 0.25%,#f9f9f9 1.75%,#f8f8f8 4.25%,#efefef 12.25%,#ededed 17.75%,#e6e6e6 21.25%,#dcdcdc 24.25%,#cecece 27.25%,#9b9b9b 35.75%,#8e8e8e 38.25%,#828282 41.25%,#7a7a7a 44.25%,#777 46.75%,#848484 49.25%,#8a8a8a 51.75%,#888 55.25%,#808080 62.25%,#7e7e7e 67.25%,#797979 70.25%,#707070 73.25%,#646464 76.25%,#535353 79.25%,#232323 87.25%,#161616 89.75%,#0e0e0e 91.75%,#070707 94.25%,#030303 97.25%,#0d0d0d 99.75%)"></i><i style="background:linear-gradient(90deg,#f7f7f7 0.25%,#f9f9f9 1.75%,#f8f8f8 4.25%,#efefef 12.25%,#ededed 17.75%,#e6e6e6 21.25%,#dedede 23.75%,#d0d0d0 26.75%,#bfbfbf 29.75%,#9b9b9b 35.75%,#909090 37.75%,#828282 41.25%,#7a7a7a 44.25%,#797979 46.75%,#848484 49.25%,#8a8a8a 51.75%,#888 55.25%,#808080 62.25%,#7e7e7e 67.25%,#797979 70.25%,#707070 73.25%,#636363 76.25%,#535353 79.25%,#232323 87.25%,#171717 89.75%,#0f0f0f 91.75%,#060606 94.75%,#030303 97.25%,#0d0d0d 99.75%)"></i><i style="background:linear-gradient(90deg,#f7f7f7 0.25%,#f9f9f9 1.75%,#f8f8f8 4.25%,#efefef 12.25%,#ededed 17.75%,#e6e6e6 21.25%,#dedede 23.75%,#d0d0d0 26.75%,#9b9b9b 35.75%,#8f8f8f 38.25%,#838383 41.25%,#7b7b7b 44.25%,#7a7a7a 46.75%,#868686 49.75%,#898989 51.25%,#8a8a8a 52.25%,#888 55.25%,#808080 62.25%,#7e7e7e 67.25%,#797979 70.25%,#707070 73.25%,#636363 76.25%,#535353 79.25%,#232323 87.25%,#171717 89.75%,#0f0f0f 91.75%,#080808 94.25%,#040404 97.25%,#0d0d0d 99.75%)"></i><i style="background:linear-gradient(90deg,#f7f7f7 0.25%,#f9f9f9 1.75%,#f8f8f8 4.25%,#efefef 12.25%,#ededed 17.75%,#e6e6e6 21.25%,#dedede 23.75%,#d0d0d0 26.75%,#9e9e9e 35.25%,#8f8f8f 38.25%,#838383 41.25%,#7c7c7c 44.25%,#7a7a7a 46.25%,#878787 49.75%,#8a8a8a 52.25%,#888 55.25%,#808080 62.25%,#7e7e7e 67.25%,#797979 70.25%,#707070 73.25%,#636363 76.25%,#535353 79.25%,#262626 86.75%,#111 91.25%,#080808 94.25%,#050505 97.25%,#0e0e0e 99.75%)"></i><i class="b" style="background:linear-gradient(90deg,#f8f8f8 0.25%,#f9f9f9 1.75%,#f8f8f8 4.25%,#efefef 12.25%,#ececec 17.75%,#e6e6e6 21.25%,#dedede 23.75%,#d0d0d0 26.75%,#a1a1a1 34.75%,#929292 37.75%,#868686 40.75%,#7e7e7e 43.75%,#7b7b7b 46.25%,#878787 49.75%,#8a8a8a 52.25%,#888 55.25%,#808080 62.25%,#7e7e7e 67.25%,#797979 70.25%,#707070 73.25%,#636363 76.25%,#535353 79.25%,#272727 86.75%,#1a1a1a 89.25%,#121212 91.25%,#090909 94.25%,#050505 97.25%,#0e0e0e 99.75%)"></i><i style="background:linear-gradient(90deg,#f8f8f8 0.25%,#f9f9f9 1.75%,#f8f8f8 4.25%,#efefef 12.25%,#ececec 17.75%,#e6e6e6 21.25%,#ddd 23.75%,#d0d0d0 26.75%,#a5a5a5 34.25%,#939393 37.75%,#868686 40.75%,#7f7f7f 43.75%,#7c7c7c 46.25%,#888 49.75%,#8a8a8a 52.25%,#888 55.25%,#808080 62.25%,#7d7d7d 67.75%,#787878 70.75%,#707070 73.25%,#636363 76.25%,#535353 79.25%,#272727 86.75%,#1d1d1d 88.75%,#121212 91.25%,#0a0a0a 94.25%,#060606 96.75%,#060606 97.25%,#0f0f0f 99.75%)"></i><i style="background:linear-gradient(90deg,#f8f8f8 0.25%,#f9f9f9 1.75%,#f8f8f8 3.75%,#eee 12.25%,#ececec 17.75%,#e4e4e4 21.75%,#dbdbdb 24.25%,#d0d0d0 26.75%,#a5a5a5 34.25%,#939393 37.75%,#878787 40.75%,#7f7f7f 43.75%,#7d7d7d 46.25%,#888 49.75%,#8a8a8a 52.25%,#888 55.25%,#7f7f7f 62.25%,#7d7d7d 67.75%,#777 70.75%,#707070 73.25%,#636363 76.25%,#535353 79.25%,#272727 86.75%,#131313 91.25%,#0a0a0a 94.25%,#070707 96.75%,#070707 97.25%,#0f0f0f 99.75%)"></i><i style="background:linear-gradient(90deg,#f8f8f8 0.25%,#f8f8f8 3.75%,#eee 12.25%,#ebebeb 17.75%,#e4e4e4 21.75%,#dbdbdb 24.25%,#d0d0d0 26.75%,#a8a8a8 33.75%,#949494 37.75%,#888 40.75%,#808080 43.75%,#7e7e7e 46.25%,#878787 49.25%,#8a8a8a 50.75%,#8a8a8a 52.25%,#888 55.25%,#7f7f7f 62.25%,#7c7c7c 67.75%,#777 70.75%,#707070 73.25%,#636363 76.25%,#535353 79.25%,#272727 86.75%,#1b1b1b 89.25%,#131313 91.25%,#0b0b0b 94.25%,#080808 96.75%,#0f0f0f 99.75%)"></i><i style="background:linear-gradient(90deg,#f9f9f9 0.25%,#f8f8f8 3.75%,#ededed 12.25%,#ebebeb 17.75%,#e3e3e3 21.75%,#dbdbdb 24.25%,#d0d0d0 26.75%,#a8a8a8 33.75%,#949494 37.75%,#898989 40.75%,#818181 43.75%,#7f7f7f 46.25%,#888 49.25%,#8a8a8a 50.75%,#8a8a8a 52.25%,#878787 55.25%,#7e7e7e 62.75%,#7b7b7b 68.25%,#777 70.75%,#6f6f6f 73.25%,#636363 76.25%,#535353 79.25%,#282828 86.75%,#141414 91.25%,#0b0b0b 94.25%,#080808 96.75%,#101010 99.75%)"></i><i style="background:linear-gradient(90deg,#f9f9f9 0.25%,#f8f8f8 3.75%,#ededed 12.25%,#e9e9e9 18.25%,#e3e3e3 21.75%,#dbdbdb 24.25%,#d0d0d0 26.75%,#a9a9a9 33.75%,#959595 37.75%,#898989 40.75%,#838383 43.25%,#7f7f7f 46.25%,#888 49.25%,#8a8a8a 52.25%,#878787 55.25%,#7e7e7e 62.25%,#7b7b7b 67.75%,#767676 70.75%,#6d6d6d 73.75%,#606060 76.75%,#282828 86.75%,#1c1c1c 89.25%,#141414 91.25%,#0d0d0d 93.75%,#090909 96.75%,#101010 99.75%)"></i><i style="background:linear-gradient(90deg,#f9f9f9 0.25%,#f7f7f7 4.25%,#ebebeb 13.25%,#e9e9e9 18.25%,#e2e2e2 21.75%,#dadada 24.25%,#cfcfcf 26.75%,#a7a7a7 34.25%,#959595 37.75%,#8a8a8a 40.75%,#848484 43.25%,#808080 46.25%,#898989 49.25%,#8a8a8a 52.25%,#878787 55.25%,#7c7c7c 62.75%,#797979 68.75%,#747474 71.25%,#6d6d6d 73.75%,#606060 76.75%,#282828 86.75%,#1c1c1c 89.25%,#151515 91.25%,#0e0e0e 93.75%,#0a0a0a 96.25%,#0a0a0a 96.75%,#101010 99.75%)"></i><i style="background:linear-gradient(90deg,#f9f9f9 0.25%,#f7f7f7 4.25%,#eaeaea 13.25%,#e7e7e7 18.75%,#e0e0e0 22.25%,#dadada 24.25%,#cfcfcf 26.75%,#a7a7a7 34.25%,#969696 37.75%,#8b8b8b 40.75%,#848484 43.25%,#818181 46.25%,#898989 49.25%,#8a8a8a 52.25%,#878787 55.25%,#7c7c7c 62.25%,#787878 68.25%,#737373 71.25%,#6c6c6c 73.75%,#606060 76.75%,#505050 79.75%,#292929 86.75%,#1d1d1d 89.25%,#151515 91.25%,#0e0e0e 93.75%,#0b0b0b 96.25%,#0b0b0b 96.75%,#111 99.75%)"></i><i style="background:linear-gradient(90deg,#f9f9f9 0.25%,#f7f7f7 4.25%,#e9e9e9 13.25%,#e5e5e5 19.25%,#dfdfdf 22.25%,#d9d9d9 24.25%,#cfcfcf 26.75%,#a5a5a5 34.75%,#969696 37.75%,#8b8b8b 40.75%,#858585 43.25%,#828282 46.25%,#898989 49.25%,#8a8a8a 52.25%,#868686 55.25%,#7a7a7a 62.75%,#777 68.25%,#727272 71.25%,#6b6b6b 73.75%,#5f5f5f 76.75%,#505050 79.75%,#292929 86.75%,#1d1d1d 89.25%,#151515 91.25%,#0f0f0f 93.75%,#0c0c0c 96.25%,#111 99.75%)"></i><i class="b" style="background:linear-gradient(90deg,#f9f9f9 0.25%,#f6f6f6 4.25%,#e8e8e8 13.25%,#e4e4e4 19.25%,#dedede 22.25%,#d8d8d8 24.25%,#cecece 26.75%,#a3a3a3 35.25%,#959595 38.25%,#8c8c8c 40.75%,#868686 43.25%,#838383 46.25%,#8a8a8a 49.25%,#898989 52.25%,#868686 55.25%,#797979 62.75%,#757575 68.75%,#707070 71.75%,#696969 74.25%,#5c5c5c 77.25%,#292929 86.75%,#181818 90.75%,#101010 93.25%,#0d0d0d 95.75%,#0c0c0c 96.75%,#111 99.75%)"></i><i style="background:linear-gradient(90deg,#f9f9f9 0.25%,#f6f6f6 4.25%,#e7e7e7 13.25%,#e2e2e2 19.75%,#dcdcdc 22.75%,#d6d6d6 24.75%,#cbcbcb 27.25%,#979797 37.75%,#8e8e8e 40.25%,#878787 42.75%,#848484 45.75%,#8a8a8a 49.25%,#898989 52.25%,#858585 55.25%,#787878 62.75%,#747474 68.75%,#6f6f6f 71.75%,#686868 74.25%,#5c5c5c 77.25%,#272727 87.25%,#161616 91.25%,#101010 93.75%,#0d0d0d 95.75%,#0d0d0d 96.75%,#111 99.75%)"></i><i style="background:linear-gradient(90deg,#f9f9f9 0.25%,#f6f6f6 4.75%,#e6e6e6 13.25%,#e2e2e2 19.25%,#dcdcdc 22.75%,#d5d5d5 24.75%,#cbcbcb 27.25%,#989898 37.75%,#8f8f8f 40.25%,#888 42.75%,#858585 45.75%,#8a8a8a 49.25%,#898989 52.25%,#757575 63.25%,#727272 69.25%,#6d6d6d 72.25%,#656565 74.75%,#595959 77.75%,#292929 86.75%,#181818 90.75%,#111 93.25%,#0e0e0e 95.75%,#0d0d0d 96.75%,#111 99.75%)"></i><i style="background:linear-gradient(90deg,#fafafa 0.25%,#f5f5f5 5.25%,#e4e4e4 13.75%,#e0e0e0 19.75%,#dadada 23.25%,#c9c9c9 27.75%,#989898 37.75%,#8f8f8f 40.25%,#898989 42.75%,#868686 45.75%,#8a8a8a 48.75%,#898989 51.75%,#858585 54.75%,#747474 63.25%,#717171 65.75%,#707070 69.25%,#6b6b6b 72.25%,#646464 74.75%,#585858 77.75%,#272727 87.25%,#191919 90.75%,#121212 93.25%,#0f0f0f 95.25%,#0e0e0e 96.75%,#111 99.75%)"></i><i style="background:linear-gradient(90deg,#fafafa 0.25%,#f5f5f5 5.25%,#e3e3e3 13.75%,#dfdfdf 19.75%,#d9d9d9 23.25%,#c9c9c9 27.75%,#999 37.75%,#909090 40.25%,#898989 42.75%,#868686 45.75%,#8a8a8a 48.75%,#898989 51.75%,#848484 54.75%,#727272 63.25%,#6f6f6f 65.75%,#6d6d6d 69.75%,#686868 72.75%,#616161 75.25%,#575757 77.75%,#272727 87.25%,#171717 91.25%,#111 93.75%,#0f0f0f 95.75%,#111 99.75%)"></i><i style="background:linear-gradient(90deg,#fafafa 0.25%,#f6f6f6 4.75%,#e1e1e1 14.25%,#ddd 20.25%,#d7d7d7 23.75%,#c6c6c6 28.25%,#999 37.75%,#909090 40.25%,#8b8b8b 42.25%,#878787 45.75%,#8a8a8a 48.75%,#888 51.75%,#838383 54.75%,#6f6f6f 63.75%,#6d6d6d 66.25%,#6b6b6b 70.25%,#666 72.75%,#5f5f5f 75.25%,#565656 77.75%,#272727 87.25%,#191919 90.75%,#121212 93.25%,#101010 95.25%,#111 99.75%)"></i><i style="background:linear-gradient(90deg,#fafafa 0.25%,#f7f7f7 4.25%,#e0e0e0 14.25%,#dbdbdb 20.75%,#d5d5d5 23.75%,#c6c6c6 28.25%,#999 37.75%,#909090 40.25%,#8b8b8b 42.25%,#888 45.25%,#8a8a8a 48.75%,#888 51.75%,#838383 54.75%,#6d6d6d 63.75%,#6a6a6a 66.25%,#686868 70.25%,#636363 73.25%,#5c5c5c 75.75%,#525252 78.25%,#272727 87.25%,#191919 90.75%,#141414 92.75%,#101010 94.75%,#101010 96.25%,#111 99.75%)"></i><i style="background:linear-gradient(90deg,#fbfbfb 0.25%,#f8f8f8 3.75%,#dedede 14.25%,#dbdbdb 16.75%,#d9d9d9 20.75%,#d3d3d3 24.25%,#c3c3c3 28.75%,#999 37.75%,#8d8d8d 41.75%,#898989 44.75%,#8a8a8a 48.25%,#888 51.25%,#828282 54.75%,#6a6a6a 64.25%,#676767 66.75%,#656565 70.75%,#606060 73.75%,#515151 78.25%,#272727 87.25%,#181818 91.25%,#131313 93.25%,#101010 95.25%,#111 99.75%)"></i><i style="background:linear-gradient(90deg,#fbfbfb 0.25%,#f9f9f9 3.25%,#e2e2e2 11.75%,#dcdcdc 14.75%,#d9d9d9 17.25%,#d7d7d7 21.25%,#d0d0d0 24.75%,#c2c2c2 28.75%,#9a9a9a 37.75%,#8d8d8d 41.75%,#898989 44.75%,#8a8a8a 48.25%,#888 51.25%,#818181 54.75%,#686868 64.25%,#646464 66.75%,#626262 71.25%,#5e5e5e 73.75%,#4f4f4f 78.25%,#272727 87.25%,#181818 91.25%,#131313 93.25%,#111 95.25%,#111 99.75%)"></i><i style="background:linear-gradient(90deg,#fbfbfb 0.25%,#f9f9f9 3.25%,#e1e1e1 11.75%,#dadada 14.75%,#d7d7d7 17.25%,#d4d4d4 21.75%,#cecece 24.75%,#bfbfbf 29.25%,#9a9a9a 37.75%,#8e8e8e 41.75%,#8a8a8a 44.25%,#8a8a8a 48.25%,#878787 51.25%,#808080 54.75%,#666 64.25%,#616161 67.25%,#5f5f5f 71.75%,#5a5a5a 74.25%,#4e4e4e 78.25%,#262626 87.25%,#181818 91.25%,#111 94.75%,#101010 99.75%)"></i><i class="b" style="background:linear-gradient(90deg,#fcfcfc 0.25%,#fbfbfb 2.25%,#f9f9f9 3.25%,#dfdfdf 11.75%,#d8d8d8 14.75%,#d4d4d4 17.75%,#d1d1d1 22.25%,#cbcbcb 25.25%,#bebebe 29.25%,#989898 38.25%,#8f8f8f 41.25%,#8a8a8a 44.25%,#8a8a8a 48.25%,#878787 51.25%,#808080 54.25%,#696969 61.75%,#626262 64.75%,#5e5e5e 67.75%,#5c5c5c 71.75%,#565656 74.75%,#484848 79.25%,#222 88.25%,#161616 92.25%,#121212 94.75%,#101010 99.75%)"></i><i style="background:linear-gradient(90deg,#fdfdfd 0.25%,#fcfcfc 1.75%,#f9f9f9 3.25%,#dedede 11.75%,#d5d5d5 15.25%,#d1d1d1 17.75%,#cfcfcf 22.25%,#c8c8c8 25.75%,#bbb 29.75%,#9a9a9a 37.75%,#8f8f8f 41.25%,#8b8b8b 44.25%,#8a8a8a 48.25%,#878787 50.75%,#7f7f7f 54.25%,#676767 61.75%,#5f5f5f 64.75%,#5a5a5a 67.75%,#585858 72.25%,#535353 75.25%,#464646 79.25%,#212121 88.25%,#171717 91.75%,#121212 94.75%,#101010 99.75%)"></i><i style="background:linear-gradient(90deg,#fdfdfd 0.25%,#fdfdfd 1.25%,#f7f7f7 3.75%,#dcdcdc 11.75%,#d3d3d3 15.25%,#cecece 18.25%,#ccc 22.75%,#c5c5c5 26.25%,#b9b9b9 29.75%,#9a9a9a 37.75%,#8f8f8f 41.25%,#8b8b8b 43.75%,#8a8a8a 48.25%,#868686 50.75%,#7e7e7e 54.25%,#656565 61.75%,#5c5c5c 64.75%,#575757 67.75%,#545454 72.75%,#4f4f4f 75.75%,#424242 79.75%,#222 87.75%,#181818 91.25%,#121212 94.25%,#0f0f0f 99.75%)"></i><i style="background:linear-gradient(90deg,#fefefe 0.25%,#fdfdfd 1.25%,#f6f6f6 3.75%,#dbdbdb 11.75%,#d1d1d1 15.25%,#cbcbcb 18.25%,#c9c9c9 23.25%,#c1c1c1 26.75%,#b6b6b6 30.25%,#9b9b9b 37.25%,#919191 40.75%,#8c8c8c 43.25%,#898989 48.25%,#858585 51.25%,#7c7c7c 54.25%,#626262 61.75%,#585858 65.25%,#535353 68.25%,#505050 73.25%,#494949 76.75%,#3e3e3e 80.25%,#232323 87.25%,#181818 90.75%,#131313 93.75%,#0f0f0f 99.75%)"></i><i style="background:linear-gradient(90deg,#fff 0.25%,#f4f4f4 4.25%,#d9d9d9 11.75%,#cecece 15.25%,#c9c9c9 18.25%,#c6c6c6 22.75%,#c1c1c1 25.75%,#b8b8b8 29.25%,#9c9c9c 36.75%,#929292 40.25%,#8c8c8c 43.25%,#8a8a8a 47.75%,#858585 50.75%,#7b7b7b 54.25%,#606060 61.75%,#555 65.25%,#505050 68.25%,#4d4d4d 73.25%,#474747 76.25%,#3d3d3d 79.75%,#202020 87.75%,#161616 91.25%,#131313 93.75%,#111 97.25%,#0e0e0e 99.75%)"></i></div>
<svg width="2370" height="1566" viewBox="0 0 2370 1566" style="position:absolute;left:0;top:0;font-family:'Liberation Serif', 'Times New Roman', serif;font-size:38.9px" fill="#000"><defs><clipPath id="ct"><rect x="150" y="24" width="1993" height="621"/></clipPath><clipPath id="cc"><rect x="1228" y="828" width="732" height="621"/></clipPath><linearGradient id="gb" x1="0" y1="1" x2="0" y2="0"><stop offset="0" stop-color="#fff"/><stop offset="1" stop-color="#000"/></linearGradient></defs><g clip-path="url(#ct)"><g fill="none" stroke="#808080" stroke-opacity=".33" stroke-width="1.4"><path d="M241 334.7L241 193.47"/><path d="M250.1 322.88L241 193.47"/><path d="M259.21 311.1L241 193.47"/><path d="M268.31 299.42L241 193.47"/><path d="M277.42 287.87L241 193.47"/><path d="M286.52 276.51L241 193.47"/><path d="M295.63 265.38L241 193.47"/><path d="M304.74 254.53L241 193.47"/><path d="M313.84 243.99L241 193.47"/><path d="M322.94 233.8L241 193.47"/><path d="M332.05 224.02L241 193.47"/><path d="M341.15 214.67L241 193.47"/><path d="M350.26 205.8L241 193.47"/><path d="M359.37 197.44L241 193.47"/><path d="M368.47 189.61L241 193.47"/><path d="M377.57 182.36L250.1 178.39"/><path d="M386.68 175.71L250.1 178.39"/><path d="M395.79 169.69L259.21 163.93"/><path d="M404.89 164.32L259.21 163.93"/><path d="M414 159.62L259.21 163.93"/><path d="M423.1 155.62L268.31 150.14"/><path d="M432.2 152.32L268.31 150.14"/><path d="M441.31 149.74L268.31 150.14"/><path d="M450.42 147.88L277.42 137.08"/><path d="M459.52 146.77L286.52 124.8"/><path d="M468.62 146.4L295.63 113.35"/><path d="M468.62 146.4L304.74 102.77"/><path d="M468.62 146.4L313.84 93.1"/><path d="M468.62 146.4L322.94 84.39"/><path d="M468.62 146.4L332.05 76.67"/><path d="M468.62 146.4L341.15 69.96"/><path d="M468.62 146.4L350.26 64.31"/><path d="M468.62 146.4L359.37 59.71"/><path d="M468.62 146.4L368.47 56.21"/><path d="M468.62 146.4L377.57 53.8"/><path d="M468.62 146.4L386.68 52.5"/><path d="M468.62 146.4L395.79 52.31"/><path d="M468.62 146.4L404.89 53.24"/><path d="M468.62 146.4L414 55.28"/><path d="M468.62 146.4L423.1 58.42"/><path d="M468.62 146.4L432.2 62.65"/><path d="M468.62 146.4L441.31 67.96"/><path d="M468.62 146.4L450.42 74.32"/><path d="M468.62 146.4L459.52 81.71"/><path d="M468.62 146.4L468.62 90.09"/><path d="M468.62 146.4L477.73 99.44"/><path d="M477.73 146.77L486.84 109.72"/><path d="M486.84 147.88L495.94 120.89"/><path d="M495.94 149.74L505.04 132.9"/><path d="M505.04 152.32L514.15 145.7"/><path d="M514.15 155.62L523.25 159.26"/><path d="M523.25 159.62L523.25 159.26"/><path d="M532.36 164.32L523.25 159.26"/><path d="M541.47 169.69L532.36 173.5"/><path d="M550.57 175.71L532.36 173.5"/><path d="M559.67 182.36L541.47 188.38"/><path d="M568.78 189.61L541.47 188.38"/><path d="M577.88 197.44L550.57 203.84"/><path d="M586.99 205.8L550.57 203.84"/><path d="M596.1 214.67L559.67 219.82"/><path d="M605.2 224.02L559.67 219.82"/><path d="M614.31 233.8L568.78 236.25"/><path d="M623.41 243.99L568.78 236.25"/><path d="M632.51 254.53L577.88 253.06"/><path d="M641.62 265.38L586.99 270.2"/><path d="M650.73 276.51L586.99 270.2"/><path d="M659.83 287.87L596.1 287.6"/><path d="M668.93 299.42L605.2 305.18"/><path d="M678.04 311.1L605.2 305.18"/><path d="M687.14 322.88L614.31 322.87"/><path d="M696.25 334.7L623.41 340.62"/><path d="M705.36 346.52L623.41 340.62"/><path d="M714.46 358.3L632.51 358.33"/><path d="M723.57 369.98L641.62 375.96"/><path d="M732.67 381.53L641.62 375.96"/><path d="M741.78 392.89L650.73 393.42"/><path d="M750.88 404.02L659.83 410.66"/><path d="M759.99 414.87L659.83 410.66"/><path d="M769.09 425.41L668.93 427.59"/><path d="M778.19 435.6L668.93 427.59"/><path d="M787.3 445.38L678.04 444.15"/><path d="M796.4 454.73L687.14 460.29"/><path d="M805.51 463.6L687.14 460.29"/><path d="M814.62 471.96L696.25 475.92"/><path d="M823.72 479.79L696.25 475.92"/><path d="M832.83 487.04L705.36 491.01"/><path d="M841.93 493.69L705.36 491.01"/><path d="M851.04 499.71L714.46 505.47"/><path d="M860.14 505.08L714.46 505.47"/><path d="M869.25 509.78L714.46 505.47"/><path d="M878.35 513.78L723.57 519.26"/><path d="M887.45 517.08L723.57 519.26"/><path d="M896.56 519.66L723.57 519.26"/><path d="M905.66 521.52L732.67 532.32"/><path d="M914.77 522.63L741.78 544.6"/><path d="M923.88 523L750.88 556.05"/><path d="M923.88 523L759.99 566.63"/><path d="M923.88 523L769.09 576.3"/><path d="M923.88 523L778.19 585.01"/><path d="M923.88 523L787.3 592.73"/><path d="M923.88 523L796.4 599.44"/><path d="M923.88 523L805.51 605.09"/><path d="M923.88 523L814.62 609.69"/><path d="M923.88 523L823.72 613.19"/><path d="M923.88 523L832.83 615.6"/><path d="M923.88 523L841.93 616.9"/><path d="M923.88 523L851.04 617.09"/><path d="M923.88 523L860.14 616.16"/><path d="M923.88 523L869.25 614.12"/><path d="M923.88 523L878.35 610.98"/><path d="M923.88 523L887.45 606.75"/><path d="M923.88 523L896.56 601.44"/><path d="M923.88 523L905.66 595.08"/><path d="M923.88 523L914.77 587.69"/><path d="M923.88 523L923.88 579.31"/><path d="M923.88 523L932.98 569.96"/><path d="M932.98 522.63L942.09 559.68"/><path d="M942.09 521.52L951.19 548.51"/><path d="M951.19 519.66L960.3 536.5"/><path d="M960.3 517.08L969.4 523.7"/><path d="M969.4 513.78L978.5 510.14"/><path d="M978.5 509.78L978.5 510.14"/><path d="M987.61 505.08L978.5 510.14"/><path d="M996.72 499.71L987.61 495.9"/><path d="M1005.82 493.69L987.61 495.9"/><path d="M1014.92 487.04L996.72 481.02"/><path d="M1024.03 479.79L996.72 481.02"/><path d="M1033.13 471.96L1005.82 465.56"/><path d="M1042.24 463.6L1005.82 465.56"/><path d="M1051.35 454.73L1014.92 449.58"/><path d="M1060.45 445.38L1014.92 449.58"/><path d="M1069.56 435.6L1024.03 433.15"/><path d="M1078.66 425.41L1024.03 433.15"/><path d="M1087.77 414.87L1033.13 416.34"/><path d="M1096.87 404.02L1042.24 399.2"/><path d="M1105.97 392.89L1042.24 399.2"/><path d="M1115.08 381.53L1051.35 381.8"/><path d="M1124.18 369.98L1060.45 364.22"/><path d="M1133.29 358.3L1060.45 364.22"/><path d="M1142.39 346.52L1069.56 346.53"/><path d="M1151.5 334.7L1078.66 328.78"/><path d="M1160.61 322.88L1078.66 328.78"/><path d="M1169.71 311.1L1087.77 311.07"/><path d="M1178.82 299.42L1096.87 293.44"/><path d="M1187.92 287.87L1096.87 293.44"/><path d="M1197.03 276.51L1105.97 275.98"/><path d="M1206.13 265.38L1115.08 258.74"/><path d="M1215.24 254.53L1115.08 258.74"/><path d="M1224.34 243.99L1124.18 241.81"/><path d="M1233.45 233.8L1124.18 241.81"/><path d="M1242.55 224.02L1133.29 225.25"/><path d="M1251.66 214.67L1142.39 209.11"/><path d="M1260.76 205.8L1142.39 209.11"/><path d="M1269.87 197.44L1151.5 193.47"/><path d="M1278.97 189.61L1151.5 193.47"/><path d="M1288.08 182.36L1160.61 178.39"/><path d="M1297.18 175.71L1160.61 178.39"/><path d="M1306.28 169.69L1169.71 163.93"/><path d="M1315.39 164.32L1169.71 163.93"/><path d="M1324.49 159.62L1169.71 163.93"/><path d="M1333.6 155.62L1178.82 150.14"/><path d="M1342.7 152.32L1178.82 150.14"/><path d="M1351.81 149.74L1178.82 150.14"/><path d="M1360.91 147.88L1187.92 137.08"/><path d="M1370.02 146.77L1197.03 124.8"/><path d="M1379.12 146.4L1206.13 113.35"/><path d="M1379.12 146.4L1215.24 102.77"/><path d="M1379.12 146.4L1224.34 93.1"/><path d="M1379.12 146.4L1233.45 84.39"/><path d="M1379.12 146.4L1242.55 76.67"/><path d="M1379.12 146.4L1251.66 69.96"/><path d="M1379.12 146.4L1260.76 64.31"/><path d="M1379.12 146.4L1269.87 59.71"/><path d="M1379.12 146.4L1278.97 56.21"/><path d="M1379.12 146.4L1288.08 53.8"/><path d="M1379.12 146.4L1297.18 52.5"/><path d="M1379.12 146.4L1306.28 52.31"/><path d="M1379.12 146.4L1315.39 53.24"/><path d="M1379.12 146.4L1324.49 55.28"/><path d="M1379.12 146.4L1333.6 58.42"/><path d="M1379.12 146.4L1342.7 62.65"/><path d="M1379.12 146.4L1351.81 67.96"/><path d="M1379.12 146.4L1360.91 74.32"/><path d="M1379.12 146.4L1370.02 81.71"/><path d="M1379.12 146.4L1379.12 90.09"/><path d="M1379.12 146.4L1388.23 99.44"/><path d="M1388.23 146.77L1397.34 109.72"/><path d="M1397.34 147.88L1406.44 120.89"/><path d="M1406.44 149.74L1415.55 132.9"/><path d="M1415.55 152.32L1424.65 145.7"/><path d="M1424.65 155.62L1433.76 159.26"/><path d="M1433.76 159.62L1433.76 159.26"/><path d="M1442.86 164.32L1433.76 159.26"/><path d="M1451.97 169.69L1442.86 173.5"/><path d="M1461.07 175.71L1442.86 173.5"/><path d="M1470.18 182.36L1451.97 188.38"/><path d="M1479.28 189.61L1451.97 188.38"/><path d="M1488.38 197.44L1461.07 203.84"/><path d="M1497.49 205.8L1461.07 203.84"/><path d="M1506.6 214.67L1470.18 219.82"/><path d="M1515.7 224.02L1470.18 219.82"/><path d="M1524.8 233.8L1479.28 236.25"/><path d="M1533.91 243.99L1479.28 236.25"/><path d="M1543.01 254.53L1488.38 253.06"/><path d="M1552.12 265.38L1497.49 270.2"/><path d="M1561.22 276.51L1497.49 270.2"/><path d="M1570.33 287.87L1506.6 287.6"/><path d="M1579.43 299.42L1515.7 305.18"/><path d="M1588.54 311.1L1515.7 305.18"/><path d="M1597.64 322.88L1524.8 322.87"/><path d="M1606.75 334.7L1533.91 340.62"/><path d="M1615.86 346.52L1533.91 340.62"/><path d="M1624.96 358.3L1543.01 358.33"/><path d="M1634.07 369.98L1552.12 375.96"/><path d="M1643.17 381.53L1552.12 375.96"/><path d="M1652.28 392.89L1561.22 393.42"/><path d="M1661.38 404.02L1570.33 410.66"/><path d="M1670.49 414.87L1570.33 410.66"/><path d="M1679.59 425.41L1579.43 427.59"/><path d="M1688.7 435.6L1579.43 427.59"/><path d="M1697.8 445.38L1588.54 444.15"/><path d="M1706.91 454.73L1597.64 460.29"/><path d="M1716.01 463.6L1597.64 460.29"/><path d="M1725.12 471.96L1606.75 475.92"/><path d="M1734.22 479.79L1606.75 475.92"/><path d="M1743.33 487.04L1615.86 491.01"/><path d="M1752.43 493.69L1615.86 491.01"/><path d="M1761.53 499.71L1624.96 505.47"/><path d="M1770.64 505.08L1624.96 505.47"/><path d="M1779.74 509.78L1624.96 505.47"/><path d="M1788.85 513.78L1634.07 519.26"/><path d="M1797.95 517.08L1634.07 519.26"/><path d="M1807.06 519.66L1634.07 519.26"/><path d="M1816.16 521.52L1643.17 532.32"/><path d="M1825.27 522.63L1652.28 544.6"/><path d="M1834.38 523L1661.38 556.05"/><path d="M1834.38 523L1670.49 566.63"/><path d="M1834.38 523L1679.59 576.3"/><path d="M1834.38 523L1688.7 585.01"/><path d="M1834.38 523L1697.8 592.73"/><path d="M1834.38 523L1706.91 599.44"/><path d="M1834.38 523L1716.01 605.09"/><path d="M1834.38 523L1725.12 609.69"/><path d="M1834.38 523L1734.22 613.19"/><path d="M1834.38 523L1743.33 615.6"/><path d="M1834.38 523L1752.43 616.9"/><path d="M1834.38 523L1761.53 617.09"/><path d="M1834.38 523L1770.64 616.16"/><path d="M1834.38 523L1779.74 614.12"/><path d="M1834.38 523L1788.85 610.98"/><path d="M1834.38 523L1797.95 606.75"/><path d="M1834.38 523L1807.06 601.44"/><path d="M1834.38 523L1816.16 595.08"/><path d="M1834.38 523L1825.27 587.69"/><path d="M1834.38 523L1834.38 579.31"/><path d="M1834.38 523L1843.48 569.96"/><path d="M1843.48 522.63L1852.59 559.68"/><path d="M1852.59 521.52L1861.69 548.51"/><path d="M1861.69 519.66L1870.8 536.5"/><path d="M1870.8 517.08L1879.9 523.7"/><path d="M1879.9 513.78L1889.01 510.14"/><path d="M1889.01 509.78L1889.01 510.14"/><path d="M1898.11 505.08L1889.01 510.14"/><path d="M1907.22 499.71L1898.11 495.9"/><path d="M1916.32 493.69L1898.11 495.9"/><path d="M1925.43 487.04L1907.22 481.02"/><path d="M1934.53 479.79L1907.22 481.02"/><path d="M1943.63 471.96L1916.32 465.56"/><path d="M1952.74 463.6L1916.32 465.56"/><path d="M1961.85 454.73L1925.43 449.58"/><path d="M1970.95 445.38L1925.43 449.58"/><path d="M1980.06 435.6L1934.53 433.15"/><path d="M1989.16 425.41L1934.53 433.15"/><path d="M1998.26 414.87L1943.63 416.34"/><path d="M2007.37 404.02L1952.74 399.2"/><path d="M2016.47 392.89L1952.74 399.2"/><path d="M2025.58 381.53L1961.85 381.8"/><path d="M2034.68 369.98L1970.95 364.22"/><path d="M2043.79 358.3L1970.95 364.22"/><path d="M2052.89 346.52L1980.06 346.53"/><path d="M2052.89 346.52L1989.16 328.78"/><path d="M2052.89 346.52L1998.26 311.07"/><path d="M2052.89 346.52L2007.37 293.44"/><path d="M2052.89 346.52L2016.47 275.98"/><path d="M2052.89 346.52L2025.58 258.74"/><path d="M2052.89 346.52L2034.68 241.81"/><path d="M2052.89 346.52L2043.79 225.25"/><path d="M2052.89 346.52L2052.89 209.11"/></g><polyline points="241,334.7 250.1,322.88 259.21,311.1 268.31,299.42 277.42,287.87 286.52,276.51 295.63,265.38 304.74,254.53 313.84,243.99 322.94,233.8 332.05,224.02 341.15,214.67 350.26,205.8 359.37,197.44 368.47,189.61 377.57,182.36 386.68,175.71 395.79,169.69 404.89,164.32 414,159.62 423.1,155.62 432.2,152.32 441.31,149.74 450.42,147.88 459.52,146.77 468.62,146.4 477.73,146.77 486.84,147.88 495.94,149.74 505.04,152.32 514.15,155.62 523.25,159.62 532.36,164.32 541.47,169.69 550.57,175.71 559.67,182.36 568.78,189.61 577.88,197.44 586.99,205.8 596.1,214.67 605.2,224.02 614.31,233.8 623.41,243.99 632.51,254.53 641.62,265.38 650.73,276.51 659.83,287.87 668.93,299.42 678.04,311.1 687.14,322.88 696.25,334.7 705.36,346.52 714.46,358.3 723.57,369.98 732.67,381.53 741.78,392.89 750.88,404.02 759.99,414.87 769.09,425.41 778.19,435.6 787.3,445.38 796.4,454.73 805.51,463.6 814.62,471.96 823.72,479.79 832.83,487.04 841.93,493.69 851.04,499.71 860.14,505.08 869.25,509.78 878.35,513.78 887.45,517.08 896.56,519.66 905.66,521.52 914.77,522.63 923.88,523 932.98,522.63 942.09,521.52 951.19,519.66 960.3,517.08 969.4,513.78 978.5,509.78 987.61,505.08 996.72,499.71 1005.82,493.69 1014.92,487.04 1024.03,479.79 1033.13,471.96 1042.24,463.6 1051.35,454.73 1060.45,445.38 1069.56,435.6 1078.66,425.41 1087.77,414.87 1096.87,404.02 1105.97,392.89 1115.08,381.53 1124.18,369.98 1133.29,358.3 1142.39,346.52 1151.5,334.7 1160.61,322.88 1169.71,311.1 1178.82,299.42 1187.92,287.87 1197.03,276.51 1206.13,265.38 1215.24,254.53 1224.34,243.99 1233.45,233.8 1242.55,224.02 1251.66,214.67 1260.76,205.8 1269.87,197.44 1278.97,189.61 1288.08,182.36 1297.18,175.71 1306.28,169.69 1315.39,164.32 1324.49,159.62 1333.6,155.62 1342.7,152.32 1351.81,149.74 1360.91,147.88 1370.02,146.77 1379.12,146.4 1388.23,146.77 1397.34,147.88 1406.44,149.74 1415.55,152.32 1424.65,155.62 1433.76,159.62 1442.86,164.32 1451.97,169.69 1461.07,175.71 1470.18,182.36 1479.28,189.61 1488.38,197.44 1497.49,205.8 1506.6,214.67 1515.7,224.02 1524.8,233.8 1533.91,243.99 1543.01,254.53 1552.12,265.38 1561.22,276.51 1570.33,287.87 1579.43,299.42 1588.54,311.1 1597.64,322.88 1606.75,334.7 1615.86,346.52 1624.96,358.3 1634.07,369.98 1643.17,381.53 1652.28,392.89 1661.38,404.02 1670.49,414.87 1679.59,425.41 1688.7,435.6 1697.8,445.38 1706.91,454.73 1716.01,463.6 1725.12,471.96 1734.22,479.79 1743.33,487.04 1752.43,493.69 1761.53,499.71 1770.64,505.08 1779.74,509.78 1788.85,513.78 1797.95,517.08 1807.06,519.66 1816.16,521.52 1825.27,522.63 1834.38,523 1843.48,522.63 1852.59,521.52 1861.69,519.66 1870.8,517.08 1879.9,513.78 1889.01,509.78 1898.11,505.08 1907.22,499.71 1916.32,493.69 1925.43,487.04 1934.53,479.79 1943.63,471.96 1952.74,463.6 1961.85,454.73 1970.95,445.38 1980.06,435.6 1989.16,425.41 1998.26,414.87 2007.37,404.02 2016.47,392.89 2025.58,381.53 2034.68,369.98 2043.79,358.3 2052.89,346.52" fill="none" stroke="#e93224" stroke-width="3.1" stroke-linejoin="round" stroke-linecap="square"/><polyline points="241,193.47 250.1,178.39 259.21,163.93 268.31,150.14 277.42,137.08 286.52,124.8 295.63,113.35 304.74,102.77 313.84,93.1 322.94,84.39 332.05,76.67 341.15,69.96 350.26,64.31 359.37,59.71 368.47,56.21 377.57,53.8 386.68,52.5 395.79,52.31 404.89,53.24 414,55.28 423.1,58.42 432.2,62.65 441.31,67.96 450.42,74.32 459.52,81.71 468.62,90.09 477.73,99.44 486.84,109.72 495.94,120.89 505.04,132.9 514.15,145.7 523.25,159.26 532.36,173.5 541.47,188.38 550.57,203.84 559.67,219.82 568.78,236.25 577.88,253.06 586.99,270.2 596.1,287.6 605.2,305.18 614.31,322.87 623.41,340.62 632.51,358.33 641.62,375.96 650.73,393.42 659.83,410.66 668.93,427.59 678.04,444.15 687.14,460.29 696.25,475.92 705.36,491.01 714.46,505.47 723.57,519.26 732.67,532.32 741.78,544.6 750.88,556.05 759.99,566.63 769.09,576.3 778.19,585.01 787.3,592.73 796.4,599.44 805.51,605.09 814.62,609.69 823.72,613.19 832.83,615.6 841.93,616.9 851.04,617.09 860.14,616.16 869.25,614.12 878.35,610.98 887.45,606.75 896.56,601.44 905.66,595.08 914.77,587.69 923.88,579.31 932.98,569.96 942.09,559.68 951.19,548.51 960.3,536.5 969.4,523.7 978.5,510.14 987.61,495.9 996.72,481.02 1005.82,465.56 1014.92,449.58 1024.03,433.15 1033.13,416.34 1042.24,399.2 1051.35,381.8 1060.45,364.22 1069.56,346.53 1078.66,328.78 1087.77,311.07 1096.87,293.44 1105.97,275.98 1115.08,258.74 1124.18,241.81 1133.29,225.25 1142.39,209.11 1151.5,193.47 1160.61,178.39 1169.71,163.93 1178.82,150.14 1187.92,137.08 1197.03,124.8 1206.13,113.35 1215.24,102.77 1224.34,93.1 1233.45,84.39 1242.55,76.67 1251.66,69.96 1260.76,64.31 1269.87,59.71 1278.97,56.21 1288.08,53.8 1297.18,52.5 1306.28,52.31 1315.39,53.24 1324.49,55.28 1333.6,58.42 1342.7,62.65 1351.81,67.96 1360.91,74.32 1370.02,81.71 1379.12,90.09 1388.23,99.44 1397.34,109.72 1406.44,120.89 1415.55,132.9 1424.65,145.7 1433.76,159.26 1442.86,173.5 1451.97,188.38 1461.07,203.84 1470.18,219.82 1479.28,236.25 1488.38,253.06 1497.49,270.2 1506.6,287.6 1515.7,305.18 1524.8,322.87 1533.91,340.62 1543.01,358.33 1552.12,375.96 1561.22,393.42 1570.33,410.66 1579.43,427.59 1588.54,444.15 1597.64,460.29 1606.75,475.92 1615.86,491.01 1624.96,505.47 1634.07,519.26 1643.17,532.32 1652.28,544.6 1661.38,556.05 1670.49,566.63 1679.59,576.3 1688.7,585.01 1697.8,592.73 1706.91,599.44 1716.01,605.09 1725.12,609.69 1734.22,613.19 1743.33,615.6 1752.43,616.9 1761.53,617.09 1770.64,616.16 1779.74,614.12 1788.85,610.98 1797.95,606.75 1807.06,601.44 1816.16,595.08 1825.27,587.69 1834.38,579.31 1843.48,569.96 1852.59,559.68 1861.69,548.51 1870.8,536.5 1879.9,523.7 1889.01,510.14 1898.11,495.9 1907.22,481.02 1916.32,465.56 1925.43,449.58 1934.53,433.15 1943.63,416.34 1952.74,399.2 1961.85,381.8 1970.95,364.22 1980.06,346.53 1989.16,328.78 1998.26,311.07 2007.37,293.44 2016.47,275.98 2025.58,258.74 2034.68,241.81 2043.79,225.25 2052.89,209.11" fill="none" stroke="#0000ff" stroke-width="3.1" stroke-linejoin="round" stroke-linecap="square"/></g><path d="M241 645v-10M241 24v10M469 645v-10M469 24v10M696 645v-10M696 24v10M924 645v-10M924 24v10M1152 645v-10M1152 24v10M1379 645v-10M1379 24v10M1607 645v-10M1607 24v10M1834 645v-10M1834 24v10M2062 645v-10M2062 24v10M150 617h10M2143 617h-10M150 523h10M2143 523h-10M150 429h10M2143 429h-10M150 335h10M2143 335h-10M150 241h10M2143 241h-10M150 146h10M2143 146h-10M150 52h10M2143 52h-10" stroke="#000" stroke-width="2.2" fill="none"/><rect x="150" y="24" width="1993" height="621" fill="none" stroke="#000" stroke-width="2.2"/><text transform="matrix(0.985 0 0 1.07 241 683.1)" text-anchor="middle">0.00</text><text transform="matrix(0.985 0 0 1.07 468.62 683.1)" text-anchor="middle">0.25</text><text transform="matrix(0.985 0 0 1.07 696.25 683.1)" text-anchor="middle">0.50</text><text transform="matrix(0.985 0 0 1.07 923.88 683.1)" text-anchor="middle">0.75</text><text transform="matrix(0.985 0 0 1.07 1151.5 683.1)" text-anchor="middle">1.00</text><text transform="matrix(0.985 0 0 1.07 1379.12 683.1)" text-anchor="middle">1.25</text><text transform="matrix(0.985 0 0 1.07 1606.75 683.1)" text-anchor="middle">1.50</text><text transform="matrix(0.985 0 0 1.07 1834.38 683.1)" text-anchor="middle">1.75</text><text transform="matrix(0.985 0 0 1.07 2062 683.1)" text-anchor="middle">2.00</text><text transform="matrix(0.985 0 0 1.07 140.4 630.9)" text-anchor="end">−1.5</text><text transform="matrix(0.985 0 0 1.07 140.4 536.9)" text-anchor="end">−1.0</text><text transform="matrix(0.985 0 0 1.07 140.4 442.9)" text-anchor="end">−0.5</text><text transform="matrix(0.985 0 0 1.07 140.4 348.9)" text-anchor="end">0.0</text><text transform="matrix(0.985 0 0 1.07 140.4 254.9)" text-anchor="end">0.5</text><text transform="matrix(0.985 0 0 1.07 140.4 159.9)" text-anchor="end">1.0</text><text transform="matrix(0.985 0 0 1.07 140.4 65.9)" text-anchor="end">1.5</text><text x="1146.5" y="728.3" text-anchor="middle" dx="1.4">Time [s]</text><text transform="translate(50.1 336) rotate(-90)" text-anchor="middle">Amplitude</text><rect x="2183.6" y="24.3" width="159.9" height="121.3" rx="5.5" fill="#fff" fill-opacity=".8" stroke="#ccc" stroke-opacity=".8" stroke-width="2.7"/><path d="M2198 53.4h80" stroke="#e93224" stroke-width="3"/><path d="M2198 108.4h80" stroke="#00f" stroke-width="3"/><text x="2307.9" y="67.2">x</text><text x="2307.9" y="120.3">y</text><text x="516.5" y="811" text-anchor="middle" font-size="46.67">Local Cost Matrix D</text><path d="M152 1449v-10M150 1448h10M335 1449v-10M150 1292h10M518 1449v-10M150 1137h10M702 1449v-10M150 982h10" stroke="#000" stroke-width="2.2" fill="none"/><rect x="150" y="828" width="733" height="621" fill="none" stroke="#000" stroke-width="2.2"/><text transform="matrix(0.985 0 0 1.07 151.83 1486.1)" text-anchor="middle">0</text><text transform="matrix(0.985 0 0 1.07 140.2 1461.95)" text-anchor="end">0</text><text transform="matrix(0.985 0 0 1.07 335.08 1486.1)" text-anchor="middle">50</text><text transform="matrix(0.985 0 0 1.07 140.2 1306.61)" text-anchor="end">50</text><text transform="matrix(0.985 0 0 1.07 518.33 1486.1)" text-anchor="middle">100</text><text transform="matrix(0.985 0 0 1.07 140.2 1151.28)" text-anchor="end">100</text><text transform="matrix(0.985 0 0 1.07 701.58 1486.1)" text-anchor="middle">150</text><text transform="matrix(0.985 0 0 1.07 140.2 995.94)" text-anchor="end">150</text><text x="516.5" y="1532" text-anchor="middle">y index j</text><text transform="translate(62.9 1139.7) rotate(-90)" text-anchor="middle">x index i</text><rect x="929" y="828" width="31" height="621" fill="url(#gb)" stroke="#000" stroke-width="2.2"/><text transform="matrix(0.985 0 0 1.07 969.7 1338.52)">0.5</text><text transform="matrix(0.985 0 0 1.07 969.7 1214.23)">1.0</text><text transform="matrix(0.985 0 0 1.07 969.7 1089.94)">1.5</text><text transform="matrix(0.985 0 0 1.07 969.7 965.66)">2.0</text><path d="M960 1325h-10M960 1201h-10M960 1076h-10M960 952h-10" stroke="#000" stroke-width="2.2" fill="none"/><text transform="translate(1057.4 1141.2) rotate(-90)" text-anchor="middle">distance</text><text x="1594" y="811" text-anchor="middle" font-size="46.67">Global Cost C &amp; Warping Path</text><path d="M1230 1449v-10M1228 1448h10M1413 1449v-10M1228 1292h10M1596 1449v-10M1228 1137h10M1779 1449v-10M1228 982h10" stroke="#000" stroke-width="2.2" fill="none"/><polyline clip-path="url(#cc)" points="1229.83,1447.75 1229.83,1444.64 1229.83,1441.53 1229.83,1438.43 1229.83,1435.32 1229.83,1432.21 1229.83,1429.11 1229.83,1426 1229.83,1422.89 1229.83,1419.79 1229.83,1416.68 1229.83,1413.57 1229.83,1410.47 1229.83,1407.36 1229.83,1404.25 1233.49,1401.15 1233.49,1398.04 1237.15,1394.93 1237.15,1391.83 1237.15,1388.72 1240.81,1385.61 1240.81,1382.51 1240.81,1379.4 1244.47,1376.29 1248.13,1373.19 1251.79,1370.08 1255.45,1370.08 1259.11,1370.08 1262.77,1370.08 1266.43,1370.08 1270.09,1370.08 1273.75,1370.08 1277.41,1370.08 1281.07,1370.08 1284.73,1370.08 1288.39,1370.08 1292.05,1370.08 1295.71,1370.08 1299.37,1370.08 1303.03,1370.08 1306.69,1370.08 1310.35,1370.08 1314.01,1370.08 1317.67,1370.08 1321.33,1370.08 1324.99,1370.08 1328.65,1366.97 1332.31,1363.87 1335.97,1360.76 1339.63,1357.65 1343.29,1354.55 1343.29,1351.44 1343.29,1348.33 1346.95,1345.23 1346.95,1342.12 1350.61,1339.01 1350.61,1335.91 1354.27,1332.8 1354.27,1329.69 1357.93,1326.59 1357.93,1323.48 1361.59,1320.37 1361.59,1317.27 1365.25,1314.16 1368.91,1311.05 1368.91,1307.95 1372.57,1304.84 1376.23,1301.73 1376.23,1298.63 1379.89,1295.52 1383.55,1292.41 1383.55,1289.3 1387.21,1286.2 1390.87,1283.09 1390.87,1279.98 1394.53,1276.88 1398.19,1273.77 1398.19,1270.66 1401.85,1267.56 1401.85,1264.45 1405.51,1261.34 1409.17,1258.24 1409.17,1255.13 1412.83,1252.02 1412.83,1248.92 1416.49,1245.81 1416.49,1242.7 1420.15,1239.6 1420.15,1236.49 1420.15,1233.38 1423.81,1230.28 1423.81,1227.17 1423.81,1224.06 1427.47,1220.96 1431.13,1217.85 1434.79,1214.74 1438.45,1214.74 1442.11,1214.74 1445.77,1214.74 1449.43,1214.74 1453.09,1214.74 1456.75,1214.74 1460.41,1214.74 1464.07,1214.74 1467.73,1214.74 1471.39,1214.74 1475.05,1214.74 1478.71,1214.74 1482.37,1214.74 1486.03,1214.74 1489.69,1214.74 1493.35,1214.74 1497.01,1214.74 1500.67,1214.74 1504.33,1214.74 1507.99,1214.74 1511.65,1211.64 1515.31,1208.53 1518.97,1205.42 1522.63,1202.32 1526.29,1199.21 1526.29,1196.1 1526.29,1193 1529.95,1189.89 1529.95,1186.78 1533.61,1183.68 1533.61,1180.57 1537.27,1177.46 1537.27,1174.36 1540.93,1171.25 1540.93,1168.14 1544.59,1165.04 1544.59,1161.93 1548.25,1158.82 1551.91,1155.72 1551.91,1152.61 1555.57,1149.5 1559.23,1146.4 1559.23,1143.29 1562.89,1140.18 1566.55,1137.08 1566.55,1133.97 1570.21,1130.86 1573.87,1127.76 1573.87,1124.65 1577.53,1121.54 1581.19,1118.44 1581.19,1115.33 1584.85,1112.22 1584.85,1109.12 1588.51,1106.01 1592.17,1102.9 1592.17,1099.8 1595.83,1096.69 1595.83,1093.58 1599.49,1090.48 1599.49,1087.37 1603.15,1084.26 1603.15,1081.16 1603.15,1078.05 1606.81,1074.94 1606.81,1071.84 1606.81,1068.73 1610.47,1065.62 1614.13,1062.52 1617.79,1059.41 1621.45,1059.41 1625.11,1059.41 1628.77,1059.41 1632.43,1059.41 1636.09,1059.41 1639.75,1059.41 1643.41,1059.41 1647.07,1059.41 1650.73,1059.41 1654.39,1059.41 1658.05,1059.41 1661.71,1059.41 1665.37,1059.41 1669.03,1059.41 1672.69,1059.41 1676.35,1059.41 1680.01,1059.41 1683.67,1059.41 1687.33,1059.41 1690.99,1059.41 1694.65,1056.3 1698.31,1053.2 1701.97,1050.09 1705.63,1046.98 1709.29,1043.88 1709.29,1040.77 1709.29,1037.66 1712.95,1034.56 1712.95,1031.45 1716.61,1028.34 1716.61,1025.24 1720.27,1022.13 1720.27,1019.02 1723.93,1015.92 1723.93,1012.81 1727.59,1009.7 1727.59,1006.6 1731.25,1003.49 1734.91,1000.38 1734.91,997.28 1738.57,994.17 1742.23,991.06 1742.23,987.96 1745.89,984.85 1749.55,981.74 1749.55,978.63 1753.21,975.53 1756.87,972.42 1756.87,969.31 1760.53,966.21 1764.19,963.1 1764.19,959.99 1767.85,956.89 1767.85,953.78 1771.51,950.67 1775.17,947.57 1775.17,944.46 1778.83,941.35 1778.83,938.25 1782.49,935.14 1782.49,932.03 1786.15,928.93 1786.15,925.82 1786.15,922.71 1789.81,919.61 1789.81,916.5 1789.81,913.39 1793.47,910.29 1797.13,907.18 1800.79,904.07 1804.45,904.07 1808.11,904.07 1811.77,904.07 1815.43,904.07 1819.09,904.07 1822.75,904.07 1826.41,904.07 1830.07,904.07 1833.73,904.07 1837.39,904.07 1841.05,904.07 1844.71,904.07 1848.37,904.07 1852.03,904.07 1855.69,904.07 1859.35,904.07 1863.01,904.07 1866.67,904.07 1870.33,904.07 1873.99,904.07 1877.65,900.97 1881.31,897.86 1884.97,894.75 1888.63,891.65 1892.29,888.54 1892.29,885.43 1892.29,882.33 1895.95,879.22 1895.95,876.11 1899.61,873.01 1899.61,869.9 1903.27,866.79 1903.27,863.69 1906.93,860.58 1906.93,857.47 1910.59,854.37 1910.59,851.26 1914.25,848.15 1917.91,845.05 1917.91,841.94 1921.57,838.83 1925.23,835.73 1925.23,832.62 1928.89,829.51 1932.55,829.51 1936.21,829.51 1939.87,829.51 1943.53,829.51 1947.19,829.51 1950.85,829.51 1954.51,829.51 1958.17,829.51" fill="none" stroke="#00f" stroke-width="5.6" stroke-linejoin="round" stroke-linecap="square"/><rect x="1228" y="828" width="732" height="621" fill="none" stroke="#000" stroke-width="2.2"/><text transform="matrix(0.985 0 0 1.07 1229.83 1486.1)" text-anchor="middle">0</text><text transform="matrix(0.985 0 0 1.07 1218.2 1461.95)" text-anchor="end">0</text><text transform="matrix(0.985 0 0 1.07 1412.83 1486.1)" text-anchor="middle">50</text><text transform="matrix(0.985 0 0 1.07 1218.2 1306.61)" text-anchor="end">50</text><text transform="matrix(0.985 0 0 1.07 1595.83 1486.1)" text-anchor="middle">100</text><text transform="matrix(0.985 0 0 1.07 1218.2 1151.28)" text-anchor="end">100</text><text transform="matrix(0.985 0 0 1.07 1778.83 1486.1)" text-anchor="middle">150</text><text transform="matrix(0.985 0 0 1.07 1218.2 995.94)" text-anchor="end">150</text><text x="1594" y="1532" text-anchor="middle">y index j</text><text transform="translate(1140.2 1139.7) rotate(-90)" text-anchor="middle">x index i</text><rect x="2006" y="828" width="31" height="621" fill="url(#gb)" stroke="#000" stroke-width="2.2"/><text transform="matrix(0.985 0 0 1.07 2047.6 1310.78)">50</text><text transform="matrix(0.985 0 0 1.07 2047.6 1156.45)">100</text><text transform="matrix(0.985 0 0 1.07 2047.6 1001.7)">150</text><text transform="matrix(0.985 0 0 1.07 2047.6 847.79)">200</text><path d="M2037 1297h-10M2037 1143h-10M2037 988h-10M2037 834h-10" stroke="#000" stroke-width="2.2" fill="none"/><text transform="translate(2144.0 1139.3) rotate(-90)" text-anchor="middle">cumulative cost</text><rect x="1247.2" y="847.1" width="352.3" height="67.4" rx="5.5" fill="#fff" fill-opacity=".8" stroke="#ccc" stroke-opacity=".8" stroke-width="2.7"/><path d="M1260 875.95h84.1" stroke="#00f" stroke-width="5.8"/><text x="1372.2" y="889.8">Warping Path</text><text x="1940.6" y="1543.7" font-size="33.5">DTW distance = 0.1636</text></svg>
</div></body></html>
